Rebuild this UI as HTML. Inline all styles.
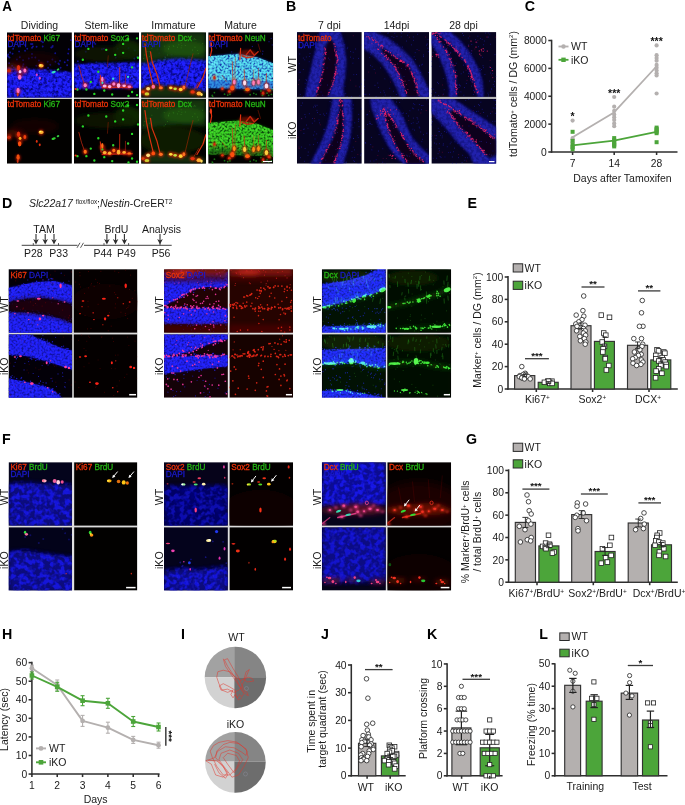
<!DOCTYPE html>
<html><head><meta charset="utf-8"><title>Figure</title>
<style>
html,body{margin:0;padding:0;background:#fff;}
body{width:685px;height:805px;overflow:hidden;position:relative;}
svg{position:absolute;left:0;top:0;display:block;font-family:"Liberation Sans", Arial, sans-serif;will-change:transform;}
</style></head><body>
<svg width="685" height="805" viewBox="0 0 685 805">
<defs>
<filter id="b03" x="-10%" y="-10%" width="120%" height="120%"><feGaussianBlur stdDeviation="0.35"/></filter>
<filter id="b05" x="-10%" y="-10%" width="120%" height="120%"><feGaussianBlur stdDeviation="0.65"/></filter>
<filter id="b1" x="-10%" y="-10%" width="120%" height="120%"><feGaussianBlur stdDeviation="1"/></filter>
<filter id="b2" x="-20%" y="-20%" width="140%" height="140%"><feGaussianBlur stdDeviation="2"/></filter>
<filter id="b4" x="-30%" y="-30%" width="160%" height="160%"><feGaussianBlur stdDeviation="4"/></filter>
<filter id="cell" x="-5%" y="-5%" width="110%" height="110%" color-interpolation-filters="sRGB">
<feTurbulence type="fractalNoise" baseFrequency="0.34" numOctaves="2" seed="3" result="n"/>
<feColorMatrix in="n" type="matrix" values="0 0 0 0 0  0 0 0 0 0  0 0 0 0 0  3.4 0 0 0 -1.05" result="a"/>
<feGaussianBlur in="SourceGraphic" stdDeviation="0.9" result="s"/>
<feComposite in="s" in2="a" operator="in"/></filter>
<filter id="cell2" x="-5%" y="-5%" width="110%" height="110%" color-interpolation-filters="sRGB">
<feTurbulence type="fractalNoise" baseFrequency="0.5" numOctaves="2" seed="8" result="n"/>
<feColorMatrix in="n" type="matrix" values="0 0 0 0 0  0 0 0 0 0  0 0 0 0 0  3.0 0 0 0 -0.75" result="a"/>
<feGaussianBlur in="SourceGraphic" stdDeviation="0.7" result="s"/>
<feComposite in="s" in2="a" operator="in"/></filter>
<filter id="cellb" x="-5%" y="-5%" width="110%" height="110%" color-interpolation-filters="sRGB">
<feTurbulence type="fractalNoise" baseFrequency="0.2" numOctaves="2" seed="5" result="n"/>
<feColorMatrix in="n" type="matrix" values="0 0 0 0 0  0 0 0 0 0  0 0 0 0 0  4.5 0 0 0 -1.9" result="a"/>
<feGaussianBlur in="SourceGraphic" stdDeviation="2" result="s"/>
<feComposite in="s" in2="a" operator="in"/></filter>
</defs>
<text x="39.5" y="28.8" font-size="10.5" text-anchor="middle" fill="#1a1a1a">Dividing</text>
<text x="106.5" y="28.8" font-size="10.5" text-anchor="middle" fill="#1a1a1a">Stem-like</text>
<text x="173.5" y="28.8" font-size="10.5" text-anchor="middle" fill="#1a1a1a">Immature</text>
<text x="240.5" y="28.8" font-size="10.5" text-anchor="middle" fill="#1a1a1a">Mature</text>
<rect x="7" y="97.4" width="64.9" height="2" fill="#c4c4c4"/>
<rect x="74.0" y="97.4" width="65.0" height="2" fill="#c4c4c4"/>
<rect x="141.1" y="97.4" width="64.9" height="2" fill="#c4c4c4"/>
<rect x="208.2" y="97.4" width="65.0" height="2" fill="#c4c4c4"/>
<clipPath id="c1"><rect x="7" y="32.3" width="64.9" height="65.5"/></clipPath>
<g clip-path="url(#c1)">
<rect x="7" y="32.3" width="64.9" height="65.5" fill="#030106"/>
<g filter="url(#b1)" opacity="0.75"><g transform="translate(5.00,30.00) scale(0.19853)">
<polygon points="10,192 120,196 200,200 337,214 337,340 10,340" fill="#1010d0"/>
</g></g>
<g filter="url(#cell)"><g transform="translate(5.00,30.00) scale(0.19853)">
<polygon points="10,192 120,196 200,200 337,214 337,340 10,340" fill="#2020ff"/>
</g></g>
<g filter="url(#b05)"><g transform="translate(5.00,30.00) scale(0.19853)">
<path d="M64 294h0M218 263h0M81 309h0M274 268h0M175 227h0M11 247h0M201 202h0M270 226h0M86 198h0M336 301h0M296 283h0M21 241h0M173 209h0M321 247h0M61 313h0M51 329h0M158 274h0M122 264h0M71 197h0M293 227h0M265 223h0M327 324h0M257 305h0M200 300h0M50 262h0M280 222h0M312 323h0M144 246h0M158 249h0M335 249h0M19 206h0M245 339h0M172 265h0M190 303h0M83 282h0M192 284h0M69 217h0M124 329h0M123 280h0M110 207h0M31 312h0M264 247h0M233 292h0M304 334h0M143 338h0M324 279h0M299 265h0M133 229h0M296 216h0M33 311h0M263 264h0M94 235h0M147 217h0M33 242h0M304 338h0M254 263h0M92 334h0M182 300h0M19 223h0M284 310h0M298 281h0M149 278h0M288 238h0M185 233h0M234 333h0M18 280h0M221 318h0M201 230h0M143 334h0M306 212h0" fill="none" stroke="#2828ff" stroke-width="10" stroke-linecap="round" opacity="0.6"/>
<path d="M41 206h0M18 258h0M56 320h0M224 211h0M186 240h0M171 225h0M64 219h0M134 297h0M242 321h0M263 309h0M13 261h0M31 305h0M67 297h0M93 295h0M113 198h0M137 238h0M305 236h0M175 273h0M207 267h0M250 335h0M111 296h0M182 275h0M31 313h0M329 245h0M114 339h0M45 203h0M34 313h0M258 258h0M221 258h0M179 250h0" fill="none" stroke="#000020" stroke-width="9" stroke-linecap="round" opacity="0.55"/>
<path d="M141 83h0M26 113h0M91 152h0M277 155h0M159 84h0M136 121h0M217 190h0M38 120h0M171 154h0M301 163h0M215 160h0M228 175h0M239 149h0M90 183h0M136 139h0M280 190h0M333 51h0M112 95h0M138 71h0M191 62h0M109 187h0M253 117h0M45 189h0M240 80h0M120 143h0M233 88h0M321 97h0M93 173h0M60 149h0M75 137h0M101 105h0M318 118h0M153 139h0M102 75h0M136 89h0M72 189h0M21 168h0M316 152h0M16 123h0M23 138h0M239 85h0M12 129h0M41 95h0M158 180h0M131 70h0M269 169h0M183 57h0M71 108h0M190 83h0M272 172h0M313 178h0M16 134h0M36 180h0M254 160h0M72 59h0" fill="none" stroke="#1818c8" stroke-width="10" stroke-linecap="round" opacity="0.7"/>
</g></g>
<g filter="url(#b2)"><g transform="translate(5.00,30.00) scale(0.19853)">
<ellipse cx="50" cy="185" rx="50" ry="20" fill="#6a1000" opacity="0.55"/>
<ellipse cx="150" cy="150" rx="120" ry="40" fill="#200400" opacity="0.5"/>
</g></g>
<g filter="url(#b1)"><g transform="translate(5.00,30.00) scale(0.19853)">
<ellipse cx="68" cy="195" rx="13" ry="16" fill="#d82008" opacity="0.65"/>
<ellipse cx="76" cy="225" rx="13" ry="16" fill="#d82008" opacity="0.65"/>
<ellipse cx="100" cy="204" rx="13" ry="16" fill="#d82008" opacity="0.65"/>
<ellipse cx="66" cy="308" rx="13" ry="16" fill="#d82008" opacity="0.65"/>
<ellipse cx="182" cy="180" rx="13" ry="16" fill="#d82008" opacity="0.65"/>
<ellipse cx="20" cy="205" rx="13" ry="16" fill="#d82008" opacity="0.65"/>
</g></g>
<g filter="url(#b05)"><g transform="translate(5.00,30.00) scale(0.19853)">
<ellipse cx="68" cy="190" rx="8" ry="14" fill="#e03010"/>
<ellipse cx="76" cy="210" rx="7" ry="8" fill="#ffd0f0"/>
<ellipse cx="74" cy="238" rx="9" ry="13" fill="#ff70c0"/>
<ellipse cx="100" cy="204" rx="7" ry="10" fill="#ff70c0"/>
<ellipse cx="66" cy="305" rx="8" ry="14" fill="#ff70c0"/>
<ellipse cx="64" cy="325" rx="5" ry="10" fill="#d03010"/>
<ellipse cx="182" cy="180" rx="13" ry="9" fill="#ffb030"/>
<ellipse cx="178" cy="176" rx="6" ry="4" fill="#ffff60"/>
<ellipse cx="160" cy="226" rx="5" ry="7" fill="#e040c0"/>
<ellipse cx="175" cy="243" rx="5" ry="7" fill="#e040c0"/>
<ellipse cx="245" cy="212" rx="11" ry="6" fill="#30e0c0" transform="rotate(-15 245 212)"/>
<ellipse cx="267" cy="199" rx="7" ry="5" fill="#30d040" transform="rotate(-30 267 199)"/>
<ellipse cx="20" cy="205" rx="10" ry="8" fill="#c02808"/>
</g></g>
</g>
<clipPath id="c2"><rect x="74.0" y="32.3" width="65.0" height="65.5"/></clipPath>
<g clip-path="url(#c2)">
<rect x="74.0" y="32.3" width="65.0" height="65.5" fill="#030106"/>
<g filter="url(#b1)" opacity="0.75"><g transform="translate(5.00,30.00) scale(0.19853)">
<polygon points="348,172 500,166 685,164 685,292 348,296" fill="#1010d0"/>
</g></g>
<g filter="url(#cell)"><g transform="translate(5.00,30.00) scale(0.19853)">
<polygon points="348,172 500,166 685,164 685,292 348,296" fill="#2020ff"/>
</g></g>
<g filter="url(#b05)"><g transform="translate(5.00,30.00) scale(0.19853)">
<path d="M671 183h0M356 296h0M410 180h0M568 210h0M648 195h0M671 206h0M551 287h0M579 286h0M587 170h0M645 242h0M453 189h0M634 241h0M664 266h0M672 239h0M583 245h0M435 290h0M453 267h0M670 250h0M396 273h0M573 188h0M365 234h0M359 286h0M519 232h0M486 251h0M657 205h0M474 241h0M448 243h0M531 221h0M575 234h0M378 296h0M468 221h0M484 287h0M669 232h0M483 177h0M650 187h0M532 210h0M459 211h0M528 269h0M566 191h0M582 171h0M486 273h0M658 225h0M633 230h0M525 241h0M682 262h0M507 260h0M565 211h0M612 272h0M553 288h0M354 230h0M562 209h0M406 255h0M494 200h0M362 292h0M467 180h0M421 198h0M640 188h0M441 177h0M506 191h0M464 261h0M660 274h0M361 214h0M634 168h0M416 229h0M477 263h0M590 225h0M432 194h0M438 173h0M572 185h0M648 249h0" fill="none" stroke="#2828ff" stroke-width="10" stroke-linecap="round" opacity="0.6"/>
<path d="M367 230h0M551 170h0M512 168h0M633 195h0M528 182h0M463 278h0M624 165h0M476 249h0M407 270h0M649 237h0M470 276h0M521 189h0M442 185h0M631 231h0M583 272h0M676 189h0M485 279h0M605 215h0M569 190h0M403 171h0M476 195h0M522 292h0M400 238h0M639 243h0M526 265h0M355 289h0M579 270h0M626 177h0M370 188h0M518 288h0" fill="none" stroke="#000020" stroke-width="9" stroke-linecap="round" opacity="0.55"/>
<path d="M654 103h0M558 138h0M460 162h0M665 136h0M652 144h0M568 94h0M443 85h0M367 157h0M449 63h0M455 71h0M498 95h0M407 110h0M488 97h0M622 92h0" fill="none" stroke="#1818c8" stroke-width="10" stroke-linecap="round" opacity="0.7"/>
</g></g>
<g filter="url(#b2)"><g transform="translate(5.00,30.00) scale(0.19853)">
<ellipse cx="620" cy="100" rx="70" ry="50" fill="#0c3008" opacity="0.8"/>
<ellipse cx="500" cy="120" rx="150" ry="40" fill="#0a1c06" opacity="0.7"/>
</g></g>
<g filter="url(#b1)"><g transform="translate(5.00,30.00) scale(0.19853)">
<ellipse cx="404" cy="278" rx="14" ry="15" fill="#d82008" opacity="0.7"/>
<ellipse cx="490" cy="255" rx="14" ry="15" fill="#d82008" opacity="0.7"/>
<ellipse cx="502" cy="282" rx="14" ry="15" fill="#d82008" opacity="0.7"/>
<ellipse cx="527" cy="285" rx="14" ry="15" fill="#d82008" opacity="0.7"/>
<ellipse cx="548" cy="272" rx="14" ry="15" fill="#d82008" opacity="0.7"/>
<ellipse cx="572" cy="278" rx="14" ry="15" fill="#d82008" opacity="0.7"/>
<ellipse cx="600" cy="281" rx="14" ry="15" fill="#d82008" opacity="0.7"/>
<ellipse cx="626" cy="286" rx="14" ry="15" fill="#d82008" opacity="0.7"/>
</g></g>
<g filter="url(#b05)"><g transform="translate(5.00,30.00) scale(0.19853)">
<path d="M420 95h0M510 100h0M595 70h0M555 125h0M595 115h0M665 42h0M670 140h0M640 188h0M392 150h0M365 300h0M410 300h0M450 322h0M500 305h0M540 325h0M640 312h0M665 328h0M622 332h0M620 45h0M470 210h0M432 262h0" fill="none" stroke="#28d828" stroke-width="12" stroke-linecap="round"/>
<path d="M545 245h0M620 236h0M490 266h0" fill="none" stroke="#30d8d0" stroke-width="12" stroke-linecap="round"/>
<polyline points="372,180 385,230 402,278" fill="none" stroke="#d02810" stroke-width="4" stroke-linecap="round" stroke-linejoin="round" opacity="0.9"/>
<polyline points="480,228 484,280" fill="none" stroke="#e03010" stroke-width="5" stroke-linecap="round" stroke-linejoin="round"/>
<polyline points="578,190 577,282" fill="none" stroke="#e03010" stroke-width="4" stroke-linecap="round" stroke-linejoin="round"/>
<polyline points="520,130 516,185" fill="none" stroke="#a02008" stroke-width="3" stroke-linecap="round" stroke-linejoin="round" opacity="0.8"/>
<polyline points="607,225 606,280" fill="none" stroke="#d02810" stroke-width="3" stroke-linecap="round" stroke-linejoin="round" opacity="0.9"/>
<polyline points="490,290 640,288" fill="none" stroke="#e02810" stroke-width="8" stroke-linecap="round" stroke-linejoin="round" opacity="0.85"/>
<ellipse cx="404" cy="278" rx="8" ry="10" fill="#ff80c8"/>
<ellipse cx="490" cy="248" rx="6" ry="14" fill="#ff80c8"/>
<ellipse cx="502" cy="282" rx="10" ry="8" fill="#ffb0e0"/>
<ellipse cx="527" cy="285" rx="9" ry="8" fill="#ffb0e0"/>
<ellipse cx="548" cy="272" rx="8" ry="9" fill="#ff80c8"/>
<ellipse cx="572" cy="280" rx="9" ry="12" fill="#ffb0e0"/>
<ellipse cx="600" cy="281" rx="9" ry="7" fill="#ffb0e0"/>
<ellipse cx="626" cy="286" rx="9" ry="6" fill="#ff80c8"/>
<ellipse cx="356" cy="297" rx="6" ry="5" fill="#e03010"/>
</g></g>
</g>
<clipPath id="c3"><rect x="141.1" y="32.3" width="64.9" height="65.5"/></clipPath>
<g clip-path="url(#c3)">
<rect x="141.1" y="32.3" width="64.9" height="65.5" fill="#030106"/>
<g filter="url(#b1)" opacity="0.75"><g transform="translate(139.00,30.00) scale(0.19853)">
<polygon points="10,168 100,150 200,140 337,150 337,312 280,300 230,290 180,276 130,286 60,272 10,300" fill="#1010d0"/>
</g></g>
<g filter="url(#cell)"><g transform="translate(139.00,30.00) scale(0.19853)">
<polygon points="10,168 100,150 200,140 337,150 337,312 280,300 230,290 180,276 130,286 60,272 10,300" fill="#2020ff"/>
</g></g>
<g filter="url(#b05)"><g transform="translate(139.00,30.00) scale(0.19853)">
<path d="M243 284h0M73 255h0M40 270h0M59 262h0M247 272h0M333 160h0M252 216h0M38 271h0M286 167h0M117 193h0M187 203h0M302 299h0M227 277h0M291 186h0M41 225h0M60 165h0M167 255h0M328 163h0M260 232h0M89 249h0M95 251h0M222 207h0M270 209h0M92 172h0M198 215h0M296 183h0M131 150h0M157 194h0M157 271h0M243 280h0M186 239h0M144 208h0M82 192h0M106 198h0M307 277h0M220 143h0M96 233h0M236 212h0M97 206h0M259 195h0M246 208h0M16 220h0M32 275h0M286 231h0M304 177h0M156 170h0M26 282h0M192 261h0M270 158h0M70 164h0M175 154h0M271 225h0M240 184h0M224 218h0M222 211h0M334 286h0M282 199h0M72 166h0M86 247h0M91 193h0M254 245h0M319 181h0M98 151h0M194 222h0M121 271h0M235 167h0M25 170h0M277 266h0M84 180h0M110 257h0" fill="none" stroke="#2828ff" stroke-width="10" stroke-linecap="round" opacity="0.6"/>
<path d="M255 181h0M118 181h0M319 235h0M317 182h0M217 238h0M315 203h0M322 228h0M119 155h0M127 217h0M195 181h0M45 229h0M326 290h0M109 275h0M282 240h0M128 174h0M240 258h0M80 164h0M300 229h0M210 262h0M61 229h0M57 245h0M302 153h0M176 224h0M324 224h0M307 265h0M285 200h0M41 250h0M47 248h0M69 244h0M76 170h0" fill="none" stroke="#000020" stroke-width="9" stroke-linecap="round" opacity="0.55"/>
<path d="M148 147h0M93 98h0M135 56h0M186 81h0M164 124h0M228 74h0M222 104h0M260 50h0M102 117h0M192 100h0M183 112h0M251 133h0M265 141h0M198 67h0M131 136h0M262 112h0" fill="none" stroke="#1818c8" stroke-width="10" stroke-linecap="round" opacity="0.7"/>
</g></g>
<g filter="url(#b2)"><g transform="translate(139.00,30.00) scale(0.19853)">
<polygon points="10,12 337,12 337,150 200,140 100,150 10,168" fill="#143a0a" opacity="0.9"/>
<ellipse cx="230" cy="95" rx="110" ry="40" fill="#1f5a10" opacity="0.7"/>
<polygon points="10,300 60,280 180,285 337,310 337,340 10,340" fill="#1a3008" opacity="0.9"/>
</g></g>
<g filter="url(#b1)"><g transform="translate(139.00,30.00) scale(0.19853)">
<ellipse cx="46" cy="296" rx="15" ry="14" fill="#d82808" opacity="0.7"/>
<ellipse cx="72" cy="286" rx="15" ry="14" fill="#d82808" opacity="0.7"/>
<ellipse cx="110" cy="291" rx="15" ry="14" fill="#d82808" opacity="0.7"/>
<ellipse cx="160" cy="291" rx="15" ry="14" fill="#d82808" opacity="0.7"/>
<ellipse cx="182" cy="296" rx="15" ry="14" fill="#d82808" opacity="0.7"/>
<ellipse cx="210" cy="300" rx="15" ry="14" fill="#d82808" opacity="0.7"/>
<ellipse cx="226" cy="290" rx="15" ry="14" fill="#d82808" opacity="0.7"/>
<ellipse cx="270" cy="312" rx="15" ry="14" fill="#d82808" opacity="0.7"/>
<ellipse cx="302" cy="320" rx="15" ry="14" fill="#d82808" opacity="0.7"/>
<ellipse cx="40" cy="322" rx="15" ry="14" fill="#d82808" opacity="0.7"/>
<ellipse cx="20" cy="312" rx="15" ry="14" fill="#d82808" opacity="0.7"/>
</g></g>
<g filter="url(#b05)"><g transform="translate(139.00,30.00) scale(0.19853)">
<path d="M133 140h0M286 48h0M295 103h0M24 144h0M94 60h0M149 97h0M51 109h0M282 87h0M270 101h0M280 44h0M127 81h0M44 147h0M218 33h0M201 74h0M72 41h0M161 29h0M194 87h0M52 134h0M23 42h0M277 49h0M149 93h0M152 84h0M175 83h0M29 126h0M102 26h0M144 126h0M216 79h0M166 49h0M212 66h0M31 37h0M40 109h0M298 118h0M82 39h0M321 69h0M65 94h0M212 90h0M158 59h0M172 79h0M233 78h0M126 148h0" fill="none" stroke="#3a8a20" stroke-width="5" stroke-linecap="round" opacity="0.6"/>
<polyline points="30,70 38,130 52,200 72,282" fill="none" stroke="#d83010" stroke-width="6" stroke-linecap="round" stroke-linejoin="round"/>
<polyline points="58,110 66,160 90,222 106,286" fill="none" stroke="#d83010" stroke-width="6" stroke-linecap="round" stroke-linejoin="round"/>
<polyline points="232,282 256,182 272,120" fill="none" stroke="#a02808" stroke-width="4" stroke-linecap="round" stroke-linejoin="round" opacity="0.8"/>
<polyline points="292,292 322,240 337,192" fill="none" stroke="#d83010" stroke-width="6" stroke-linecap="round" stroke-linejoin="round"/>
<polyline points="278,300 300,262" fill="none" stroke="#d02810" stroke-width="3" stroke-linecap="round" stroke-linejoin="round"/>
<ellipse cx="46" cy="296" rx="10" ry="9" fill="#ffe080"/>
<ellipse cx="72" cy="286" rx="9" ry="10" fill="#ff70a0"/>
<ellipse cx="110" cy="291" rx="10" ry="8" fill="#ff7020"/>
<ellipse cx="160" cy="291" rx="9" ry="7" fill="#ffe040"/>
<ellipse cx="182" cy="296" rx="9" ry="7" fill="#c0e040"/>
<ellipse cx="210" cy="300" rx="10" ry="9" fill="#ffd030"/>
<ellipse cx="226" cy="290" rx="7" ry="10" fill="#ff7020"/>
<ellipse cx="270" cy="312" rx="11" ry="8" fill="#e83010"/>
<ellipse cx="302" cy="320" rx="12" ry="10" fill="#ffb030"/>
<ellipse cx="40" cy="322" rx="12" ry="8" fill="#d0d030"/>
<ellipse cx="20" cy="312" rx="8" ry="7" fill="#e04010"/>
<ellipse cx="315" cy="325" rx="6" ry="8" fill="#ffe060"/>
</g></g>
</g>
<clipPath id="c4"><rect x="208.2" y="32.3" width="65.0" height="65.5"/></clipPath>
<g clip-path="url(#c4)">
<rect x="208.2" y="32.3" width="65.0" height="65.5" fill="#030106"/>
<g filter="url(#b1)"><g transform="translate(139.00,30.00) scale(0.19853)">
<polygon points="348,132 500,120 600,138 675,168 675,300 348,292" fill="#1840b0"/>
</g></g>
<g filter="url(#cell2)"><g transform="translate(139.00,30.00) scale(0.19853)">
<polygon points="348,132 500,120 600,138 675,168 675,262 348,255" fill="#58e0f0"/>
<polygon points="348,250 675,258 675,300 348,292" fill="#3090e0"/>
</g></g>
<g filter="url(#b05)"><g transform="translate(139.00,30.00) scale(0.19853)">
<path d="M592 57h0M415 91h0M367 106h0M598 44h0M571 83h0M556 121h0M671 75h0M624 107h0M666 42h0M655 59h0M390 91h0M622 121h0M467 110h0M358 122h0" fill="none" stroke="#2020c0" stroke-width="7" stroke-linecap="round" opacity="0.6"/>
<path d="M444 200h0M389 145h0M351 206h0M531 230h0M626 187h0M625 162h0M636 168h0M655 182h0M488 197h0M367 148h0M526 219h0M363 185h0M469 226h0M526 151h0M604 244h0M579 204h0M361 151h0M426 149h0M392 246h0M462 240h0M597 225h0M647 217h0M462 192h0M476 144h0M362 202h0M519 247h0M551 230h0M504 204h0M354 187h0M444 187h0M369 159h0M380 207h0M359 142h0M571 187h0M355 243h0M508 243h0M560 200h0M477 151h0M664 188h0M448 156h0M479 229h0M577 197h0M562 221h0M395 167h0M370 171h0M490 164h0M647 219h0M382 163h0M596 156h0M551 215h0M525 227h0M655 248h0M365 193h0M386 222h0M415 158h0M367 142h0M433 161h0M519 230h0M584 176h0M432 226h0" fill="none" stroke="#70f0ff" stroke-width="9" stroke-linecap="round" opacity="0.6"/>
</g></g>
<g filter="url(#b1)"><g transform="translate(139.00,30.00) scale(0.19853)">
<ellipse cx="470" cy="292" rx="15" ry="19" fill="#d82008" opacity="0.75"/>
<ellipse cx="480" cy="262" rx="11" ry="19" fill="#d82008" opacity="0.75"/>
<ellipse cx="532" cy="266" rx="12" ry="19" fill="#d82008" opacity="0.75"/>
<ellipse cx="546" cy="300" rx="16" ry="15" fill="#d82008" opacity="0.75"/>
<ellipse cx="577" cy="266" rx="11" ry="19" fill="#d82008" opacity="0.75"/>
<ellipse cx="602" cy="262" rx="11" ry="19" fill="#d82008" opacity="0.75"/>
<ellipse cx="642" cy="282" rx="13" ry="19" fill="#d82008" opacity="0.75"/>
<ellipse cx="655" cy="304" rx="12" ry="13" fill="#d82008" opacity="0.75"/>
<ellipse cx="455" cy="310" rx="11" ry="12" fill="#d82008" opacity="0.75"/>
<ellipse cx="625" cy="318" rx="10" ry="14" fill="#d82008" opacity="0.75"/>
<ellipse cx="420" cy="296" rx="10" ry="12" fill="#d82008" opacity="0.75"/>
<ellipse cx="380" cy="240" rx="9" ry="14" fill="#d82008" opacity="0.75"/>
<ellipse cx="545" cy="118" rx="45" ry="18" fill="#a01808" opacity="0.55"/>
</g></g>
<g filter="url(#b05)"><g transform="translate(139.00,30.00) scale(0.19853)">
<path d="M560 326h0M661 307h0M369 330h0M457 314h0M614 307h0M645 318h0M371 334h0M535 303h0M622 329h0M590 324h0M673 300h0M667 324h0M431 323h0M458 324h0M578 319h0M380 315h0M447 328h0M653 329h0" fill="none" stroke="#1c8a18" stroke-width="9" stroke-linecap="round" opacity="0.8"/>
<polyline points="362,62 366,100 360,130" fill="none" stroke="#e03010" stroke-width="6" stroke-linecap="round" stroke-linejoin="round"/>
<ellipse cx="362" cy="75" rx="6" ry="12" fill="#e83818"/>
<polyline points="512,92 508,150" fill="none" stroke="#e03010" stroke-width="6" stroke-linecap="round" stroke-linejoin="round"/>
<polyline points="540,125 560,100 580,128 600,110" fill="none" stroke="#d02810" stroke-width="7" stroke-linecap="round" stroke-linejoin="round" opacity="0.9"/>
<polyline points="520,130 545,140 575,135" fill="none" stroke="#d02810" stroke-width="7" stroke-linecap="round" stroke-linejoin="round" opacity="0.9"/>
<polyline points="470,160 474,290" fill="none" stroke="#d03010" stroke-width="4" stroke-linecap="round" stroke-linejoin="round" opacity="0.85"/>
<polyline points="530,200 532,270" fill="none" stroke="#d03010" stroke-width="4" stroke-linecap="round" stroke-linejoin="round" opacity="0.85"/>
<polyline points="642,220 640,285" fill="none" stroke="#d03010" stroke-width="4" stroke-linecap="round" stroke-linejoin="round" opacity="0.85"/>
<polyline points="578,200 577,262" fill="none" stroke="#d03010" stroke-width="3" stroke-linecap="round" stroke-linejoin="round" opacity="0.7"/>
<polyline points="602,195 602,258" fill="none" stroke="#d03010" stroke-width="3" stroke-linecap="round" stroke-linejoin="round" opacity="0.7"/>
<polyline points="600,70 612,110" fill="none" stroke="#a02008" stroke-width="3" stroke-linecap="round" stroke-linejoin="round" opacity="0.8"/>
<polyline points="420,230 440,260" fill="none" stroke="#d03010" stroke-width="3" stroke-linecap="round" stroke-linejoin="round" opacity="0.8"/>
<polyline points="486,140 482,255" fill="none" stroke="#c02808" stroke-width="3" stroke-linecap="round" stroke-linejoin="round" opacity="0.7"/>
<ellipse cx="470" cy="292" rx="11" ry="13" fill="#ff5010"/>
<ellipse cx="480" cy="262" rx="7" ry="13" fill="#ff80b8"/>
<ellipse cx="532" cy="266" rx="8" ry="13" fill="#ffe0f0"/>
<ellipse cx="546" cy="300" rx="12" ry="9" fill="#ff6010"/>
<ellipse cx="577" cy="266" rx="7" ry="13" fill="#ff80b8"/>
<ellipse cx="602" cy="262" rx="7" ry="13" fill="#ff80b8"/>
<ellipse cx="642" cy="282" rx="9" ry="13" fill="#ffe0f0"/>
<ellipse cx="655" cy="304" rx="8" ry="7" fill="#e03010"/>
<ellipse cx="455" cy="310" rx="7" ry="6" fill="#e03010"/>
<ellipse cx="625" cy="318" rx="6" ry="8" fill="#d02810"/>
<ellipse cx="420" cy="296" rx="6" ry="6" fill="#e03010"/>
<ellipse cx="380" cy="240" rx="5" ry="8" fill="#d02810"/>
</g></g>
</g>
<clipPath id="c5"><rect x="7" y="99.0" width="64.9" height="64.7"/></clipPath>
<g clip-path="url(#c5)">
<rect x="7" y="99.0" width="64.9" height="64.7" fill="#020100"/>
<g filter="url(#b2)"><g transform="translate(5.00,96.60) scale(0.19853)">
<ellipse cx="50" cy="185" rx="50" ry="20" fill="#6a1000" opacity="0.55"/>
<ellipse cx="150" cy="150" rx="120" ry="40" fill="#200400" opacity="0.5"/>
</g></g>
<g filter="url(#b1)"><g transform="translate(5.00,96.60) scale(0.19853)">
<ellipse cx="68" cy="195" rx="13" ry="16" fill="#d82008" opacity="0.65"/>
<ellipse cx="76" cy="225" rx="13" ry="16" fill="#d82008" opacity="0.65"/>
<ellipse cx="100" cy="204" rx="13" ry="16" fill="#d82008" opacity="0.65"/>
<ellipse cx="66" cy="308" rx="13" ry="16" fill="#d82008" opacity="0.65"/>
<ellipse cx="182" cy="180" rx="13" ry="16" fill="#d82008" opacity="0.65"/>
<ellipse cx="20" cy="205" rx="13" ry="16" fill="#d82008" opacity="0.65"/>
</g></g>
<g filter="url(#b05)"><g transform="translate(5.00,96.60) scale(0.19853)">
<ellipse cx="68" cy="190" rx="8" ry="14" fill="#e03010"/>
<ellipse cx="76" cy="210" rx="7" ry="8" fill="#ffb020"/>
<ellipse cx="74" cy="238" rx="9" ry="13" fill="#ff5010"/>
<ellipse cx="100" cy="204" rx="7" ry="10" fill="#f04010"/>
<ellipse cx="66" cy="305" rx="8" ry="14" fill="#f05010"/>
<ellipse cx="64" cy="325" rx="5" ry="10" fill="#d03010"/>
<ellipse cx="182" cy="180" rx="13" ry="9" fill="#ffb030"/>
<ellipse cx="178" cy="176" rx="6" ry="4" fill="#ffff60"/>
<ellipse cx="160" cy="226" rx="5" ry="7" fill="#e03010"/>
<ellipse cx="175" cy="243" rx="5" ry="7" fill="#e03010"/>
<ellipse cx="245" cy="212" rx="11" ry="6" fill="#30d030" transform="rotate(-15 245 212)"/>
<ellipse cx="267" cy="199" rx="7" ry="5" fill="#30d040" transform="rotate(-30 267 199)"/>
<ellipse cx="20" cy="205" rx="10" ry="8" fill="#c02808"/>
</g></g>
</g>
<clipPath id="c6"><rect x="74.0" y="99.0" width="65.0" height="64.7"/></clipPath>
<g clip-path="url(#c6)">
<rect x="74.0" y="99.0" width="65.0" height="64.7" fill="#020100"/>
<g filter="url(#b2)"><g transform="translate(5.00,96.60) scale(0.19853)">
<ellipse cx="620" cy="100" rx="70" ry="50" fill="#0c3008" opacity="0.8"/>
<ellipse cx="500" cy="120" rx="150" ry="40" fill="#0a1c06" opacity="0.7"/>
</g></g>
<g filter="url(#b1)"><g transform="translate(5.00,96.60) scale(0.19853)">
<ellipse cx="404" cy="278" rx="14" ry="15" fill="#d82008" opacity="0.7"/>
<ellipse cx="490" cy="255" rx="14" ry="15" fill="#d82008" opacity="0.7"/>
<ellipse cx="502" cy="282" rx="14" ry="15" fill="#d82008" opacity="0.7"/>
<ellipse cx="527" cy="285" rx="14" ry="15" fill="#d82008" opacity="0.7"/>
<ellipse cx="548" cy="272" rx="14" ry="15" fill="#d82008" opacity="0.7"/>
<ellipse cx="572" cy="278" rx="14" ry="15" fill="#d82008" opacity="0.7"/>
<ellipse cx="600" cy="281" rx="14" ry="15" fill="#d82008" opacity="0.7"/>
<ellipse cx="626" cy="286" rx="14" ry="15" fill="#d82008" opacity="0.7"/>
</g></g>
<g filter="url(#b05)"><g transform="translate(5.00,96.60) scale(0.19853)">
<path d="M420 95h0M510 100h0M595 70h0M555 125h0M595 115h0M665 42h0M670 140h0M640 188h0M392 150h0M365 300h0M410 300h0M450 322h0M500 305h0M540 325h0M640 312h0M665 328h0M622 332h0M620 45h0M470 210h0M432 262h0" fill="none" stroke="#28d828" stroke-width="12" stroke-linecap="round"/>
<path d="M545 245h0M620 236h0M490 266h0" fill="none" stroke="#30d030" stroke-width="12" stroke-linecap="round"/>
<polyline points="372,180 385,230 402,278" fill="none" stroke="#d02810" stroke-width="4" stroke-linecap="round" stroke-linejoin="round" opacity="0.9"/>
<polyline points="480,228 484,280" fill="none" stroke="#e03010" stroke-width="5" stroke-linecap="round" stroke-linejoin="round"/>
<polyline points="578,190 577,282" fill="none" stroke="#e03010" stroke-width="4" stroke-linecap="round" stroke-linejoin="round"/>
<polyline points="520,130 516,185" fill="none" stroke="#a02008" stroke-width="3" stroke-linecap="round" stroke-linejoin="round" opacity="0.8"/>
<polyline points="607,225 606,280" fill="none" stroke="#d02810" stroke-width="3" stroke-linecap="round" stroke-linejoin="round" opacity="0.9"/>
<polyline points="490,290 640,288" fill="none" stroke="#e02810" stroke-width="8" stroke-linecap="round" stroke-linejoin="round" opacity="0.85"/>
<ellipse cx="404" cy="278" rx="8" ry="10" fill="#ff7018"/>
<ellipse cx="490" cy="248" rx="6" ry="14" fill="#ff7018"/>
<ellipse cx="502" cy="282" rx="10" ry="8" fill="#ffb030"/>
<ellipse cx="527" cy="285" rx="9" ry="8" fill="#ffb030"/>
<ellipse cx="548" cy="272" rx="8" ry="9" fill="#ff7018"/>
<ellipse cx="572" cy="280" rx="9" ry="12" fill="#ffb030"/>
<ellipse cx="600" cy="281" rx="9" ry="7" fill="#ffb030"/>
<ellipse cx="626" cy="286" rx="9" ry="6" fill="#ff7018"/>
<ellipse cx="356" cy="297" rx="6" ry="5" fill="#e03010"/>
</g></g>
</g>
<clipPath id="c7"><rect x="141.1" y="99.0" width="64.9" height="64.7"/></clipPath>
<g clip-path="url(#c7)">
<rect x="141.1" y="99.0" width="64.9" height="64.7" fill="#020100"/>
<g filter="url(#b2)"><g transform="translate(139.00,96.60) scale(0.19853)">
<polygon points="10,12 337,12 337,150 200,140 100,150 10,168" fill="#143a0a" opacity="0.9"/>
<ellipse cx="230" cy="95" rx="110" ry="40" fill="#1f5a10" opacity="0.7"/>
<polygon points="10,300 60,280 180,285 337,310 337,340 10,340" fill="#1a3008" opacity="0.9"/>
<ellipse cx="170" cy="220" rx="170" ry="70" fill="#0a1c04" opacity="0.9"/>
</g></g>
<g filter="url(#b1)"><g transform="translate(139.00,96.60) scale(0.19853)">
<ellipse cx="46" cy="296" rx="15" ry="14" fill="#d82808" opacity="0.7"/>
<ellipse cx="72" cy="286" rx="15" ry="14" fill="#d82808" opacity="0.7"/>
<ellipse cx="110" cy="291" rx="15" ry="14" fill="#d82808" opacity="0.7"/>
<ellipse cx="160" cy="291" rx="15" ry="14" fill="#d82808" opacity="0.7"/>
<ellipse cx="182" cy="296" rx="15" ry="14" fill="#d82808" opacity="0.7"/>
<ellipse cx="210" cy="300" rx="15" ry="14" fill="#d82808" opacity="0.7"/>
<ellipse cx="226" cy="290" rx="15" ry="14" fill="#d82808" opacity="0.7"/>
<ellipse cx="270" cy="312" rx="15" ry="14" fill="#d82808" opacity="0.7"/>
<ellipse cx="302" cy="320" rx="15" ry="14" fill="#d82808" opacity="0.7"/>
<ellipse cx="40" cy="322" rx="15" ry="14" fill="#d82808" opacity="0.7"/>
<ellipse cx="20" cy="312" rx="15" ry="14" fill="#d82808" opacity="0.7"/>
</g></g>
<g filter="url(#b05)"><g transform="translate(139.00,96.60) scale(0.19853)">
<path d="M133 140h0M286 48h0M295 103h0M24 144h0M94 60h0M149 97h0M51 109h0M282 87h0M270 101h0M280 44h0M127 81h0M44 147h0M218 33h0M201 74h0M72 41h0M161 29h0M194 87h0M52 134h0M23 42h0M277 49h0M149 93h0M152 84h0M175 83h0M29 126h0M102 26h0M144 126h0M216 79h0M166 49h0M212 66h0M31 37h0M40 109h0M298 118h0M82 39h0M321 69h0M65 94h0M212 90h0M158 59h0M172 79h0M233 78h0M126 148h0" fill="none" stroke="#3a8a20" stroke-width="5" stroke-linecap="round" opacity="0.6"/>
<polyline points="30,70 38,130 52,200 72,282" fill="none" stroke="#d83010" stroke-width="6" stroke-linecap="round" stroke-linejoin="round"/>
<polyline points="58,110 66,160 90,222 106,286" fill="none" stroke="#d83010" stroke-width="6" stroke-linecap="round" stroke-linejoin="round"/>
<polyline points="232,282 256,182 272,120" fill="none" stroke="#a02808" stroke-width="4" stroke-linecap="round" stroke-linejoin="round" opacity="0.8"/>
<polyline points="292,292 322,240 337,192" fill="none" stroke="#d83010" stroke-width="6" stroke-linecap="round" stroke-linejoin="round"/>
<polyline points="278,300 300,262" fill="none" stroke="#d02810" stroke-width="3" stroke-linecap="round" stroke-linejoin="round"/>
<ellipse cx="46" cy="296" rx="10" ry="9" fill="#ffe080"/>
<ellipse cx="72" cy="286" rx="9" ry="10" fill="#ff5010"/>
<ellipse cx="110" cy="291" rx="10" ry="8" fill="#ff7020"/>
<ellipse cx="160" cy="291" rx="9" ry="7" fill="#ffe040"/>
<ellipse cx="182" cy="296" rx="9" ry="7" fill="#c0e040"/>
<ellipse cx="210" cy="300" rx="10" ry="9" fill="#ffd030"/>
<ellipse cx="226" cy="290" rx="7" ry="10" fill="#ff7020"/>
<ellipse cx="270" cy="312" rx="11" ry="8" fill="#e83010"/>
<ellipse cx="302" cy="320" rx="12" ry="10" fill="#ffb030"/>
<ellipse cx="40" cy="322" rx="12" ry="8" fill="#d0d030"/>
<ellipse cx="20" cy="312" rx="8" ry="7" fill="#e04010"/>
<ellipse cx="315" cy="325" rx="6" ry="8" fill="#ffe060"/>
</g></g>
</g>
<clipPath id="c8"><rect x="208.2" y="99.0" width="65.0" height="64.7"/></clipPath>
<g clip-path="url(#c8)">
<rect x="208.2" y="99.0" width="65.0" height="64.7" fill="#020100"/>
<g filter="url(#b1)"><g transform="translate(139.00,96.60) scale(0.19853)">
<polygon points="348,132 500,120 600,138 675,168 675,300 348,292" fill="#0e4a08"/>
</g></g>
<g filter="url(#cell2)"><g transform="translate(139.00,96.60) scale(0.19853)">
<polygon points="348,132 500,120 600,138 675,168 675,300 348,292" fill="#3cd425"/>
</g></g>
<g filter="url(#b2)"><g transform="translate(139.00,96.60) scale(0.19853)">
<polygon points="348,255 675,262 675,310 348,302" fill="#000" opacity="0.45"/>
</g></g>
<g filter="url(#b05)"><g transform="translate(139.00,96.60) scale(0.19853)">
<path d="M592 166h0M415 218h0M367 241h0M598 145h0M571 205h0M556 264h0M671 193h0M624 242h0M655 169h0M390 218h0M622 264h0M467 248h0M444 211h0M389 146h0M351 218h0M531 246h0M626 195h0M625 166h0M636 173h0M655 190h0M488 207h0M367 150h0M526 233h0M363 193h0M469 242h0M526 154h0M604 262h0M579 216h0M361 153h0M426 151h0M392 265h0M462 258h0M597 241h0M647 231h0M462 201h0M476 144h0M362 214h0M519 266h0M551 246h0M504 216h0M354 196h0M444 196h0M369 162h0M380 219h0M359 143h0M571 195h0M355 262h0M508 262h0M560 211h0M477 153h0M664 197h0M448 159h0M543 268h0M479 245h0M577 207h0M562 235h0M395 172h0M370 177h0M490 168h0M647 233h0M382 168h0M596 159h0M588 145h0M551 228h0M525 243h0M655 268h0M365 203h0M386 237h0M415 162h0M367 142h0" fill="none" stroke="#58e83c" stroke-width="9" stroke-linecap="round" opacity="0.55"/>
</g></g>
<g filter="url(#b1)"><g transform="translate(139.00,96.60) scale(0.19853)">
<ellipse cx="470" cy="292" rx="15" ry="19" fill="#d82008" opacity="0.75"/>
<ellipse cx="480" cy="262" rx="11" ry="19" fill="#d82008" opacity="0.75"/>
<ellipse cx="532" cy="266" rx="12" ry="19" fill="#d82008" opacity="0.75"/>
<ellipse cx="546" cy="300" rx="16" ry="15" fill="#d82008" opacity="0.75"/>
<ellipse cx="577" cy="266" rx="11" ry="19" fill="#d82008" opacity="0.75"/>
<ellipse cx="602" cy="262" rx="11" ry="19" fill="#d82008" opacity="0.75"/>
<ellipse cx="642" cy="282" rx="13" ry="19" fill="#d82008" opacity="0.75"/>
<ellipse cx="655" cy="304" rx="12" ry="13" fill="#d82008" opacity="0.75"/>
<ellipse cx="455" cy="310" rx="11" ry="12" fill="#d82008" opacity="0.75"/>
<ellipse cx="625" cy="318" rx="10" ry="14" fill="#d82008" opacity="0.75"/>
<ellipse cx="420" cy="296" rx="10" ry="12" fill="#d82008" opacity="0.75"/>
<ellipse cx="380" cy="240" rx="9" ry="14" fill="#d82008" opacity="0.75"/>
<ellipse cx="545" cy="118" rx="45" ry="18" fill="#a01808" opacity="0.55"/>
</g></g>
<g filter="url(#b05)"><g transform="translate(139.00,96.60) scale(0.19853)">
<path d="M560 326h0M661 307h0M369 330h0M457 314h0M614 307h0M645 318h0M371 334h0M535 303h0M622 329h0M590 324h0M673 300h0M667 324h0M431 323h0M458 324h0M578 319h0M380 315h0M447 328h0M653 329h0" fill="none" stroke="#1c8a18" stroke-width="9" stroke-linecap="round" opacity="0.8"/>
<polyline points="362,62 366,100 360,130" fill="none" stroke="#e03010" stroke-width="6" stroke-linecap="round" stroke-linejoin="round"/>
<ellipse cx="362" cy="75" rx="6" ry="12" fill="#e83818"/>
<polyline points="512,92 508,150" fill="none" stroke="#e03010" stroke-width="6" stroke-linecap="round" stroke-linejoin="round"/>
<polyline points="540,125 560,100 580,128 600,110" fill="none" stroke="#d02810" stroke-width="7" stroke-linecap="round" stroke-linejoin="round" opacity="0.9"/>
<polyline points="520,130 545,140 575,135" fill="none" stroke="#d02810" stroke-width="7" stroke-linecap="round" stroke-linejoin="round" opacity="0.9"/>
<polyline points="470,160 474,290" fill="none" stroke="#d03010" stroke-width="4" stroke-linecap="round" stroke-linejoin="round" opacity="0.85"/>
<polyline points="530,200 532,270" fill="none" stroke="#d03010" stroke-width="4" stroke-linecap="round" stroke-linejoin="round" opacity="0.85"/>
<polyline points="642,220 640,285" fill="none" stroke="#d03010" stroke-width="4" stroke-linecap="round" stroke-linejoin="round" opacity="0.85"/>
<polyline points="578,200 577,262" fill="none" stroke="#d03010" stroke-width="3" stroke-linecap="round" stroke-linejoin="round" opacity="0.7"/>
<polyline points="602,195 602,258" fill="none" stroke="#d03010" stroke-width="3" stroke-linecap="round" stroke-linejoin="round" opacity="0.7"/>
<polyline points="600,70 612,110" fill="none" stroke="#a02008" stroke-width="3" stroke-linecap="round" stroke-linejoin="round" opacity="0.8"/>
<polyline points="420,230 440,260" fill="none" stroke="#d03010" stroke-width="3" stroke-linecap="round" stroke-linejoin="round" opacity="0.8"/>
<polyline points="486,140 482,255" fill="none" stroke="#c02808" stroke-width="3" stroke-linecap="round" stroke-linejoin="round" opacity="0.7"/>
<ellipse cx="470" cy="292" rx="11" ry="13" fill="#ff5010"/>
<ellipse cx="480" cy="262" rx="7" ry="13" fill="#ff9018"/>
<ellipse cx="532" cy="266" rx="8" ry="13" fill="#ffd040"/>
<ellipse cx="546" cy="300" rx="12" ry="9" fill="#ff6010"/>
<ellipse cx="577" cy="266" rx="7" ry="13" fill="#ff9018"/>
<ellipse cx="602" cy="262" rx="7" ry="13" fill="#ff9018"/>
<ellipse cx="642" cy="282" rx="9" ry="13" fill="#ffd040"/>
<ellipse cx="655" cy="304" rx="8" ry="7" fill="#e03010"/>
<ellipse cx="455" cy="310" rx="7" ry="6" fill="#e03010"/>
<ellipse cx="625" cy="318" rx="6" ry="8" fill="#d02810"/>
<ellipse cx="420" cy="296" rx="6" ry="6" fill="#e03010"/>
<ellipse cx="380" cy="240" rx="5" ry="8" fill="#d02810"/>
</g></g>
</g>
<text x="7.6" y="40.599999999999994" font-size="8.2"><tspan fill="#ea3208" stroke="#ea3208" stroke-width="0.3">tdTomato </tspan><tspan fill="#25b514" stroke="#25b514" stroke-width="0.3">Ki67</tspan></text>
<text x="7.6" y="107.3" font-size="8.2"><tspan fill="#ea3208" stroke="#ea3208" stroke-width="0.3">tdTomato </tspan><tspan fill="#25b514" stroke="#25b514" stroke-width="0.3">Ki67</tspan></text>
<text x="7.6" y="47.3" font-size="8.2"><tspan fill="#1a1acc" stroke="#1a1acc" stroke-width="0.3">DAPI</tspan></text>
<text x="74.6" y="40.599999999999994" font-size="8.2"><tspan fill="#ea3208" stroke="#ea3208" stroke-width="0.3">tdTomato </tspan><tspan fill="#25b514" stroke="#25b514" stroke-width="0.3">Sox2</tspan></text>
<text x="74.6" y="107.3" font-size="8.2"><tspan fill="#ea3208" stroke="#ea3208" stroke-width="0.3">tdTomato </tspan><tspan fill="#25b514" stroke="#25b514" stroke-width="0.3">Sox2</tspan></text>
<text x="74.6" y="47.3" font-size="8.2"><tspan fill="#1a1acc" stroke="#1a1acc" stroke-width="0.3">DAPI</tspan></text>
<text x="141.7" y="40.599999999999994" font-size="8.2"><tspan fill="#ea3208" stroke="#ea3208" stroke-width="0.3">tdTomato </tspan><tspan fill="#25b514" stroke="#25b514" stroke-width="0.3">Dcx</tspan></text>
<text x="141.7" y="107.3" font-size="8.2"><tspan fill="#ea3208" stroke="#ea3208" stroke-width="0.3">tdTomato </tspan><tspan fill="#25b514" stroke="#25b514" stroke-width="0.3">Dcx</tspan></text>
<text x="141.7" y="47.3" font-size="8.2"><tspan fill="#1a1acc" stroke="#1a1acc" stroke-width="0.3">DAPI</tspan></text>
<text x="208.79999999999998" y="40.599999999999994" font-size="8.2"><tspan fill="#ea3208" stroke="#ea3208" stroke-width="0.3">tdTomato </tspan><tspan fill="#25b514" stroke="#25b514" stroke-width="0.3">NeuN</tspan></text>
<text x="208.79999999999998" y="107.3" font-size="8.2"><tspan fill="#ea3208" stroke="#ea3208" stroke-width="0.3">tdTomato </tspan><tspan fill="#25b514" stroke="#25b514" stroke-width="0.3">NeuN</tspan></text>
<text x="208.79999999999998" y="47.3" font-size="8.2"><tspan fill="#1a1acc" stroke="#1a1acc" stroke-width="0.3">DAPI</tspan></text>
<line x1="263" y1="161.5" x2="272" y2="161.5" stroke="#fff" stroke-width="1.2"/>
<text x="329.5" y="28.8" font-size="10.5" text-anchor="middle" fill="#1a1a1a">7 dpi</text>
<text x="396.5" y="28.8" font-size="10.5" text-anchor="middle" fill="#1a1a1a">14dpi</text>
<text x="463.5" y="28.8" font-size="10.5" text-anchor="middle" fill="#1a1a1a">28 dpi</text>
<text x="296.2" y="64.3" font-size="10.5" text-anchor="middle" fill="#1a1a1a" transform="rotate(-90 296.2 64.3)">WT</text>
<text x="296.2" y="130.3" font-size="10.5" text-anchor="middle" fill="#1a1a1a" transform="rotate(-90 296.2 130.3)">iKO</text>
<rect x="296.9" y="96.5" width="64.9" height="3" fill="#b6b6b6"/>
<rect x="364.1" y="96.5" width="64.9" height="3" fill="#b6b6b6"/>
<rect x="431.4" y="96.5" width="64.9" height="3" fill="#b6b6b6"/>
<clipPath id="c9"><rect x="296.9" y="32.1" width="64.9" height="64.8"/></clipPath>
<g clip-path="url(#c9)">
<rect x="296.9" y="32.1" width="64.9" height="64.8" fill="#070420"/>
<g filter="url(#b05)"><g transform="translate(295.00,30.00) scale(0.10219)">
<path d="M28 92h0M271 458h0M109 92h0M168 505h0M114 494h0M444 107h0M363 307h0M284 658h0M80 33h0M621 278h0M147 231h0M254 631h0M155 159h0M394 370h0M630 557h0M248 150h0M555 653h0M39 490h0M576 437h0M160 530h0M487 144h0M430 160h0M47 235h0M234 274h0M434 555h0M635 645h0M656 526h0M216 133h0M419 369h0M452 80h0M143 609h0M405 465h0M81 275h0M602 436h0M655 146h0M311 532h0M305 525h0M379 96h0M83 649h0M96 144h0M235 477h0M567 324h0M339 525h0M198 258h0M412 427h0M44 92h0M108 484h0M463 643h0M511 183h0M510 650h0M243 27h0M260 201h0M133 49h0M100 574h0M52 413h0M152 144h0M545 211h0M138 311h0M465 356h0M570 277h0M355 479h0M315 479h0M319 106h0M99 521h0M497 623h0M462 391h0M126 566h0M96 292h0M110 264h0M217 292h0M475 367h0M175 518h0M490 549h0M41 413h0M593 186h0M149 541h0M253 277h0M543 266h0M147 157h0M241 467h0M256 513h0M62 179h0M420 327h0M340 619h0M198 136h0M42 329h0M210 323h0M24 20h0M263 505h0M212 604h0M391 278h0M517 169h0M407 562h0M366 225h0M81 387h0M140 259h0M367 622h0M451 352h0M569 218h0M268 453h0M375 162h0M283 547h0M175 472h0M51 631h0M458 227h0M649 530h0M59 179h0M335 659h0M110 51h0M220 49h0" fill="none" stroke="#2424c8" stroke-width="9" stroke-linecap="round" opacity="0.65"/>
<path d="M282 365h0M302 110h0M35 534h0M302 327h0M326 459h0M596 549h0M485 237h0M128 77h0M570 56h0M384 602h0M226 269h0M288 624h0M458 557h0M45 487h0M309 277h0M543 491h0" fill="none" stroke="#b01840" stroke-width="8" stroke-linecap="round" opacity="0.55"/>
</g></g>
<g filter="url(#b2)" opacity="0.45"><g transform="translate(295.00,30.00) scale(0.10219)">
<polygon points="250,15 440,15 480,150 500,300 490,450 470,560 480,660 100,660 130,500 170,330 200,200" fill="#1e1eaa"/>
</g></g>
<g filter="url(#b1)" opacity="0.7"><g transform="translate(295.00,30.00) scale(0.10219)">
<polygon points="250,15 440,15 480,150 500,300 490,450 470,560 480,660 100,660 130,500 170,330 200,200" fill="#1a1aa0"/>
</g></g>
<g filter="url(#cell)" opacity="0.33"><g transform="translate(295.00,30.00) scale(0.10219)">
<polygon points="250,15 440,15 480,150 500,300 490,450 470,560 480,660 100,660 130,500 170,330 200,200" fill="#3838f0"/>
</g></g>
<g filter="url(#b1)"><g transform="translate(295.00,30.00) scale(0.10219)">
<polygon points="330,100 370,100 400,200 410,300 395,420 370,520 340,600 320,660 200,660 240,520 270,400 285,280 300,150" fill="#07031c"/>
</g></g>
<g filter="url(#b05)"><g transform="translate(295.00,30.00) scale(0.10219)">
<path d="M391 340h0M317 539h0M323 588h0M383 170h0M272 637h0M288 275h0M341 292h0M255 607h0M256 537h0M314 372h0M274 487h0M326 276h0" fill="none" stroke="#2424c0" stroke-width="9" stroke-linecap="round" opacity="0.6"/>
<path d="M219 564h0M295 203h0M232 564h0M262 440h0M268 414h0M276 409h0M294 282h0M301 223h0M272 406h0M293 222h0M282 387h0M274 334h0M228 560h0M254 480h0M230 578h0M240 512h0M226 570h0M217 588h0M301 239h0M226 570h0M297 189h0M299 185h0M296 186h0M296 231h0M305 220h0M251 496h0M293 269h0M213 607h0M248 503h0M294 281h0M214 602h0M248 490h0M215 594h0M286 326h0M282 339h0M265 474h0" fill="none" stroke="#f4226a" stroke-width="12" stroke-linecap="round" opacity="0.9"/>
<path d="M272 370h0M244 351h0M291 173h0M247 542h0M286 180h0M253 473h0M267 420h0M276 238h0M207 646h0M280 291h0M245 460h0M224 633h0" fill="none" stroke="#e02060" stroke-width="9" stroke-linecap="round" opacity="0.8"/>
<path d="M392 440h0M334 611h0M395 162h0M399 362h0M326 627h0M371 530h0M418 293h0M412 311h0M413 250h0M401 381h0M405 239h0M411 317h0M398 422h0M399 416h0M390 188h0M415 273h0M361 554h0M387 204h0M401 403h0M402 364h0M404 387h0M387 476h0M392 444h0M390 137h0M397 434h0M407 323h0M402 254h0M380 468h0M411 302h0M419 301h0M398 245h0M400 223h0M404 210h0M344 583h0M414 260h0M403 225h0M385 456h0M378 497h0M370 537h0M396 406h0M380 135h0M370 517h0M412 247h0M387 426h0M398 424h0" fill="none" stroke="#f4226a" stroke-width="12" stroke-linecap="round" opacity="0.9"/>
<path d="M418 428h0M420 271h0M332 612h0M384 493h0M390 441h0M361 498h0M376 510h0M357 551h0M390 160h0M411 422h0M424 289h0M400 436h0M422 337h0M408 249h0M350 570h0" fill="none" stroke="#e02060" stroke-width="9" stroke-linecap="round" opacity="0.8"/>
</g></g>
</g>
<clipPath id="c10"><rect x="364.1" y="32.1" width="64.9" height="64.8"/></clipPath>
<g clip-path="url(#c10)">
<rect x="364.1" y="32.1" width="64.9" height="64.8" fill="#070420"/>
<g filter="url(#b05)"><g transform="translate(362.00,30.00) scale(0.10219)">
<path d="M70 157h0M214 596h0M338 481h0M84 346h0M560 355h0M625 584h0M257 20h0M503 101h0M26 488h0M559 555h0M630 149h0M72 97h0M646 92h0M122 33h0M52 44h0M246 124h0M218 614h0M127 541h0M493 384h0M388 513h0M396 167h0M231 176h0M276 652h0M293 65h0M325 540h0M305 469h0M78 60h0M444 51h0M213 266h0M144 43h0M24 629h0M461 629h0M335 631h0M572 416h0M356 346h0M164 261h0M483 145h0M564 346h0M407 546h0M434 108h0M179 21h0M38 629h0M400 640h0M520 222h0M639 610h0M312 73h0M224 126h0M254 73h0M476 647h0M155 519h0M394 329h0M601 261h0M545 42h0M638 137h0M22 584h0M482 452h0M510 262h0M93 224h0M630 648h0M167 303h0M308 599h0M24 551h0M182 371h0M103 74h0M585 342h0M642 574h0M502 68h0M397 655h0M342 62h0M138 652h0M645 178h0M224 478h0M345 139h0M650 417h0M254 34h0M347 501h0M134 76h0M483 609h0M261 323h0M427 353h0M102 196h0M152 146h0M76 270h0M160 562h0M226 636h0M539 192h0M119 386h0M323 362h0M99 360h0M506 305h0M183 610h0M209 657h0M461 21h0M306 115h0M523 289h0M75 629h0M532 409h0M383 68h0M649 213h0M355 334h0M322 32h0M592 335h0M272 571h0M570 480h0M601 244h0M87 243h0M405 524h0M490 423h0M405 446h0M388 30h0" fill="none" stroke="#2424c8" stroke-width="9" stroke-linecap="round" opacity="0.65"/>
<path d="M370 196h0M66 412h0M558 201h0M449 420h0M456 578h0M465 71h0M415 243h0M287 452h0M131 421h0M620 69h0M565 473h0M279 510h0M71 123h0M658 418h0M127 103h0M306 370h0" fill="none" stroke="#b01840" stroke-width="8" stroke-linecap="round" opacity="0.55"/>
</g></g>
<g filter="url(#b2)" opacity="0.45"><g transform="translate(362.00,30.00) scale(0.10219)">
<polygon points="15,15 110,15 250,80 380,180 480,280 560,400 620,520 660,610 660,660 380,660 340,560 280,450 200,330 100,230 15,180" fill="#1e1eaa"/>
</g></g>
<g filter="url(#b1)" opacity="0.7"><g transform="translate(362.00,30.00) scale(0.10219)">
<polygon points="15,15 110,15 250,80 380,180 480,280 560,400 620,520 660,610 660,660 380,660 340,560 280,450 200,330 100,230 15,180" fill="#1a1aa0"/>
</g></g>
<g filter="url(#cell)" opacity="0.33"><g transform="translate(362.00,30.00) scale(0.10219)">
<polygon points="15,15 110,15 250,80 380,180 480,280 560,400 620,520 660,610 660,660 380,660 340,560 280,450 200,330 100,230 15,180" fill="#3838f0"/>
</g></g>
<g filter="url(#b1)"><g transform="translate(362.00,30.00) scale(0.10219)">
<polygon points="190,170 230,190 300,250 370,290 450,345 480,400 510,470 530,550 560,660 440,660 410,550 390,480 360,420 320,355 260,290 200,220" fill="#07031c"/>
</g></g>
<g filter="url(#b05)"><g transform="translate(362.00,30.00) scale(0.10219)">
<path d="M425 386h0M438 346h0M268 287h0M540 635h0M220 190h0M262 284h0M425 351h0M510 588h0M350 331h0M460 493h0M388 377h0M411 456h0" fill="none" stroke="#2424c0" stroke-width="9" stroke-linecap="round" opacity="0.6"/>
<path d="M349 280h0M506 458h0M510 475h0M181 157h0M341 274h0M333 277h0M70 78h0M485 431h0M290 245h0M199 176h0M378 298h0M486 421h0M493 444h0M539 538h0M135 119h0M514 488h0M162 145h0M62 64h0M539 555h0M231 200h0M441 344h0M379 295h0M530 557h0M410 310h0M256 211h0M76 88h0M278 222h0M525 527h0M532 518h0M389 308h0M539 609h0M455 338h0M467 374h0M400 319h0M258 213h0M490 428h0M308 246h0M112 103h0M186 156h0M139 115h0M315 255h0M539 594h0M443 348h0M542 566h0M517 471h0M494 424h0M546 614h0M451 353h0M380 308h0M481 409h0M389 299h0M46 66h0M195 150h0M201 156h0M327 264h0M512 493h0M370 308h0M514 487h0M515 490h0M413 318h0M390 304h0M103 96h0M194 149h0M516 511h0M96 76h0M494 439h0M529 561h0M558 636h0M495 458h0M373 295h0M239 203h0M511 498h0" fill="none" stroke="#f4226a" stroke-width="12" stroke-linecap="round" opacity="0.9"/>
<path d="M446 341h0M119 92h0M540 482h0M467 382h0M374 257h0M103 90h0M432 360h0M518 419h0M159 127h0M445 334h0M208 162h0M131 104h0M137 121h0M406 313h0M225 211h0M352 242h0M548 621h0M151 117h0M397 315h0M482 413h0M540 530h0M446 351h0M392 295h0M97 134h0" fill="none" stroke="#e02060" stroke-width="9" stroke-linecap="round" opacity="0.8"/>
<path d="M162 190h0M437 611h0M324 338h0M365 432h0M276 295h0M254 289h0M395 514h0M220 258h0M388 491h0M413 557h0M280 317h0M323 358h0M393 493h0M319 355h0M239 249h0M332 373h0M352 418h0M241 271h0M403 527h0M234 249h0M235 256h0M349 404h0M403 504h0M435 619h0M240 248h0M233 254h0M402 538h0M357 426h0M366 437h0M249 284h0M330 388h0M315 358h0M331 385h0M154 187h0M301 334h0M289 321h0M426 593h0M260 273h0M433 602h0M191 228h0M321 358h0M322 356h0M335 386h0M366 474h0M327 362h0M336 399h0M381 485h0M405 543h0" fill="none" stroke="#f4226a" stroke-width="12" stroke-linecap="round" opacity="0.9"/>
<path d="M176 175h0M434 534h0M235 294h0M354 369h0M389 544h0M363 453h0M351 453h0M449 582h0M379 525h0M204 237h0M223 229h0M421 500h0M420 595h0M334 368h0M250 289h0M316 356h0" fill="none" stroke="#e02060" stroke-width="9" stroke-linecap="round" opacity="0.8"/>
</g></g>
</g>
<clipPath id="c11"><rect x="431.4" y="32.1" width="64.9" height="64.8"/></clipPath>
<g clip-path="url(#c11)">
<rect x="431.4" y="32.1" width="64.9" height="64.8" fill="#070420"/>
<g filter="url(#b05)"><g transform="translate(429.00,30.00) scale(0.10219)">
<path d="M385 425h0M543 197h0M437 590h0M602 139h0M437 415h0M342 638h0M358 305h0M624 427h0M213 218h0M338 54h0M409 491h0M293 562h0M614 376h0M456 95h0M56 647h0M202 157h0M594 500h0M99 226h0M175 195h0M24 356h0M215 272h0M139 90h0M41 579h0M498 378h0M99 115h0M97 223h0M57 196h0M150 143h0M438 313h0M323 249h0M365 523h0M217 65h0M328 263h0M520 91h0M579 29h0M367 304h0M222 589h0M469 124h0M337 412h0M41 76h0M405 487h0M316 290h0M344 187h0M581 636h0M328 33h0M274 534h0M228 88h0M139 475h0M418 203h0M419 507h0M638 552h0M298 538h0M612 576h0M500 395h0M347 564h0M420 482h0M166 79h0M193 393h0M387 147h0M141 628h0M66 613h0M514 387h0M657 455h0M24 621h0M285 607h0M541 108h0M45 33h0M520 527h0M166 92h0M255 532h0M494 575h0M640 503h0M555 30h0M24 572h0M416 229h0M102 233h0M237 337h0M308 149h0M73 150h0M102 84h0M285 103h0M532 369h0M314 429h0M170 35h0M70 236h0M251 182h0M216 554h0M26 307h0M265 201h0M484 164h0M47 122h0M646 241h0M95 641h0M433 632h0M232 538h0M46 172h0M529 350h0M525 267h0M581 70h0M419 141h0M148 585h0M295 540h0M202 487h0M601 421h0M170 448h0M629 533h0M304 276h0M83 512h0M121 160h0M41 125h0M266 325h0M132 292h0M505 82h0M107 354h0M599 607h0M384 79h0M579 655h0M596 360h0M265 396h0M526 656h0M336 344h0M219 366h0M368 201h0M313 606h0M171 182h0M215 569h0M214 549h0M614 580h0M535 145h0M308 547h0M177 405h0M577 617h0M244 96h0M40 223h0M370 199h0M547 436h0M418 549h0M230 436h0M245 205h0M93 525h0M596 40h0M479 60h0M287 223h0" fill="none" stroke="#2424c8" stroke-width="9" stroke-linecap="round" opacity="0.65"/>
<path d="M598 297h0M347 248h0M183 176h0M60 29h0M372 493h0M449 186h0M653 70h0M296 234h0M135 635h0M478 104h0M133 538h0M258 213h0M210 228h0M397 219h0M399 61h0M363 394h0M225 575h0M614 441h0M283 126h0M420 205h0" fill="none" stroke="#b01840" stroke-width="8" stroke-linecap="round" opacity="0.55"/>
</g></g>
<g filter="url(#b2)" opacity="0.45"><g transform="translate(429.00,30.00) scale(0.10219)">
<polygon points="60,15 200,15 300,100 380,200 440,300 490,400 520,500 530,600 530,660 480,660 450,550 430,480 400,400 360,320 300,240 230,160 150,90" fill="#1e1eaa"/>
<polygon points="20,15 80,80 130,150 180,220 215,300 240,380 260,460 265,550 270,660 200,660 200,580 180,480 150,380 110,280 70,200 20,130" fill="#1e1eaa"/>
</g></g>
<g filter="url(#b1)" opacity="0.7"><g transform="translate(429.00,30.00) scale(0.10219)">
<polygon points="60,15 200,15 300,100 380,200 440,300 490,400 520,500 530,600 530,660 480,660 450,550 430,480 400,400 360,320 300,240 230,160 150,90" fill="#1a1aa0"/>
<polygon points="20,15 80,80 130,150 180,220 215,300 240,380 260,460 265,550 270,660 200,660 200,580 180,480 150,380 110,280 70,200 20,130" fill="#1a1aa0"/>
</g></g>
<g filter="url(#cell)" opacity="0.33"><g transform="translate(429.00,30.00) scale(0.10219)">
<polygon points="60,15 200,15 300,100 380,200 440,300 490,400 520,500 530,600 530,660 480,660 450,550 430,480 400,400 360,320 300,240 230,160 150,90" fill="#3838f0"/>
<polygon points="20,15 80,80 130,150 180,220 215,300 240,380 260,460 265,550 270,660 200,660 200,580 180,480 150,380 110,280 70,200 20,130" fill="#3838f0"/>
</g></g>
<g filter="url(#b1)"><g transform="translate(429.00,30.00) scale(0.10219)">
</g></g>
<g filter="url(#b05)"><g transform="translate(429.00,30.00) scale(0.10219)">
<path d="M155 96h0M383 366h0M383 367h0M413 423h0M410 456h0M162 99h0M355 303h0M415 452h0M376 355h0M406 406h0M383 349h0M274 204h0M443 491h0M450 551h0M221 150h0M264 205h0M453 559h0M118 70h0M205 136h0M175 116h0M324 271h0M271 207h0M174 120h0M176 128h0M380 379h0M409 412h0M379 353h0M279 221h0M447 542h0M251 184h0M452 558h0M346 302h0M466 581h0M423 466h0M286 212h0M414 424h0M408 399h0M447 525h0M270 206h0M235 171h0M167 103h0M98 36h0M190 124h0M193 130h0M359 307h0M422 442h0M197 135h0M426 483h0M429 486h0M305 230h0M69 25h0M459 550h0M104 61h0M297 255h0M60 31h0M406 406h0M359 315h0M300 237h0M422 456h0M473 610h0M477 609h0M79 29h0M420 442h0M431 480h0M243 182h0M473 613h0M383 360h0M350 289h0M459 575h0M414 461h0M296 248h0M262 202h0M400 393h0M359 318h0M276 202h0M270 209h0M398 378h0M265 197h0M252 195h0M274 205h0M265 186h0M460 577h0M400 406h0M113 68h0M395 383h0M419 468h0M475 613h0M414 430h0M79 29h0M419 442h0" fill="none" stroke="#f4226a" stroke-width="12" stroke-linecap="round" opacity="0.9"/>
<path d="M115 30h0M266 165h0M289 252h0M408 474h0M444 607h0M124 72h0M283 233h0M255 208h0M195 131h0M186 151h0M229 171h0M389 353h0M172 108h0M423 510h0M425 464h0M221 157h0M411 420h0M64 16h0M387 453h0M386 361h0M446 548h0M443 538h0M57 35h0M311 239h0M470 585h0M213 130h0M400 390h0M485 601h0M436 475h0M381 344h0" fill="none" stroke="#e02060" stroke-width="9" stroke-linecap="round" opacity="0.8"/>
<path d="M268 585h0M207 290h0M271 541h0M45 33h0M273 450h0M256 442h0M260 498h0M170 208h0M98 110h0M39 29h0M169 196h0M37 41h0M116 112h0M215 334h0M63 53h0M160 200h0M82 74h0M277 576h0M82 92h0M264 606h0M255 521h0M216 281h0M78 78h0M102 117h0M270 623h0M30 41h0M215 306h0M241 402h0M259 414h0M99 121h0M269 584h0M219 317h0M260 449h0M197 241h0M266 623h0M256 413h0M233 343h0M141 166h0M170 218h0M197 277h0M115 116h0M257 518h0M262 534h0M267 562h0M261 532h0M266 580h0M174 219h0M260 462h0M259 550h0M261 561h0M171 215h0" fill="none" stroke="#f4226a" stroke-width="12" stroke-linecap="round" opacity="0.9"/>
<path d="M203 289h0M256 347h0M11 35h0M83 55h0M210 349h0M176 238h0M172 217h0M242 397h0M100 91h0M215 364h0M180 250h0M265 468h0M183 207h0M113 156h0M238 411h0M270 629h0M245 352h0" fill="none" stroke="#e02060" stroke-width="9" stroke-linecap="round" opacity="0.8"/>
<path d="M530 183h0M492 205h0M497 235h0M461 118h0M512 189h0M460 167h0M600 367h0M515 203h0M411 108h0M620 397h0M531 208h0M570 206h0" fill="none" stroke="#f4226a" stroke-width="12" stroke-linecap="round" opacity="0.9"/>
<path d="M389 158h0M568 69h0M508 251h0M624 466h0" fill="none" stroke="#e02060" stroke-width="9" stroke-linecap="round" opacity="0.8"/>
<path d="M77 238h0M68 238h0M89 238h0M89 246h0M72 254h0M95 266h0" fill="none" stroke="#f4226a" stroke-width="12" stroke-linecap="round" opacity="0.9"/>
<path d="M33 259h0M75 238h0" fill="none" stroke="#e02060" stroke-width="9" stroke-linecap="round" opacity="0.8"/>
</g></g>
</g>
<clipPath id="c12"><rect x="296.9" y="99.0" width="64.9" height="64.7"/></clipPath>
<g clip-path="url(#c12)">
<rect x="296.9" y="99.0" width="64.9" height="64.7" fill="#070420"/>
<g filter="url(#b05)"><g transform="translate(295.00,97.00) scale(0.10219)">
<path d="M359 395h0M560 595h0M585 253h0M627 291h0M216 81h0M347 119h0M196 411h0M517 502h0M75 59h0M183 373h0M557 532h0M618 397h0M427 207h0M221 152h0M363 409h0M387 271h0M291 179h0M542 392h0M499 539h0M200 95h0M201 601h0M527 279h0M517 239h0M574 78h0M494 647h0M289 316h0M104 196h0M170 210h0M64 212h0M87 356h0M280 166h0M624 218h0M360 593h0M505 638h0M410 577h0M62 490h0M235 225h0M513 495h0M239 253h0M198 618h0M413 186h0M361 57h0M193 341h0M643 569h0M370 508h0M181 464h0M658 119h0M617 651h0M256 541h0M653 115h0M317 400h0M528 190h0M501 471h0M569 490h0M571 407h0M368 316h0M280 316h0M336 271h0M113 275h0M625 216h0M649 553h0M310 159h0M583 631h0M219 448h0M502 417h0M97 171h0M482 426h0M450 200h0M583 517h0M330 567h0M213 361h0M353 640h0M620 238h0M519 210h0M585 591h0M456 43h0M215 130h0M343 44h0M60 84h0M573 405h0M575 624h0M384 562h0M298 410h0M127 305h0M82 316h0M636 655h0M500 49h0M653 360h0M452 281h0M516 221h0M90 314h0M140 164h0M146 469h0M456 162h0M460 38h0M624 170h0M347 257h0M567 301h0M127 571h0M393 190h0M476 593h0M496 528h0M246 171h0M55 594h0M169 256h0M534 92h0M614 379h0M129 539h0M449 61h0M332 475h0M194 235h0M568 110h0M181 99h0M332 305h0M196 80h0M99 503h0M392 533h0M92 629h0M461 389h0M550 67h0M409 214h0" fill="none" stroke="#2424c8" stroke-width="9" stroke-linecap="round" opacity="0.65"/>
<path d="M40 504h0M39 490h0M197 561h0M58 328h0M647 361h0M417 351h0M399 275h0M189 210h0M557 227h0M467 620h0M615 562h0M595 435h0M365 87h0M67 212h0M330 334h0M29 394h0M247 272h0" fill="none" stroke="#b01840" stroke-width="8" stroke-linecap="round" opacity="0.55"/>
</g></g>
<g filter="url(#b2)" opacity="0.45"><g transform="translate(295.00,97.00) scale(0.10219)">
<polygon points="370,15 550,15 555,200 545,350 520,480 490,580 470,660 150,660 210,540 270,420 320,280 350,150" fill="#1e1eaa"/>
</g></g>
<g filter="url(#b1)" opacity="0.7"><g transform="translate(295.00,97.00) scale(0.10219)">
<polygon points="370,15 550,15 555,200 545,350 520,480 490,580 470,660 150,660 210,540 270,420 320,280 350,150" fill="#1a1aa0"/>
</g></g>
<g filter="url(#cell)" opacity="0.33"><g transform="translate(295.00,97.00) scale(0.10219)">
<polygon points="370,15 550,15 555,200 545,350 520,480 490,580 470,660 150,660 210,540 270,420 320,280 350,150" fill="#3838f0"/>
</g></g>
<g filter="url(#b1)"><g transform="translate(295.00,97.00) scale(0.10219)">
<polygon points="440,15 460,15 470,150 475,300 460,420 430,520 400,600 380,660 245,660 280,580 320,500 370,400 410,280 430,150" fill="#07031c"/>
</g></g>
<g filter="url(#b05)"><g transform="translate(295.00,97.00) scale(0.10219)">
<path d="M430 497h0M462 278h0M368 420h0M466 135h0M416 442h0M366 581h0M401 516h0M302 617h0M332 501h0M417 347h0M316 546h0M364 473h0" fill="none" stroke="#2424c0" stroke-width="9" stroke-linecap="round" opacity="0.6"/>
<path d="M414 238h0M306 534h0M326 491h0M337 463h0M283 575h0M369 393h0M433 38h0M269 604h0M412 261h0M306 515h0M438 86h0M391 323h0M267 600h0M420 260h0M315 512h0M445 49h0M392 353h0M304 537h0M421 187h0M412 236h0M245 660h0M410 261h0M411 228h0M276 596h0M420 237h0M418 248h0M304 523h0M421 224h0M417 236h0M403 297h0M395 322h0M411 205h0M444 28h0M436 33h0M442 19h0M245 645h0M260 609h0M425 172h0M333 475h0" fill="none" stroke="#f4226a" stroke-width="12" stroke-linecap="round" opacity="0.9"/>
<path d="M436 149h0M388 276h0M404 213h0M445 54h0M411 308h0M344 464h0M426 81h0M445 126h0M448 52h0M257 610h0M293 551h0M289 562h0M383 339h0" fill="none" stroke="#e02060" stroke-width="9" stroke-linecap="round" opacity="0.8"/>
<path d="M463 174h0M458 35h0M473 181h0M463 145h0M448 443h0M399 600h0M456 408h0M466 258h0M475 336h0M466 161h0M397 609h0M414 559h0M458 424h0M386 619h0M466 80h0M451 477h0M471 330h0M469 273h0M400 603h0M380 635h0M413 577h0M397 597h0M465 175h0M450 460h0M466 375h0M450 462h0M471 221h0M397 600h0M462 87h0M436 503h0M462 398h0M462 41h0M470 387h0M474 280h0M391 643h0M394 619h0M441 485h0M461 376h0M399 618h0M474 316h0M391 622h0M472 186h0" fill="none" stroke="#f4226a" stroke-width="12" stroke-linecap="round" opacity="0.9"/>
<path d="M474 196h0M464 338h0M478 223h0M403 578h0M469 78h0M462 134h0M444 504h0M467 359h0M409 584h0M392 580h0M384 653h0M458 45h0M474 163h0M419 504h0" fill="none" stroke="#e02060" stroke-width="9" stroke-linecap="round" opacity="0.8"/>
</g></g>
</g>
<clipPath id="c13"><rect x="364.1" y="99.0" width="64.9" height="64.7"/></clipPath>
<g clip-path="url(#c13)">
<rect x="364.1" y="99.0" width="64.9" height="64.7" fill="#070420"/>
<g filter="url(#b05)"><g transform="translate(362.00,97.00) scale(0.10219)">
<path d="M371 500h0M498 574h0M203 638h0M383 498h0M503 615h0M195 255h0M479 395h0M500 253h0M631 27h0M482 260h0M36 452h0M53 170h0M228 121h0M125 67h0M561 73h0M123 69h0M602 369h0M546 642h0M337 273h0M269 189h0M401 638h0M342 504h0M589 551h0M449 371h0M83 262h0M566 303h0M456 186h0M393 160h0M523 541h0M32 446h0M81 627h0M132 102h0M591 413h0M27 318h0M551 126h0M502 207h0M303 273h0M54 269h0M354 416h0M365 129h0M408 206h0M596 83h0M517 75h0M380 245h0M314 460h0M531 22h0M586 437h0M86 466h0M538 258h0M582 124h0M312 176h0M547 215h0M180 659h0M284 317h0M469 135h0M538 461h0M336 531h0M581 83h0M635 354h0M520 453h0M636 510h0M176 113h0M276 185h0M167 368h0M342 274h0M506 115h0M302 303h0M411 576h0M398 21h0M401 249h0M289 386h0M161 529h0M257 254h0M369 53h0M227 655h0M97 269h0M513 324h0M415 562h0M559 294h0M243 27h0M496 109h0M318 99h0M498 314h0M92 395h0M77 244h0M204 506h0M405 157h0M234 307h0M552 244h0M503 66h0M97 518h0M252 49h0M148 291h0M76 260h0M657 68h0M247 224h0M117 626h0M197 145h0M302 66h0M323 134h0M336 113h0M575 342h0M433 162h0M48 175h0M342 21h0M138 614h0M208 138h0M539 202h0M375 355h0M337 49h0" fill="none" stroke="#2424c8" stroke-width="9" stroke-linecap="round" opacity="0.65"/>
<path d="M458 230h0M569 641h0M257 570h0M628 133h0M207 601h0M576 157h0M155 572h0M73 140h0M129 200h0M309 108h0M150 650h0M324 317h0M208 657h0M412 330h0M106 488h0M238 602h0" fill="none" stroke="#b01840" stroke-width="8" stroke-linecap="round" opacity="0.55"/>
</g></g>
<g filter="url(#b2)" opacity="0.45"><g transform="translate(362.00,97.00) scale(0.10219)">
<polygon points="80,15 280,15 340,100 400,200 440,300 490,400 560,480 620,540 660,570 660,660 420,660 330,580 260,480 200,370 150,250 100,120" fill="#1e1eaa"/>
</g></g>
<g filter="url(#b1)" opacity="0.7"><g transform="translate(362.00,97.00) scale(0.10219)">
<polygon points="80,15 280,15 340,100 400,200 440,300 490,400 560,480 620,540 660,570 660,660 420,660 330,580 260,480 200,370 150,250 100,120" fill="#1a1aa0"/>
</g></g>
<g filter="url(#cell)" opacity="0.33"><g transform="translate(362.00,97.00) scale(0.10219)">
<polygon points="80,15 280,15 340,100 400,200 440,300 490,400 560,480 620,540 660,570 660,660 420,660 330,580 260,480 200,370 150,250 100,120" fill="#3838f0"/>
</g></g>
<g filter="url(#b1)"><g transform="translate(362.00,97.00) scale(0.10219)">
<polygon points="220,150 270,180 320,260 370,340 420,420 470,500 530,570 600,625 640,660 440,660 400,580 350,510 310,440 280,370 250,280 230,200" fill="#07031c"/>
</g></g>
<g filter="url(#b05)"><g transform="translate(362.00,97.00) scale(0.10219)">
<path d="M622 654h0M302 277h0M326 450h0M404 552h0M473 553h0M433 569h0M467 579h0M451 625h0M311 305h0M444 578h0M564 625h0M475 519h0" fill="none" stroke="#2424c0" stroke-width="9" stroke-linecap="round" opacity="0.6"/>
<path d="M399 572h0M250 273h0M357 510h0M317 453h0M231 157h0M391 572h0M228 215h0M434 632h0M439 618h0M440 636h0M233 225h0M218 178h0M275 365h0M342 498h0M346 492h0M390 554h0M217 125h0M219 159h0M362 526h0M308 434h0M222 165h0M304 419h0M290 390h0M310 439h0M301 421h0M252 304h0M282 375h0M229 229h0M216 186h0M215 122h0M232 171h0M351 521h0M230 168h0M301 407h0M403 575h0M276 332h0M273 363h0M235 190h0M427 608h0M319 458h0M339 498h0M251 265h0M436 620h0M247 284h0M246 260h0M252 293h0M244 277h0M256 298h0M270 325h0M404 594h0M238 226h0" fill="none" stroke="#f4226a" stroke-width="12" stroke-linecap="round" opacity="0.9"/>
<path d="M318 386h0M237 181h0M384 585h0M254 329h0M396 580h0M322 426h0M243 188h0M229 158h0M262 319h0M398 595h0M414 573h0M179 138h0M227 243h0M257 350h0M426 604h0M253 273h0M260 231h0" fill="none" stroke="#e02060" stroke-width="9" stroke-linecap="round" opacity="0.8"/>
<path d="M501 529h0M263 183h0M229 143h0M411 407h0M300 228h0M483 503h0M336 277h0M398 393h0M565 604h0M440 463h0M463 501h0M589 612h0M501 546h0M403 407h0M601 633h0M332 298h0M275 170h0M500 532h0M268 181h0M308 245h0M494 525h0M335 286h0M597 630h0M301 231h0M450 467h0M298 215h0M303 230h0M232 156h0M377 345h0M416 414h0M536 581h0M289 209h0M564 594h0M394 378h0M232 150h0M280 191h0M405 376h0M449 484h0M518 557h0M387 368h0M408 401h0M258 168h0M284 220h0M268 176h0M565 607h0M589 615h0M386 380h0M325 267h0M523 575h0M388 357h0M532 564h0" fill="none" stroke="#f4226a" stroke-width="12" stroke-linecap="round" opacity="0.9"/>
<path d="M576 619h0M475 519h0M470 522h0M350 295h0M329 257h0M308 228h0M261 165h0M546 599h0M255 159h0M569 592h0M444 463h0M507 566h0M315 242h0M279 196h0M595 617h0M243 177h0M267 190h0" fill="none" stroke="#e02060" stroke-width="9" stroke-linecap="round" opacity="0.8"/>
<path d="M251 140h0M150 182h0M195 160h0M280 127h0M147 209h0M202 140h0M181 174h0M162 204h0M181 134h0M202 139h0M141 215h0M205 121h0M221 126h0M211 110h0M208 142h0" fill="none" stroke="#f4226a" stroke-width="12" stroke-linecap="round" opacity="0.9"/>
<path d="M253 107h0M179 163h0M309 168h0M337 123h0M223 107h0" fill="none" stroke="#e02060" stroke-width="9" stroke-linecap="round" opacity="0.8"/>
<path d="M326 602h0M280 568h0M300 574h0M294 581h0M294 600h0M303 574h0" fill="none" stroke="#f4226a" stroke-width="12" stroke-linecap="round" opacity="0.9"/>
<path d="M272 573h0M311 541h0" fill="none" stroke="#e02060" stroke-width="9" stroke-linecap="round" opacity="0.8"/>
</g></g>
</g>
<clipPath id="c14"><rect x="431.4" y="99.0" width="64.9" height="64.7"/></clipPath>
<g clip-path="url(#c14)">
<rect x="431.4" y="99.0" width="64.9" height="64.7" fill="#070420"/>
<g filter="url(#b05)"><g transform="translate(429.00,97.00) scale(0.10219)">
<path d="M230 649h0M634 608h0M526 580h0M20 421h0M178 487h0M297 378h0M367 389h0M549 648h0M241 536h0M589 271h0M99 338h0M509 355h0M138 472h0M228 587h0M128 400h0M267 650h0M109 583h0M287 258h0M153 337h0M615 660h0M621 411h0M171 345h0M436 209h0M652 74h0M170 150h0M127 61h0M173 259h0M621 369h0M420 243h0M129 381h0M486 74h0M436 154h0M462 247h0M114 110h0M527 366h0M75 599h0M197 199h0M22 212h0M378 595h0M211 339h0M71 460h0M212 260h0M193 544h0M647 108h0M309 88h0M500 601h0M101 457h0M215 308h0M386 266h0M437 229h0M337 248h0M291 111h0M249 91h0M418 287h0M288 594h0M120 359h0M410 424h0M507 247h0M612 447h0M68 408h0M351 619h0M484 451h0M454 474h0M306 335h0M360 33h0M347 291h0M294 381h0M437 270h0M388 171h0M645 445h0M468 493h0M37 133h0M262 301h0M275 352h0M422 498h0M463 280h0M563 539h0M635 29h0M390 131h0M571 625h0M448 226h0M579 348h0M465 142h0M89 555h0M570 263h0M73 211h0M603 161h0M500 221h0M624 238h0M627 344h0M25 272h0M292 117h0M75 378h0M485 489h0M229 135h0M313 481h0M156 587h0M646 237h0M113 374h0M118 593h0M398 285h0M568 516h0M495 84h0M260 240h0M571 186h0M90 306h0M216 441h0M257 99h0M448 617h0M464 383h0M66 148h0M446 625h0M324 642h0M89 200h0M207 458h0M254 439h0M55 451h0M481 139h0M125 283h0M320 323h0M628 107h0M423 348h0M419 204h0M506 546h0M34 242h0M22 399h0M500 279h0M642 516h0M444 91h0M210 541h0M325 166h0M21 493h0M191 88h0M340 476h0M390 25h0M609 270h0M409 196h0M240 95h0M520 120h0M394 496h0M648 34h0M475 224h0M29 378h0M281 309h0M134 113h0M99 338h0M40 599h0M447 618h0M485 546h0M579 509h0M492 308h0M558 572h0M452 622h0M535 152h0M649 160h0M140 458h0M646 485h0M128 237h0M250 501h0M98 503h0M167 39h0M616 552h0M522 556h0M355 594h0M414 319h0M505 521h0M435 246h0M356 122h0M282 455h0M495 352h0M330 570h0M374 366h0M101 522h0M572 651h0M508 50h0M267 162h0" fill="none" stroke="#2424c8" stroke-width="9" stroke-linecap="round" opacity="0.65"/>
<path d="M432 134h0M369 627h0M479 249h0M542 279h0M501 161h0M593 306h0M48 190h0M292 164h0M417 167h0M340 512h0M356 178h0M469 409h0M418 301h0M291 564h0M258 284h0M648 524h0M100 537h0M331 474h0M352 231h0M215 350h0M618 145h0M130 541h0M320 274h0M392 299h0M59 376h0" fill="none" stroke="#b01840" stroke-width="8" stroke-linecap="round" opacity="0.55"/>
</g></g>
<g filter="url(#b2)" opacity="0.45"><g transform="translate(429.00,97.00) scale(0.10219)">
<polygon points="20,15 230,15 330,80 430,150 540,220 660,300 660,660 440,660 400,560 340,500 260,420 180,320 100,230 20,150" fill="#1e1eaa"/>
</g></g>
<g filter="url(#b1)" opacity="0.7"><g transform="translate(429.00,97.00) scale(0.10219)">
<polygon points="20,15 230,15 330,80 430,150 540,220 660,300 660,660 440,660 400,560 340,500 260,420 180,320 100,230 20,150" fill="#1a1aa0"/>
</g></g>
<g filter="url(#cell)" opacity="0.33"><g transform="translate(429.00,97.00) scale(0.10219)">
<polygon points="20,15 230,15 330,80 430,150 540,220 660,300 660,660 440,660 400,560 340,500 260,420 180,320 100,230 20,150" fill="#3838f0"/>
</g></g>
<g filter="url(#b1)"><g transform="translate(429.00,97.00) scale(0.10219)">
<polygon points="200,140 250,130 330,185 420,240 500,300 580,360 660,420 660,560 600,600 560,570 520,520 470,470 420,410 360,350 300,290 240,210" fill="#07031c"/>
</g></g>
<g filter="url(#b05)"><g transform="translate(429.00,97.00) scale(0.10219)">
<path d="M307 190h0M515 435h0M610 569h0M304 181h0M594 560h0M467 301h0M626 529h0M601 456h0M499 436h0M469 300h0M562 443h0M391 284h0" fill="none" stroke="#2424c0" stroke-width="9" stroke-linecap="round" opacity="0.6"/>
<path d="M554 331h0M541 318h0M238 124h0M570 348h0M149 74h0M110 38h0M507 307h0M154 70h0M466 283h0M625 390h0M594 385h0M386 225h0M428 236h0M171 72h0M255 134h0M243 137h0M545 337h0M299 131h0M428 259h0M451 246h0M142 65h0M367 205h0M356 223h0M299 148h0M198 95h0M296 159h0M273 160h0M515 307h0M262 144h0M279 139h0M641 401h0M105 39h0M356 197h0M624 402h0M306 162h0M92 30h0M163 70h0M591 365h0M207 94h0M610 384h0M413 228h0M192 84h0M552 326h0M534 332h0M604 396h0M409 231h0M349 202h0M90 38h0M560 322h0M413 236h0M312 171h0M240 123h0M120 54h0M382 213h0M255 139h0M399 211h0M382 220h0M596 382h0M594 366h0M110 52h0M496 296h0M606 378h0M195 121h0M397 225h0M218 104h0M310 169h0M439 267h0M433 253h0M402 226h0" fill="none" stroke="#f4226a" stroke-width="12" stroke-linecap="round" opacity="0.9"/>
<path d="M553 354h0M395 223h0M173 87h0M535 316h0M644 366h0M423 269h0M479 280h0M349 189h0M236 116h0M627 407h0M489 290h0M164 78h0M545 334h0M484 274h0M291 156h0M503 282h0M448 258h0M316 178h0M522 323h0M412 210h0M288 139h0M452 278h0M525 313h0" fill="none" stroke="#e02060" stroke-width="9" stroke-linecap="round" opacity="0.8"/>
<path d="M412 408h0M412 407h0M265 243h0M381 378h0M537 544h0M429 433h0M524 522h0M500 500h0M565 563h0M420 413h0M278 271h0M230 207h0M245 239h0M239 205h0M537 521h0M466 472h0M376 352h0M546 562h0M541 524h0M220 197h0M474 474h0M257 213h0M183 138h0M199 153h0M197 162h0M452 437h0M371 359h0M222 184h0M428 405h0M452 436h0M400 389h0M281 251h0M362 344h0M377 345h0M512 522h0M525 527h0M243 217h0M213 175h0M516 518h0M479 470h0M527 538h0M382 386h0M493 485h0M310 307h0M325 318h0M497 496h0M404 372h0M252 214h0M213 164h0M464 442h0M273 261h0M269 248h0M396 379h0M297 283h0M228 181h0M507 503h0M178 148h0M463 420h0M535 540h0M434 419h0" fill="none" stroke="#f4226a" stroke-width="12" stroke-linecap="round" opacity="0.9"/>
<path d="M538 520h0M297 300h0M367 343h0M289 301h0M357 349h0M238 192h0M226 205h0M342 349h0M330 283h0M247 149h0M329 338h0M416 417h0M368 397h0M283 278h0M406 418h0M461 435h0M367 360h0M157 112h0M175 156h0M539 523h0" fill="none" stroke="#e02060" stroke-width="9" stroke-linecap="round" opacity="0.8"/>
</g></g>
</g>
<text x="297.9" y="40.8" font-size="8.2"><tspan fill="#ea3208" stroke="#ea3208" stroke-width="0.3">tdTomato</tspan></text>
<text x="297.9" y="47.5" font-size="8.2"><tspan fill="#1a1acc" stroke="#1a1acc" stroke-width="0.3">DAPI</tspan></text>
<line x1="489" y1="161.6" x2="494.5" y2="161.6" stroke="#fff" stroke-width="1.2"/>
<rect x="8.6" y="269.2" width="128.7" height="128.5" fill="#b0b0b0"/>
<rect x="8.6" y="332.4" width="128.7" height="2.2" fill="#dcdcdc"/>
<rect x="164" y="269.2" width="129.05" height="128.5" fill="#ececec"/>
<rect x="164" y="332.4" width="129.05" height="2.2" fill="#dcdcdc"/>
<rect x="321.9" y="269.2" width="129.2" height="128.5" fill="#ececec"/>
<rect x="321.9" y="332.4" width="129.2" height="2.2" fill="#dcdcdc"/>
<text x="8.0" y="304.6" font-size="10.5" text-anchor="middle" fill="#1a1a1a" transform="rotate(-90 8.0 304.6)">WT</text>
<text x="8.0" y="366.3" font-size="10.5" text-anchor="middle" fill="#1a1a1a" transform="rotate(-90 8.0 366.3)">iKO</text>
<text x="163.4" y="304.6" font-size="10.5" text-anchor="middle" fill="#1a1a1a" transform="rotate(-90 163.4 304.6)">WT</text>
<text x="163.4" y="366.3" font-size="10.5" text-anchor="middle" fill="#1a1a1a" transform="rotate(-90 163.4 366.3)">iKO</text>
<text x="321.3" y="304.6" font-size="10.5" text-anchor="middle" fill="#1a1a1a" transform="rotate(-90 321.3 304.6)">WT</text>
<text x="321.3" y="366.3" font-size="10.5" text-anchor="middle" fill="#1a1a1a" transform="rotate(-90 321.3 366.3)">iKO</text>
<clipPath id="c15"><rect x="8.6" y="269.2" width="63.45" height="63.6"/></clipPath>
<g clip-path="url(#c15)">
<rect x="8.6" y="269.2" width="63.45" height="63.6" fill="#030008"/>
<g filter="url(#b1)" opacity="0.8"><g transform="translate(5.00,266.00) scale(0.19853)">
<polygon points="20,110 150,82 250,76 340,100 340,190 260,170 180,160 100,165 20,180" fill="#1212c4"/>
<polygon points="20,230 120,235 200,245 280,265 340,290 340,340 20,340" fill="#1212c4"/>
</g></g>
<g filter="url(#cell2)"><g transform="translate(5.00,266.00) scale(0.19853)">
<polygon points="20,110 150,82 250,76 340,100 340,190 260,170 180,160 100,165 20,180" fill="#2222ff"/>
<polygon points="20,230 120,235 200,245 280,265 340,290 340,340 20,340" fill="#2222ff"/>
</g></g>
<g filter="url(#b05)"><g transform="translate(5.00,266.00) scale(0.19853)">
<path d="M142 102h0M205 155h0M197 120h0M254 142h0M270 151h0M289 126h0M251 95h0M229 147h0M39 165h0M31 175h0M289 101h0M252 159h0M60 152h0M37 112h0M218 145h0M291 110h0M67 152h0M150 152h0M178 121h0M167 159h0M156 161h0M230 113h0M33 174h0M300 162h0M55 151h0M230 161h0M215 124h0M97 126h0M255 154h0M151 127h0M330 107h0M88 154h0M260 159h0M233 83h0M96 141h0M70 114h0M93 153h0M212 157h0M197 133h0M331 178h0M224 134h0M228 96h0M253 165h0M43 134h0M210 116h0M310 111h0M298 108h0M208 111h0M275 155h0M96 133h0M210 103h0M78 130h0M43 132h0M321 170h0M37 170h0M249 157h0M29 163h0M83 168h0M123 118h0M184 93h0" fill="none" stroke="#2c2cf8" stroke-width="7" stroke-linecap="round" opacity="0.7"/>
<path d="M226 166h0M92 168h0M137 156h0M159 79h0M191 163h0M177 164h0M340 154h0M58 175h0M102 94h0M93 168h0M141 171h0M83 100h0M62 176h0M94 90h0M23 191h0M191 70h0M43 161h0M25 178h0M72 164h0M160 77h0M333 181h0M218 70h0M232 63h0M221 67h0M336 198h0M245 90h0M248 84h0M18 121h0M316 183h0M235 183h0M347 107h0M232 167h0M254 81h0M348 120h0M26 132h0M19 115h0M353 152h0M38 167h0M119 160h0M152 165h0M290 182h0M246 79h0M272 178h0M34 172h0M320 98h0M33 139h0M324 188h0M260 95h0M234 85h0M86 94h0M98 174h0M238 65h0M29 164h0M137 85h0M348 179h0M22 154h0M99 94h0M24 156h0M20 148h0M335 143h0M201 84h0M335 117h0M287 96h0M144 89h0M238 79h0M26 139h0M202 82h0M251 82h0M294 83h0M20 176h0" fill="none" stroke="#2424f0" stroke-width="7" stroke-linecap="round" opacity="0.8"/>
<path d="M234 295h0M316 295h0M181 255h0M52 277h0M150 244h0M161 257h0M151 322h0M248 328h0M113 274h0M159 322h0M117 329h0M79 305h0M125 322h0M170 289h0M170 276h0M320 304h0M162 279h0M174 314h0M49 246h0M36 304h0M276 303h0M136 281h0M128 258h0M139 255h0M42 293h0M28 278h0M149 319h0M246 280h0M22 308h0M252 300h0M147 289h0M54 299h0M62 304h0M216 305h0M79 308h0M322 338h0M25 274h0M45 335h0M96 279h0M20 234h0M172 296h0M128 259h0M27 331h0M244 259h0M262 306h0M225 280h0M299 332h0M163 301h0M325 286h0M41 260h0M262 301h0M112 287h0M221 313h0M224 319h0M117 315h0M260 335h0M153 242h0M185 305h0M312 313h0M195 324h0" fill="none" stroke="#2c2cf8" stroke-width="7" stroke-linecap="round" opacity="0.7"/>
<path d="M27 336h0M27 230h0M304 273h0M161 334h0M240 333h0M297 268h0M217 237h0M26 318h0M329 273h0M58 360h0M260 335h0M83 336h0M324 335h0M19 279h0M289 330h0M349 298h0M154 338h0M284 346h0M75 235h0M28 263h0M23 290h0M342 346h0M108 238h0M224 244h0M277 343h0M102 225h0M114 337h0M324 300h0M155 331h0M20 260h0M99 237h0M180 246h0M198 259h0M171 234h0M153 347h0M144 343h0M340 308h0M180 252h0M309 354h0M259 336h0M14 267h0M145 234h0M56 337h0M129 337h0M111 338h0M285 343h0M140 223h0M131 236h0M237 249h0M36 238h0M335 315h0M25 260h0M57 345h0M320 276h0M89 355h0M166 227h0M110 238h0M343 322h0M112 341h0M19 280h0M165 247h0M235 350h0M269 333h0M333 301h0M307 333h0M12 247h0M32 343h0M187 236h0M341 309h0M6 302h0" fill="none" stroke="#2424f0" stroke-width="7" stroke-linecap="round" opacity="0.8"/>
<path d="M106 109h0M78 220h0M200 290h0M209 124h0M53 267h0M323 122h0M120 185h0M140 254h0M174 171h0M141 97h0M315 317h0M87 137h0M250 130h0M161 197h0M107 141h0M250 316h0M41 296h0M48 227h0M37 191h0M93 274h0M27 180h0M327 186h0M161 224h0M274 235h0M153 83h0M270 178h0M326 126h0M118 166h0M336 265h0M114 237h0M283 36h0M259 168h0M302 256h0M137 44h0M150 139h0M85 236h0M296 159h0M57 195h0M129 32h0M51 141h0M31 60h0M323 187h0M79 31h0M112 121h0M322 76h0M314 177h0M278 195h0M327 322h0M219 125h0M115 70h0" fill="none" stroke="#2222d0" stroke-width="6" stroke-linecap="round" opacity="0.75"/>
</g></g>
<g filter="url(#b2)"><g transform="translate(5.00,266.00) scale(0.19853)">
<polygon points="20,180 100,165 180,160 260,170 340,190 340,290 280,265 200,245 120,235 20,230" fill="#1e0408" opacity="0.9"/>
</g></g>
<g filter="url(#b05)"><g transform="translate(5.00,266.00) scale(0.19853)">
<path d="M93 212h0M153 189h0M325 250h0M319 261h0M99 31h0M244 65h0M230 45h0M205 185h0M167 274h0M244 88h0M178 150h0M144 90h0M91 213h0M40 154h0M179 164h0M241 273h0M192 69h0M77 314h0M169 173h0M90 218h0M142 198h0M197 307h0M268 307h0M299 47h0M217 105h0M129 181h0M187 202h0M160 52h0M335 30h0M323 331h0M233 85h0M245 124h0M135 287h0M252 26h0M321 143h0M116 141h0M86 153h0M289 328h0M290 222h0M156 169h0M68 98h0M35 264h0M54 75h0M156 275h0M44 257h0" fill="none" stroke="#a01010" stroke-width="4" stroke-linecap="round" opacity="0.6"/>
<ellipse cx="280" cy="100" rx="6" ry="12" fill="#ff40a0"/>
<ellipse cx="170" cy="165" rx="10" ry="5" fill="#ff40a0"/>
<ellipse cx="65" cy="176" rx="7" ry="4" fill="#ff40a0"/>
<ellipse cx="300" cy="181" rx="5" ry="4" fill="#ff40a0"/>
<ellipse cx="176" cy="266" rx="6" ry="8" fill="#ff40a0"/>
<ellipse cx="192" cy="250" rx="6" ry="4" fill="#ff40a0"/>
<ellipse cx="116" cy="236" rx="4" ry="3" fill="#ff40a0"/>
<ellipse cx="50" cy="240" rx="4" ry="3" fill="#ff40a0"/>
<ellipse cx="268" cy="190" rx="4" ry="3" fill="#ff40a0"/>
<ellipse cx="120" cy="270" rx="4" ry="3" fill="#ff40a0"/>
<ellipse cx="165" cy="296" rx="3" ry="3" fill="#ff40a0"/>
<ellipse cx="240" cy="160" rx="3" ry="3" fill="#ff40a0"/>
<ellipse cx="60" cy="205" rx="3" ry="3" fill="#ff40a0"/>
</g></g>
</g>
<clipPath id="c16"><rect x="74.0" y="269.2" width="63.3" height="63.6"/></clipPath>
<g clip-path="url(#c16)">
<rect x="74.0" y="269.2" width="63.3" height="63.6" fill="#050000"/>
<g filter="url(#b2)"><g transform="translate(5.00,266.00) scale(0.19853)">
<ellipse cx="508" cy="180" rx="170" ry="90" fill="#100101" opacity="0.9"/>
</g></g>
<g filter="url(#b05)"><g transform="translate(5.00,266.00) scale(0.19853)">
<path d="M553 26h0M436 89h0M584 233h0M633 46h0M483 27h0M418 178h0M356 81h0M556 191h0M419 205h0M607 20h0M606 239h0M457 67h0M654 125h0M378 49h0M619 209h0M606 249h0M520 326h0M469 193h0M613 214h0M624 201h0M573 33h0M421 110h0M374 92h0M380 106h0M551 134h0M466 84h0M433 315h0M555 211h0M403 249h0M400 138h0M665 221h0M526 235h0M618 264h0M421 28h0M449 103h0M416 317h0M628 118h0M558 143h0M641 163h0M433 96h0M528 101h0M535 303h0M476 88h0M667 180h0M377 33h0" fill="none" stroke="#a01010" stroke-width="4" stroke-linecap="round" opacity="0.6"/>
<ellipse cx="608" cy="100" rx="6" ry="12" fill="#ff2418"/>
<ellipse cx="498" cy="165" rx="10" ry="5" fill="#ff2418"/>
<ellipse cx="393" cy="176" rx="7" ry="4" fill="#ff2418"/>
<ellipse cx="628" cy="181" rx="5" ry="4" fill="#ff2418"/>
<ellipse cx="504" cy="266" rx="6" ry="8" fill="#ff2418"/>
<ellipse cx="520" cy="250" rx="6" ry="4" fill="#ff2418"/>
<ellipse cx="444" cy="236" rx="4" ry="3" fill="#ff2418"/>
<ellipse cx="378" cy="240" rx="4" ry="3" fill="#ff2418"/>
<ellipse cx="596" cy="190" rx="4" ry="3" fill="#ff2418"/>
<ellipse cx="448" cy="270" rx="4" ry="3" fill="#ff2418"/>
<ellipse cx="493" cy="296" rx="3" ry="3" fill="#ff2418"/>
<ellipse cx="568" cy="160" rx="3" ry="3" fill="#ff2418"/>
<ellipse cx="388" cy="205" rx="3" ry="3" fill="#ff2418"/>
</g></g>
</g>
<clipPath id="c17"><rect x="8.6" y="334.3" width="63.45" height="63.4"/></clipPath>
<g clip-path="url(#c17)">
<rect x="8.6" y="334.3" width="63.45" height="63.4" fill="#030008"/>
<g filter="url(#b1)" opacity="0.8"><g transform="translate(5.00,331.00) scale(0.19853)">
<polygon points="20,17 120,17 200,50 280,85 340,100 340,195 280,175 200,150 100,125 20,120" fill="#1212c4"/>
<polygon points="20,240 100,255 180,275 240,295 290,340 20,340" fill="#1212c4"/>
</g></g>
<g filter="url(#cell2)"><g transform="translate(5.00,331.00) scale(0.19853)">
<polygon points="20,17 120,17 200,50 280,85 340,100 340,195 280,175 200,150 100,125 20,120" fill="#2222ff"/>
<polygon points="20,240 100,255 180,275 240,295 290,340 20,340" fill="#2222ff"/>
</g></g>
<g filter="url(#b05)"><g transform="translate(5.00,331.00) scale(0.19853)">
<path d="M66 99h0M235 158h0M165 106h0M26 94h0M159 48h0M292 163h0M140 34h0M184 105h0M267 123h0M182 119h0M141 26h0M304 110h0M189 142h0M209 83h0M330 115h0M56 105h0M329 124h0M47 40h0M55 112h0M309 175h0M204 63h0M125 79h0M79 49h0M285 143h0M329 136h0M80 56h0M92 99h0M40 22h0M195 126h0M205 64h0M69 18h0M140 75h0M104 41h0M204 140h0M84 25h0M66 57h0M253 102h0M225 68h0M234 70h0M174 96h0M312 151h0M215 146h0M186 119h0M335 126h0M254 109h0M102 104h0M168 70h0M129 96h0M105 42h0M243 97h0M96 99h0M97 123h0M208 145h0M80 62h0M302 167h0M146 84h0M161 99h0M171 132h0M238 114h0M135 32h0" fill="none" stroke="#2c2cf8" stroke-width="7" stroke-linecap="round" opacity="0.7"/>
<path d="M306 92h0M63 132h0M196 41h0M69 15h0M29 104h0M223 58h0M115 20h0M20 109h0M210 159h0M253 156h0M286 79h0M240 152h0M336 159h0M344 135h0M36 13h0M38 11h0M110 20h0M122 16h0M172 145h0M212 54h0M279 85h0M27 17h0M109 21h0M184 38h0M28 62h0M318 89h0M252 74h0M162 144h0M66 19h0M18 71h0M279 89h0M268 86h0M312 88h0M122 28h0M258 77h0M26 46h0M345 148h0M155 149h0M106 22h0M86 119h0M332 140h0M239 54h0M325 109h0M38 13h0M174 49h0M274 85h0M15 83h0M224 157h0M174 140h0M36 124h0M139 21h0M135 144h0M47 12h0M157 39h0M63 23h0M301 179h0M57 140h0M319 99h0M98 13h0M131 138h0M254 81h0M225 164h0M9 20h0M26 58h0M57 121h0M85 114h0M295 76h0M336 143h0M15 84h0M334 131h0" fill="none" stroke="#2424f0" stroke-width="7" stroke-linecap="round" opacity="0.8"/>
<path d="M109 303h0M106 289h0M43 272h0M51 288h0M109 278h0M28 339h0M174 331h0M36 287h0M208 316h0M135 275h0M236 321h0M142 318h0M108 330h0M221 302h0M247 307h0M121 334h0M138 271h0M133 297h0M44 324h0M45 269h0M136 320h0M236 314h0M217 291h0M44 275h0M108 272h0M233 324h0M132 329h0M199 296h0M192 284h0M57 330h0M81 327h0M123 295h0M124 274h0M260 334h0M165 286h0M139 300h0M24 297h0M204 295h0M20 297h0M159 278h0M78 286h0M187 292h0M45 264h0M45 323h0M103 307h0M152 292h0M40 252h0M240 310h0M81 298h0M131 320h0M184 337h0M73 266h0M111 268h0M238 340h0M78 280h0M121 310h0M132 326h0M52 301h0M37 281h0M73 323h0" fill="none" stroke="#2c2cf8" stroke-width="7" stroke-linecap="round" opacity="0.7"/>
<path d="M276 315h0M83 329h0M98 333h0M135 276h0M96 252h0M29 231h0M55 348h0M96 344h0M55 259h0M172 263h0M17 289h0M73 342h0M91 262h0M24 255h0M195 340h0M194 282h0M101 359h0M19 298h0M160 278h0M277 329h0M32 247h0M252 328h0M257 309h0M251 330h0M32 233h0M20 312h0M221 286h0M218 348h0M76 343h0M191 341h0M119 264h0M15 253h0M130 341h0M33 247h0M235 324h0M18 333h0M29 264h0M130 328h0M213 332h0M196 304h0M238 336h0M14 235h0M290 340h0M59 239h0M54 339h0M224 345h0M132 264h0M81 238h0M227 334h0M129 253h0M271 321h0M204 280h0M191 273h0M19 289h0M37 343h0M213 288h0M25 240h0M294 342h0M241 291h0M207 262h0M224 349h0M25 262h0M93 250h0M237 293h0M81 264h0M191 344h0M12 325h0M22 323h0M30 352h0M73 257h0" fill="none" stroke="#2424f0" stroke-width="7" stroke-linecap="round" opacity="0.8"/>
<path d="M186 108h0M46 44h0M289 112h0M131 261h0M239 158h0M100 163h0M290 211h0M106 122h0M253 304h0M119 154h0M96 196h0M192 260h0M303 285h0M316 180h0M52 270h0M36 50h0M232 239h0M276 100h0M256 159h0M26 249h0M231 135h0M154 60h0M278 95h0M89 268h0M142 214h0M187 174h0M217 171h0M45 177h0M191 23h0M21 327h0M126 53h0M51 158h0M301 280h0M179 254h0M238 252h0M305 133h0M179 251h0M259 280h0M46 232h0M267 216h0M211 115h0M134 90h0M22 38h0M43 334h0M190 312h0M169 229h0M255 32h0M213 46h0M46 101h0M303 260h0M65 108h0M136 89h0M126 139h0M270 321h0M84 234h0M84 326h0M291 229h0M258 122h0M36 224h0M26 306h0" fill="none" stroke="#2222d0" stroke-width="6" stroke-linecap="round" opacity="0.75"/>
</g></g>
<g filter="url(#b05)"><g transform="translate(5.00,331.00) scale(0.19853)">
<path d="M334 272h0M84 46h0M248 305h0M244 170h0M119 211h0M132 66h0M171 195h0M238 238h0M122 168h0M260 310h0M250 178h0M26 162h0M178 192h0M194 163h0M155 186h0M122 269h0M131 299h0M323 247h0M53 276h0M294 31h0M256 258h0M134 105h0M24 306h0M136 260h0M78 261h0M111 197h0M102 141h0M223 70h0M118 140h0M145 141h0M98 56h0M258 176h0M279 83h0M337 43h0M28 325h0" fill="none" stroke="#901010" stroke-width="4" stroke-linecap="round" opacity="0.55"/>
<ellipse cx="50" cy="131" rx="6" ry="4" fill="#ff40a0"/>
<ellipse cx="78" cy="127" rx="7" ry="5" fill="#ff40a0"/>
<ellipse cx="210" cy="160" rx="5" ry="8" fill="#ff40a0"/>
<ellipse cx="305" cy="181" rx="7" ry="6" fill="#ff40a0"/>
<ellipse cx="322" cy="186" rx="6" ry="6" fill="#ff40a0"/>
<ellipse cx="100" cy="258" rx="5" ry="4" fill="#ff40a0"/>
<ellipse cx="135" cy="265" rx="9" ry="7" fill="#ff40a0"/>
<ellipse cx="215" cy="286" rx="4" ry="4" fill="#ff40a0"/>
<ellipse cx="240" cy="306" rx="3" ry="4" fill="#ff40a0"/>
<ellipse cx="230" cy="150" rx="3" ry="3" fill="#ff40a0"/>
</g></g>
</g>
<clipPath id="c18"><rect x="74.0" y="334.3" width="63.3" height="63.4"/></clipPath>
<g clip-path="url(#c18)">
<rect x="74.0" y="334.3" width="63.3" height="63.4" fill="#040000"/>
<g filter="url(#b05)"><g transform="translate(5.00,331.00) scale(0.19853)">
<path d="M479 189h0M624 73h0M420 26h0M385 20h0M398 180h0M665 238h0M469 146h0M569 121h0M372 285h0M546 53h0M370 47h0M655 51h0M548 325h0M359 140h0M501 309h0M408 99h0M427 33h0M564 277h0M488 29h0M576 251h0M557 122h0M614 218h0M537 189h0M423 162h0M602 234h0M459 278h0M617 31h0M398 88h0M353 257h0M555 190h0M666 130h0M412 52h0M457 284h0M542 36h0M487 32h0" fill="none" stroke="#901010" stroke-width="4" stroke-linecap="round" opacity="0.55"/>
<ellipse cx="378" cy="131" rx="6" ry="4" fill="#ff2418"/>
<ellipse cx="406" cy="127" rx="7" ry="5" fill="#ff2418"/>
<ellipse cx="538" cy="160" rx="5" ry="8" fill="#ff2418"/>
<ellipse cx="633" cy="181" rx="7" ry="6" fill="#ff2418"/>
<ellipse cx="650" cy="186" rx="6" ry="6" fill="#ff2418"/>
<ellipse cx="428" cy="258" rx="5" ry="4" fill="#ff2418"/>
<ellipse cx="463" cy="265" rx="9" ry="7" fill="#ff2418"/>
<ellipse cx="543" cy="286" rx="4" ry="4" fill="#ff2418"/>
<ellipse cx="568" cy="306" rx="3" ry="4" fill="#ff2418"/>
<ellipse cx="558" cy="150" rx="3" ry="3" fill="#ff2418"/>
</g></g>
</g>
<line x1="129.2" y1="394.7" x2="136" y2="394.7" stroke="#fff" stroke-width="1.5"/>
<clipPath id="c19"><rect x="164" y="269.2" width="63.9" height="63.6"/></clipPath>
<g clip-path="url(#c19)">
<rect x="164" y="269.2" width="63.9" height="63.6" fill="#200204"/>
<g filter="url(#b1)" opacity="0.8"><g transform="translate(160.00,266.00) scale(0.19853)">
<polygon points="22,34 340,34 340,100 300,110 240,105 180,115 130,140 80,170 22,200" fill="#1212c4"/>
<polygon points="22,212 340,214 340,288 200,294 22,290" fill="#1212c4"/>
</g></g>
<g filter="url(#cell2)"><g transform="translate(160.00,266.00) scale(0.19853)">
<polygon points="22,34 340,34 340,100 300,110 240,105 180,115 130,140 80,170 22,200" fill="#2222ff"/>
<polygon points="22,212 340,214 340,288 200,294 22,290" fill="#2222ff"/>
</g></g>
<g filter="url(#b05)"><g transform="translate(160.00,266.00) scale(0.19853)">
<path d="M108 115h0M48 90h0M45 36h0M112 54h0M33 138h0M65 166h0M256 69h0M46 102h0M77 76h0M52 49h0M261 87h0M211 44h0M134 138h0M27 117h0M220 83h0M68 110h0M49 98h0M31 177h0M114 84h0M80 137h0M38 191h0M55 138h0M205 94h0M111 107h0M69 38h0M52 135h0M43 56h0M48 149h0M292 99h0M287 97h0M150 97h0M45 132h0M96 94h0M304 70h0M325 99h0M209 43h0M311 72h0M94 42h0M220 95h0M289 97h0M39 162h0M42 94h0M243 48h0M198 99h0M92 101h0M54 144h0M230 80h0M221 58h0M202 90h0M143 37h0M61 123h0M290 42h0M153 90h0M182 79h0M307 55h0M192 73h0M170 52h0M155 66h0M318 57h0M243 102h0" fill="none" stroke="#2c2cf8" stroke-width="7" stroke-linecap="round" opacity="0.7"/>
<path d="M347 61h0M55 37h0M196 104h0M99 162h0M323 50h0M20 144h0M26 90h0M22 56h0M318 29h0M179 37h0M109 159h0M21 112h0M26 178h0M70 176h0M319 94h0M112 153h0M119 45h0M291 36h0M32 32h0M277 34h0M125 146h0M311 112h0M12 94h0M339 33h0M193 27h0M290 100h0M161 37h0M338 33h0M342 74h0M211 24h0M37 162h0M120 156h0M176 120h0M101 48h0M336 42h0M227 36h0M341 102h0M33 202h0M33 93h0M281 108h0M123 140h0M22 152h0M314 33h0M11 117h0M224 122h0M248 114h0M24 164h0M170 133h0M175 116h0M19 66h0M345 99h0M18 37h0M65 162h0M230 24h0M25 124h0M350 85h0M353 95h0M38 55h0M324 98h0M59 30h0M187 29h0M86 166h0M20 184h0M311 107h0M93 155h0M26 89h0M309 31h0M284 41h0M299 117h0M239 101h0" fill="none" stroke="#2424f0" stroke-width="7" stroke-linecap="round" opacity="0.8"/>
<path d="M239 240h0M334 218h0M37 244h0M65 223h0M263 257h0M243 226h0M226 275h0M49 226h0M168 239h0M291 258h0M171 244h0M75 227h0M109 213h0M75 260h0M183 253h0M195 259h0M340 255h0M267 237h0M278 256h0M85 285h0M224 285h0M37 281h0M259 282h0M112 239h0M229 241h0M196 280h0M305 272h0M220 286h0M130 262h0M53 274h0M216 216h0M192 222h0M125 267h0M49 280h0M241 267h0M125 221h0M191 267h0M322 266h0M259 250h0M95 256h0M319 257h0M40 264h0M294 252h0M240 225h0M236 256h0M276 253h0M164 248h0M189 232h0M256 233h0M305 220h0M149 287h0M33 280h0M214 270h0M42 273h0M96 280h0M275 260h0M320 259h0M94 277h0M115 230h0M109 225h0" fill="none" stroke="#2c2cf8" stroke-width="7" stroke-linecap="round" opacity="0.7"/>
<path d="M182 206h0M27 211h0M221 213h0M28 257h0M345 276h0M148 215h0M228 215h0M200 212h0M171 297h0M333 220h0M33 276h0M175 283h0M56 294h0M248 291h0M301 219h0M100 279h0M281 293h0M310 221h0M23 225h0M92 290h0M214 220h0M49 287h0M122 199h0M106 300h0M71 290h0M264 276h0M109 217h0M186 211h0M318 226h0M209 297h0M138 302h0M124 212h0M31 291h0M16 251h0M135 205h0M135 222h0M290 292h0M347 273h0M29 292h0M348 255h0M186 291h0M24 233h0M336 285h0M65 215h0M23 233h0M67 221h0M236 210h0M165 299h0M273 220h0M342 219h0M225 208h0M107 219h0M38 216h0M322 213h0M177 219h0M144 294h0M12 280h0M154 302h0M86 292h0M298 206h0M332 297h0M347 223h0M136 209h0M14 273h0M199 292h0M209 296h0M101 209h0M61 283h0M53 209h0M265 288h0" fill="none" stroke="#2424f0" stroke-width="7" stroke-linecap="round" opacity="0.8"/>
<path d="M54 297h0M329 314h0M270 330h0M211 301h0M246 309h0M274 311h0M119 319h0M217 312h0M255 328h0M175 334h0M159 322h0M204 319h0M259 317h0M77 291h0" fill="none" stroke="#2222d0" stroke-width="6" stroke-linecap="round" opacity="0.75"/>
</g></g>
<g filter="url(#b2)"><g transform="translate(160.00,266.00) scale(0.19853)">
<polygon points="22,10 340,10 340,50 22,50" fill="#8a1410" opacity="0.9"/>
<polygon points="22,40 340,40 340,80 22,80" fill="#4a0a08" opacity="0.6"/>
<ellipse cx="120" cy="30" rx="60" ry="18" fill="#c02418" opacity="0.8"/>
<polygon points="22,295 340,295 340,345 22,345" fill="#4a0806" opacity="0.7"/>
</g></g>
<g filter="url(#b05)"><g transform="translate(160.00,266.00) scale(0.19853)">
<path d="M106 26h0M199 30h0M25 83h0M287 40h0M324 20h0M261 77h0M308 90h0M94 86h0M299 34h0M152 48h0M133 30h0M305 50h0M68 23h0M73 87h0M257 88h0M194 95h0M214 43h0M186 46h0M100 58h0M214 17h0M281 21h0M191 24h0M163 62h0M239 77h0M329 90h0M110 20h0M193 39h0M62 38h0M96 83h0M189 83h0" fill="none" stroke="#c02890" stroke-width="6" stroke-linecap="round" opacity="0.7"/>
<path d="M168 118h0M282 112h0M158 120h0M214 111h0M219 106h0M121 143h0M255 104h0M48 179h0M151 125h0M198 112h0M133 141h0M87 166h0M23 199h0M323 108h0M278 111h0M156 123h0M78 169h0M168 116h0M30 200h0M338 94h0M100 156h0M178 114h0M327 102h0M224 112h0M154 130h0M110 147h0M69 170h0M115 144h0M300 114h0M301 115h0" fill="none" stroke="#ff38a8" stroke-width="8.5" stroke-linecap="round" opacity="0.9"/>
<path d="M101 214h0M102 208h0M329 218h0M268 203h0M242 213h0M267 212h0M185 210h0M250 220h0M155 201h0M295 198h0M80 207h0M197 212h0M163 206h0M301 217h0M270 213h0M291 212h0M71 215h0M317 214h0M36 210h0M292 215h0M304 206h0M267 214h0M190 213h0M77 204h0M37 210h0M120 211h0M129 207h0M186 203h0M263 208h0M131 213h0M54 208h0M137 216h0M165 210h0M217 209h0M244 210h0M241 213h0M188 214h0M108 207h0M66 208h0M285 212h0M158 213h0M57 204h0M37 204h0M321 214h0M85 214h0M41 207h0M90 210h0M227 216h0" fill="none" stroke="#ff38a8" stroke-width="8.5" stroke-linecap="round" opacity="0.9"/>
<path d="M214 187h0M189 149h0M182 152h0M166 168h0M264 119h0M137 195h0M280 143h0M296 177h0M232 164h0M283 179h0M242 163h0M88 181h0M251 193h0M80 198h0M304 120h0M121 157h0M170 200h0M139 149h0M238 154h0M171 174h0M272 190h0M168 144h0M182 183h0M308 108h0M283 111h0M204 189h0M125 191h0M220 178h0" fill="none" stroke="#ff38a8" stroke-width="8" stroke-linecap="round" opacity="0.85"/>
<path d="M24 235h0M270 298h0M97 259h0M175 316h0M184 298h0M271 307h0M229 305h0M150 225h0M158 246h0M176 226h0M41 248h0M327 276h0M42 268h0M329 250h0M329 252h0M306 297h0M267 281h0M255 293h0M236 241h0M270 232h0M248 321h0M119 241h0" fill="none" stroke="#ff38a8" stroke-width="8" stroke-linecap="round" opacity="0.8"/>
</g></g>
</g>
<clipPath id="c20"><rect x="229.4" y="269.2" width="63.65" height="63.6"/></clipPath>
<g clip-path="url(#c20)">
<rect x="229.4" y="269.2" width="63.65" height="63.6" fill="#260300"/>
<g filter="url(#b2)"><g transform="translate(160.00,266.00) scale(0.19853)">
<polygon points="348,10 666,10 666,50 348,50" fill="#8a1410" opacity="0.9"/>
<polygon points="348,40 666,40 666,80 348,80" fill="#4a0a08" opacity="0.6"/>
<ellipse cx="446" cy="30" rx="60" ry="18" fill="#c02418" opacity="0.8"/>
<polygon points="348,295 666,295 666,345 348,345" fill="#4a0806" opacity="0.7"/>
</g></g>
<g filter="url(#b05)"><g transform="translate(160.00,266.00) scale(0.19853)">
<path d="M630 49h0M535 88h0M421 59h0M534 96h0M358 21h0M450 85h0M616 27h0M640 60h0M656 94h0M378 98h0M500 28h0M496 21h0M586 61h0M383 34h0M509 81h0M435 24h0M461 21h0M455 89h0M406 41h0M594 32h0M385 36h0M542 75h0M563 20h0M438 25h0M526 46h0M587 63h0M533 30h0M521 21h0M380 88h0M403 15h0" fill="none" stroke="#d02020" stroke-width="6" stroke-linecap="round" opacity="0.7"/>
<path d="M572 108h0M523 112h0M555 110h0M461 141h0M551 111h0M595 101h0M489 121h0M462 139h0M371 197h0M458 143h0M580 100h0M365 195h0M437 149h0M628 116h0M640 103h0M374 191h0M501 123h0M426 156h0M640 106h0M544 104h0M355 196h0M345 194h0M573 107h0M508 110h0M351 195h0M453 147h0M422 156h0M383 184h0M442 151h0M614 101h0" fill="none" stroke="#ee2816" stroke-width="8.5" stroke-linecap="round" opacity="0.9"/>
<path d="M500 211h0M429 206h0M562 208h0M403 200h0M643 213h0M565 209h0M607 210h0M549 214h0M386 207h0M497 204h0M498 213h0M479 213h0M660 212h0M427 201h0M503 211h0M640 213h0M503 211h0M617 220h0M660 203h0M387 214h0M410 204h0M542 219h0M458 202h0M560 216h0M410 213h0M416 211h0M639 216h0M579 207h0M369 211h0M354 203h0M518 215h0M578 204h0M513 207h0M544 221h0M481 212h0M401 201h0M630 213h0M368 209h0M544 212h0M468 215h0M478 219h0M527 215h0M650 218h0M650 210h0M598 211h0M578 205h0M662 227h0M618 216h0" fill="none" stroke="#ee2816" stroke-width="8.5" stroke-linecap="round" opacity="0.9"/>
<path d="M614 178h0M510 124h0M507 195h0M626 129h0M541 196h0M638 159h0M437 182h0M492 164h0M482 160h0M595 193h0M529 119h0M658 183h0M499 154h0M653 110h0M552 153h0M662 122h0M641 123h0M463 188h0M383 198h0M505 138h0M578 161h0M437 201h0M560 137h0M662 174h0M419 188h0M510 129h0M391 187h0M503 125h0" fill="none" stroke="#ee2816" stroke-width="8" stroke-linecap="round" opacity="0.85"/>
<path d="M506 228h0M497 228h0M480 228h0M612 309h0M389 330h0M607 244h0M498 290h0M631 243h0M600 271h0M373 258h0M405 323h0M624 237h0M654 308h0M596 313h0M610 326h0M513 330h0M654 322h0M442 322h0M520 270h0M632 239h0M496 250h0M628 334h0" fill="none" stroke="#ee2816" stroke-width="8" stroke-linecap="round" opacity="0.8"/>
</g></g>
</g>
<clipPath id="c21"><rect x="164" y="334.3" width="63.9" height="63.4"/></clipPath>
<g clip-path="url(#c21)">
<rect x="164" y="334.3" width="63.9" height="63.4" fill="#140208"/>
<g filter="url(#b1)" opacity="0.8"><g transform="translate(160.00,331.00) scale(0.19853)">
<polygon points="22,17 340,17 340,40 280,55 220,75 160,100 100,115 22,125" fill="#1212c4"/>
<polygon points="22,128 340,122 340,178 200,192 100,206 22,214" fill="#1212c4"/>
</g></g>
<g filter="url(#cell2)"><g transform="translate(160.00,331.00) scale(0.19853)">
<polygon points="22,17 340,17 340,40 280,55 220,75 160,100 100,115 22,125" fill="#2222ff"/>
<polygon points="22,128 340,122 340,178 200,192 100,206 22,214" fill="#2222ff"/>
</g></g>
<g filter="url(#b05)"><g transform="translate(160.00,331.00) scale(0.19853)">
<path d="M134 63h0M166 54h0M185 59h0M35 62h0M30 28h0M175 76h0M202 42h0M188 56h0M327 21h0M141 91h0M213 77h0M264 43h0M33 53h0M137 58h0M194 44h0M92 97h0M237 48h0M268 43h0M199 45h0M191 21h0M121 101h0M105 96h0M222 39h0M48 46h0M314 21h0M106 87h0M172 93h0M276 51h0M29 43h0M78 116h0M63 32h0M272 54h0M147 46h0M22 30h0M43 19h0M35 37h0M185 70h0M190 78h0M25 25h0M301 42h0M41 30h0M50 23h0M196 43h0M48 70h0M153 55h0M118 108h0M178 32h0M331 30h0M43 102h0M58 43h0M275 35h0M29 28h0M168 67h0M110 76h0M328 37h0M238 21h0M106 69h0M44 102h0M212 75h0M153 91h0" fill="none" stroke="#2c2cf8" stroke-width="7" stroke-linecap="round" opacity="0.7"/>
<path d="M22 93h0M16 64h0M16 52h0M119 11h0M108 117h0M31 118h0M232 22h0M38 108h0M335 35h0M169 105h0M49 11h0M212 75h0M265 14h0M302 49h0M282 56h0M222 68h0M14 79h0M193 85h0M158 102h0M210 82h0M341 24h0M224 75h0M73 21h0M106 103h0M294 61h0M343 18h0M213 76h0M342 34h0M274 59h0M271 14h0M126 107h0M85 19h0M310 19h0M87 27h0M284 42h0M249 7h0M69 9h0M209 16h0M14 110h0M253 61h0M68 14h0M29 126h0M135 109h0M319 32h0M245 9h0M298 20h0M51 13h0M292 15h0M85 101h0M329 30h0M156 106h0M330 35h0M143 111h0M74 11h0M336 39h0M283 15h0M22 21h0M154 99h0M278 52h0M23 79h0M307 46h0M100 121h0M19 101h0M35 124h0M175 32h0M136 15h0M75 113h0M162 100h0M341 7h0M48 13h0" fill="none" stroke="#2424f0" stroke-width="7" stroke-linecap="round" opacity="0.8"/>
<path d="M178 147h0M83 160h0M187 154h0M338 128h0M172 128h0M74 143h0M156 195h0M116 133h0M192 171h0M236 176h0M125 197h0M57 151h0M37 142h0M283 170h0M217 125h0M198 127h0M306 165h0M51 148h0M237 180h0M148 154h0M304 150h0M249 127h0M314 165h0M254 153h0M51 200h0M323 156h0M53 157h0M205 184h0M62 142h0M24 161h0M247 175h0M63 193h0M141 181h0M339 146h0M284 136h0M35 144h0M254 134h0M311 135h0M187 134h0M217 175h0M29 194h0M212 175h0M223 135h0M96 133h0M307 148h0M214 160h0M316 163h0M80 161h0M178 160h0M141 150h0M307 158h0M285 125h0M265 147h0M171 131h0M211 156h0M233 175h0M69 146h0M73 201h0M275 160h0M250 136h0" fill="none" stroke="#2c2cf8" stroke-width="7" stroke-linecap="round" opacity="0.7"/>
<path d="M17 181h0M192 123h0M171 115h0M197 203h0M318 174h0M316 113h0M276 198h0M107 200h0M86 203h0M232 129h0M27 217h0M141 184h0M176 115h0M332 167h0M231 132h0M312 170h0M173 117h0M217 130h0M209 196h0M238 182h0M57 127h0M346 149h0M99 118h0M20 201h0M185 119h0M24 141h0M327 180h0M114 202h0M352 125h0M138 207h0M33 216h0M20 140h0M112 119h0M110 197h0M265 113h0M102 206h0M97 194h0M226 123h0M342 169h0M222 133h0M245 180h0M269 113h0M76 220h0M38 122h0M13 200h0M254 130h0M35 205h0M320 166h0M319 132h0M75 132h0M172 199h0M206 191h0M17 162h0M87 201h0M340 144h0M342 166h0M200 129h0M267 186h0M233 120h0M20 189h0M20 185h0M337 124h0M187 193h0M34 125h0M62 214h0M106 204h0M261 120h0M331 174h0M204 121h0M121 220h0" fill="none" stroke="#2424f0" stroke-width="7" stroke-linecap="round" opacity="0.8"/>
<path d="M32 232h0M241 321h0M249 269h0M249 308h0M125 281h0M228 331h0M91 254h0M221 310h0M187 248h0M339 305h0M47 237h0M40 308h0M79 325h0M228 282h0M217 249h0M277 237h0M165 227h0M84 305h0M179 327h0M68 330h0M65 300h0M292 288h0M104 304h0M329 312h0M120 238h0" fill="none" stroke="#2222d0" stroke-width="6" stroke-linecap="round" opacity="0.75"/>
</g></g>
<g filter="url(#b05)"><g transform="translate(160.00,331.00) scale(0.19853)">
<path d="M309 124h0M245 124h0M222 125h0M275 129h0M85 120h0M252 120h0M324 118h0M282 132h0M71 122h0M113 123h0M129 126h0M211 127h0M64 129h0M186 126h0M283 127h0M317 119h0M66 121h0M22 125h0M132 121h0M249 125h0M40 129h0M45 125h0M212 125h0M277 123h0M188 128h0M260 121h0M113 128h0M117 129h0M68 121h0M266 133h0M192 122h0M126 121h0M199 126h0M180 127h0M291 126h0M48 128h0M193 135h0M251 134h0M238 117h0M224 115h0M33 122h0M242 120h0M147 109h0M70 117h0M24 131h0M157 119h0M188 125h0M87 125h0M22 124h0M116 119h0" fill="none" stroke="#ff38a8" stroke-width="8.5" stroke-linecap="round" opacity="0.9"/>
<path d="M269 53h0M247 62h0M277 51h0M192 88h0M97 113h0M119 102h0M307 51h0M314 53h0M269 70h0M179 82h0M297 50h0M311 48h0M279 64h0M281 51h0M114 98h0M326 48h0M305 45h0M184 97h0M167 103h0M213 81h0M307 49h0M214 71h0" fill="none" stroke="#ff38a8" stroke-width="8.5" stroke-linecap="round" opacity="0.9"/>
<path d="M205 76h0M139 69h0M80 68h0M175 89h0M158 82h0M243 98h0M268 39h0M205 64h0M145 59h0M226 33h0M85 48h0M210 85h0" fill="none" stroke="#ff38a8" stroke-width="6" stroke-linecap="round" opacity="0.8"/>
<path d="M196 233h0M115 269h0M230 253h0M296 154h0M207 224h0M329 253h0M41 278h0M88 185h0M197 156h0M335 316h0M60 211h0M175 168h0M263 272h0M136 152h0M204 312h0M164 173h0M320 218h0M39 241h0M32 269h0M241 291h0M89 186h0M252 332h0M87 245h0M56 293h0M225 277h0M264 168h0M289 186h0M70 244h0M104 202h0M69 212h0M296 273h0M312 219h0M62 177h0M158 256h0" fill="none" stroke="#ff38a8" stroke-width="8.5" stroke-linecap="round" opacity="0.85"/>
</g></g>
</g>
<clipPath id="c22"><rect x="229.4" y="334.3" width="63.65" height="63.4"/></clipPath>
<g clip-path="url(#c22)">
<rect x="229.4" y="334.3" width="63.65" height="63.4" fill="#160200"/>
<g filter="url(#b05)"><g transform="translate(160.00,331.00) scale(0.19853)">
<path d="M528 129h0M447 123h0M597 134h0M631 127h0M408 124h0M398 126h0M365 125h0M388 121h0M451 132h0M427 115h0M529 126h0M558 128h0M608 119h0M463 128h0M508 125h0M392 130h0M442 128h0M587 128h0M342 121h0M473 125h0M594 129h0M581 113h0M403 128h0M604 119h0M473 121h0M466 127h0M628 119h0M362 126h0M346 121h0M379 118h0M511 122h0M486 121h0M419 115h0M662 120h0M439 127h0M483 125h0M455 123h0M377 136h0M450 117h0M377 118h0M646 124h0M453 118h0M656 120h0M544 128h0M350 132h0M619 129h0M372 131h0M490 119h0M559 117h0M414 125h0" fill="none" stroke="#ee2816" stroke-width="8.5" stroke-linecap="round" opacity="0.9"/>
<path d="M479 105h0M476 103h0M651 47h0M636 44h0M579 60h0M555 63h0M444 111h0M519 90h0M442 108h0M442 112h0M474 94h0M594 65h0M625 53h0M518 95h0M495 94h0M520 80h0M510 82h0M470 97h0M549 64h0M610 67h0M636 55h0M446 104h0" fill="none" stroke="#ee2816" stroke-width="8.5" stroke-linecap="round" opacity="0.9"/>
<path d="M630 57h0M573 92h0M603 41h0M374 55h0M444 109h0M368 95h0M577 92h0M404 94h0M634 97h0M564 78h0M599 99h0M617 24h0" fill="none" stroke="#ee2816" stroke-width="6" stroke-linecap="round" opacity="0.8"/>
<path d="M367 251h0M349 284h0M609 227h0M510 193h0M446 227h0M439 292h0M448 238h0M487 261h0M520 152h0M639 250h0M539 326h0M544 280h0M581 219h0M520 234h0M609 274h0M630 167h0M496 174h0M602 191h0M356 202h0M480 299h0M539 282h0M625 219h0M374 181h0M589 169h0M536 302h0M382 193h0M654 290h0M498 163h0M600 244h0M641 247h0M380 319h0M627 226h0M542 328h0M394 288h0" fill="none" stroke="#ee2816" stroke-width="8.5" stroke-linecap="round" opacity="0.85"/>
</g></g>
</g>
<line x1="285.9" y1="394.7" x2="292" y2="394.7" stroke="#fff" stroke-width="1.5"/>
<clipPath id="c23"><rect x="321.9" y="269.2" width="64.0" height="63.6"/></clipPath>
<g clip-path="url(#c23)">
<rect x="321.9" y="269.2" width="64.0" height="63.6" fill="#020504"/>
<g filter="url(#b1)" opacity="0.8"><g transform="translate(318.00,266.00) scale(0.19853)">
<polygon points="22,92 140,76 240,46 300,15 340,15 340,110 280,140 200,160 120,185 22,208" fill="#1212c4"/>
<polygon points="22,306 340,296 340,340 22,340" fill="#1212c4"/>
</g></g>
<g filter="url(#cell2)"><g transform="translate(318.00,266.00) scale(0.19853)">
<polygon points="22,92 140,76 240,46 300,15 340,15 340,110 280,140 200,160 120,185 22,208" fill="#2222ff"/>
<polygon points="22,306 340,296 340,340 22,340" fill="#2222ff"/>
</g></g>
<g filter="url(#b05)"><g transform="translate(318.00,266.00) scale(0.19853)">
<path d="M43 95h0M57 160h0M36 157h0M71 157h0M222 112h0M294 131h0M204 92h0M157 88h0M268 67h0M219 143h0M88 164h0M211 76h0M103 99h0M217 149h0M181 88h0M196 120h0M49 197h0M285 27h0M242 87h0M233 99h0M83 97h0M250 46h0M55 94h0M228 60h0M151 116h0M217 155h0M212 98h0M204 158h0M185 81h0M228 117h0M47 102h0M92 180h0M71 92h0M108 127h0M214 75h0M61 192h0M184 69h0M110 106h0M226 72h0M236 54h0M62 174h0M262 59h0M33 155h0M313 34h0M244 84h0M128 105h0M42 103h0M155 139h0M65 154h0M317 87h0M272 59h0M225 73h0M84 106h0M307 108h0M306 110h0M38 190h0M154 169h0M335 50h0M322 19h0M128 116h0" fill="none" stroke="#2c2cf8" stroke-width="7" stroke-linecap="round" opacity="0.7"/>
<path d="M203 48h0M335 115h0M167 156h0M341 115h0M332 63h0M329 24h0M209 61h0M164 164h0M26 90h0M144 168h0M187 68h0M138 186h0M132 175h0M332 78h0M104 185h0M202 50h0M200 166h0M106 89h0M141 76h0M108 192h0M339 50h0M339 1h0M38 184h0M237 146h0M170 170h0M231 148h0M257 141h0M210 163h0M81 90h0M304 128h0M333 18h0M78 93h0M97 78h0M285 34h0M57 200h0M126 176h0M51 216h0M340 53h0M25 138h0M42 86h0M138 78h0M139 80h0M169 164h0M296 31h0M345 89h0M45 86h0M21 149h0M211 167h0M194 63h0M345 56h0M314 127h0M242 32h0M132 182h0M262 149h0M26 207h0M269 157h0M77 81h0M116 185h0M140 173h0M269 23h0M88 201h0M349 21h0M92 88h0M165 63h0M122 81h0M241 152h0M248 46h0M180 65h0M76 85h0M22 105h0" fill="none" stroke="#2424f0" stroke-width="7" stroke-linecap="round" opacity="0.8"/>
<path d="M160 315h0M64 311h0M90 323h0M81 325h0M79 324h0M273 315h0M246 320h0M224 320h0M233 340h0M99 336h0M298 329h0M330 310h0M163 325h0M265 312h0M301 302h0M337 305h0M320 299h0M44 313h0M89 306h0M285 314h0M289 303h0M47 320h0M148 321h0M198 325h0M71 308h0M144 313h0M309 309h0M192 309h0M162 311h0M299 324h0M276 301h0M296 330h0M187 331h0M283 322h0M231 312h0M309 319h0M258 300h0M36 332h0M215 324h0M228 319h0M274 317h0M88 328h0M191 328h0M50 326h0M104 325h0M298 331h0M68 306h0M313 311h0M192 339h0M328 318h0M210 309h0M291 305h0M173 320h0M45 331h0M294 332h0M204 337h0M191 332h0M220 309h0M36 313h0M151 313h0" fill="none" stroke="#2c2cf8" stroke-width="7" stroke-linecap="round" opacity="0.7"/>
<path d="M45 351h0M10 344h0M159 333h0M294 350h0M265 299h0M199 338h0M29 327h0M159 343h0M321 348h0M313 301h0M348 301h0M125 351h0M31 307h0M307 342h0M290 307h0M342 298h0M226 342h0M176 306h0M267 300h0M224 339h0M260 289h0M23 312h0M89 348h0M315 347h0M335 330h0M90 352h0M40 344h0M76 295h0M340 292h0M68 344h0M22 312h0M121 306h0M40 303h0M32 321h0M303 291h0M311 297h0M202 301h0M127 342h0M326 331h0M116 325h0M197 287h0M313 296h0M29 303h0M152 340h0M126 336h0M343 326h0M143 336h0M185 346h0M223 330h0M54 335h0M307 297h0M72 347h0M251 345h0M192 329h0M239 330h0M131 346h0M149 302h0M199 294h0M26 338h0M152 338h0M52 309h0M166 334h0M320 294h0M132 299h0M227 296h0M34 333h0M114 300h0M28 304h0M33 299h0M190 348h0" fill="none" stroke="#2424f0" stroke-width="7" stroke-linecap="round" opacity="0.8"/>
<path d="M215 304h0M274 228h0M286 215h0M313 232h0M228 250h0M40 215h0M173 260h0M213 253h0M79 213h0M142 213h0M176 256h0M295 297h0M161 203h0M205 223h0M254 291h0M114 237h0M101 226h0M88 222h0M311 269h0M326 215h0M61 244h0M337 233h0M306 238h0M125 230h0M82 215h0M52 285h0M122 212h0M298 215h0M232 288h0M42 257h0M97 218h0M298 232h0M53 262h0M152 263h0M291 237h0M284 287h0M194 275h0M189 293h0M134 290h0M320 221h0M254 215h0M235 237h0M318 286h0M187 204h0M71 220h0" fill="none" stroke="#2222d0" stroke-width="6" stroke-linecap="round" opacity="0.75"/>
</g></g>
<g style="mix-blend-mode:screen"><g transform="translate(318.00,266.00) scale(0.19853)">
</g></g>
<g style="mix-blend-mode:screen">
<g filter="url(#b2)"><g transform="translate(318.00,266.00) scale(0.19853)">
<polygon points="22,15 340,15 340,335 22,335" fill="#030c02" opacity="0.9"/>
<ellipse cx="150" cy="60" rx="130" ry="40" fill="#0c2808" opacity="0.55"/>
<polyline points="22,206 120,186 200,162 280,140 340,112" fill="none" stroke="#14500e" stroke-width="18" stroke-linecap="round" stroke-linejoin="round" opacity="0.6"/>
<polyline points="80,318 340,302" fill="none" stroke="#14500e" stroke-width="12" stroke-linecap="round" stroke-linejoin="round" opacity="0.6"/>
</g></g>
<g filter="url(#b05)"><g transform="translate(318.00,266.00) scale(0.19853)">
<polyline points="245,69 244,86" fill="none" stroke="#2a9a20" stroke-width="4" stroke-linecap="round" stroke-linejoin="round" opacity="0.55"/>
<polyline points="122,80 122,99" fill="none" stroke="#2a9a20" stroke-width="4" stroke-linecap="round" stroke-linejoin="round" opacity="0.55"/>
<polyline points="92,64 94,76" fill="none" stroke="#2a9a20" stroke-width="4" stroke-linecap="round" stroke-linejoin="round" opacity="0.55"/>
<polyline points="234,162 233,174" fill="none" stroke="#2a9a20" stroke-width="4" stroke-linecap="round" stroke-linejoin="round" opacity="0.55"/>
<polyline points="318,55 317,73" fill="none" stroke="#2a9a20" stroke-width="4" stroke-linecap="round" stroke-linejoin="round" opacity="0.55"/>
<polyline points="315,166 312,189" fill="none" stroke="#2a9a20" stroke-width="4" stroke-linecap="round" stroke-linejoin="round" opacity="0.55"/>
<polyline points="188,147 189,162" fill="none" stroke="#2a9a20" stroke-width="4" stroke-linecap="round" stroke-linejoin="round" opacity="0.55"/>
<polyline points="73,58 73,71" fill="none" stroke="#2a9a20" stroke-width="4" stroke-linecap="round" stroke-linejoin="round" opacity="0.55"/>
<polyline points="199,131 196,152" fill="none" stroke="#2a9a20" stroke-width="4" stroke-linecap="round" stroke-linejoin="round" opacity="0.55"/>
<polyline points="178,75 179,97" fill="none" stroke="#2a9a20" stroke-width="4" stroke-linecap="round" stroke-linejoin="round" opacity="0.55"/>
<polyline points="83,66 80,78" fill="none" stroke="#2a9a20" stroke-width="4" stroke-linecap="round" stroke-linejoin="round" opacity="0.55"/>
<polyline points="278,163 275,178" fill="none" stroke="#2a9a20" stroke-width="4" stroke-linecap="round" stroke-linejoin="round" opacity="0.55"/>
<polyline points="86,158 89,181" fill="none" stroke="#2a9a20" stroke-width="4" stroke-linecap="round" stroke-linejoin="round" opacity="0.55"/>
<polyline points="147,53 147,70" fill="none" stroke="#2a9a20" stroke-width="4" stroke-linecap="round" stroke-linejoin="round" opacity="0.55"/>
<polyline points="159,109 160,129" fill="none" stroke="#2a9a20" stroke-width="4" stroke-linecap="round" stroke-linejoin="round" opacity="0.55"/>
<polyline points="118,159 115,180" fill="none" stroke="#2a9a20" stroke-width="4" stroke-linecap="round" stroke-linejoin="round" opacity="0.55"/>
<polyline points="228,48 230,64" fill="none" stroke="#2a9a20" stroke-width="4" stroke-linecap="round" stroke-linejoin="round" opacity="0.55"/>
<polyline points="142,50 143,69" fill="none" stroke="#2a9a20" stroke-width="4" stroke-linecap="round" stroke-linejoin="round" opacity="0.55"/>
<polyline points="98,158 97,178" fill="none" stroke="#2a9a20" stroke-width="4" stroke-linecap="round" stroke-linejoin="round" opacity="0.55"/>
<polyline points="249,91 252,113" fill="none" stroke="#2a9a20" stroke-width="4" stroke-linecap="round" stroke-linejoin="round" opacity="0.55"/>
<polyline points="130,59 128,82" fill="none" stroke="#2a9a20" stroke-width="4" stroke-linecap="round" stroke-linejoin="round" opacity="0.55"/>
<polyline points="286,62 283,77" fill="none" stroke="#2a9a20" stroke-width="4" stroke-linecap="round" stroke-linejoin="round" opacity="0.55"/>
<polyline points="46,43 48,64" fill="none" stroke="#2a9a20" stroke-width="4" stroke-linecap="round" stroke-linejoin="round" opacity="0.55"/>
<polyline points="101,121 101,142" fill="none" stroke="#2a9a20" stroke-width="4" stroke-linecap="round" stroke-linejoin="round" opacity="0.55"/>
<polyline points="54,103 54,114" fill="none" stroke="#2a9a20" stroke-width="4" stroke-linecap="round" stroke-linejoin="round" opacity="0.55"/>
<polyline points="94,109 92,120" fill="none" stroke="#2a9a20" stroke-width="4" stroke-linecap="round" stroke-linejoin="round" opacity="0.55"/>
<path d="M59 203h0M270 144h0M130 177h0M261 149h0M46 201h0M266 144h0M139 188h0M242 143h0M297 136h0M206 164h0M216 166h0M196 159h0M121 191h0M161 175h0M142 179h0M70 199h0M170 170h0M324 120h0M53 200h0M181 180h0M166 180h0M81 190h0M237 155h0M57 207h0M188 175h0M279 152h0M296 138h0M173 169h0M170 166h0M263 151h0M145 187h0M104 201h0M59 200h0M235 168h0M200 156h0M58 198h0" fill="none" stroke="#40e838" stroke-width="8" stroke-linecap="round" opacity="0.9"/>
<ellipse cx="325" cy="120" rx="18" ry="11" fill="#50f048" transform="rotate(-20 325 120)"/>
<ellipse cx="182" cy="174" rx="9" ry="12" fill="#40e838" transform="rotate(30 182 174)"/>
<ellipse cx="232" cy="152" rx="12" ry="6" fill="#40e838" transform="rotate(-25 232 152)"/>
<ellipse cx="32" cy="208" rx="12" ry="6" fill="#40e838"/>
<path d="M314 294h0M166 317h0M224 317h0M258 303h0M303 298h0M200 311h0M229 312h0M149 312h0M202 313h0M303 300h0M149 322h0M223 308h0M200 308h0M329 301h0M288 303h0M276 304h0M92 316h0M280 296h0M125 318h0M284 313h0M192 310h0M282 311h0M225 317h0M266 294h0M150 314h0M205 306h0M270 305h0M313 304h0M82 313h0M187 317h0M133 323h0M117 316h0M198 305h0M82 317h0M144 315h0M76 313h0M202 315h0M138 315h0M252 304h0M269 312h0" fill="none" stroke="#40e838" stroke-width="8" stroke-linecap="round" opacity="0.95"/>
<ellipse cx="270" cy="306" rx="26" ry="6" fill="#50f048"/>
<ellipse cx="120" cy="316" rx="16" ry="5" fill="#40e838"/>
<path d="M117 106h0M159 294h0M283 308h0M135 41h0M174 210h0M311 290h0M165 142h0M189 269h0M236 205h0M310 73h0M134 229h0M338 118h0M178 265h0M26 279h0M156 21h0M76 335h0M136 92h0M236 312h0M93 173h0M326 163h0M133 110h0M32 301h0M210 97h0M27 29h0M178 56h0M313 57h0M266 271h0M89 147h0M159 59h0M259 118h0M294 215h0M337 132h0M42 64h0M194 198h0M193 285h0M338 37h0M334 233h0M240 329h0M157 226h0M254 102h0" fill="none" stroke="#2a8a20" stroke-width="4" stroke-linecap="round" opacity="0.6"/>
</g></g>
</g>
</g>
<clipPath id="c24"><rect x="387.3" y="269.2" width="63.8" height="63.6"/></clipPath>
<g clip-path="url(#c24)">
<rect x="387.3" y="269.2" width="63.8" height="63.6" fill="#020500"/>
<g filter="url(#b2)"><g transform="translate(318.00,266.00) scale(0.19853)">
<polygon points="348,15 666,15 666,335 348,335" fill="#030c02" opacity="0.9"/>
<ellipse cx="476" cy="60" rx="130" ry="40" fill="#0c2808" opacity="0.55"/>
<polyline points="348,206 446,186 526,162 606,140 666,112" fill="none" stroke="#14500e" stroke-width="18" stroke-linecap="round" stroke-linejoin="round" opacity="0.6"/>
<polyline points="406,318 666,302" fill="none" stroke="#14500e" stroke-width="12" stroke-linecap="round" stroke-linejoin="round" opacity="0.6"/>
</g></g>
<g filter="url(#b05)"><g transform="translate(318.00,266.00) scale(0.19853)">
<polyline points="508,75 509,88" fill="none" stroke="#2a9a20" stroke-width="4" stroke-linecap="round" stroke-linejoin="round" opacity="0.55"/>
<polyline points="500,166 498,181" fill="none" stroke="#2a9a20" stroke-width="4" stroke-linecap="round" stroke-linejoin="round" opacity="0.55"/>
<polyline points="562,51 560,73" fill="none" stroke="#2a9a20" stroke-width="4" stroke-linecap="round" stroke-linejoin="round" opacity="0.55"/>
<polyline points="655,82 653,105" fill="none" stroke="#2a9a20" stroke-width="4" stroke-linecap="round" stroke-linejoin="round" opacity="0.55"/>
<polyline points="456,118 457,137" fill="none" stroke="#2a9a20" stroke-width="4" stroke-linecap="round" stroke-linejoin="round" opacity="0.55"/>
<polyline points="635,165 636,187" fill="none" stroke="#2a9a20" stroke-width="4" stroke-linecap="round" stroke-linejoin="round" opacity="0.55"/>
<polyline points="598,124 598,137" fill="none" stroke="#2a9a20" stroke-width="4" stroke-linecap="round" stroke-linejoin="round" opacity="0.55"/>
<polyline points="437,161 438,172" fill="none" stroke="#2a9a20" stroke-width="4" stroke-linecap="round" stroke-linejoin="round" opacity="0.55"/>
<polyline points="634,75 635,92" fill="none" stroke="#2a9a20" stroke-width="4" stroke-linecap="round" stroke-linejoin="round" opacity="0.55"/>
<polyline points="438,67 439,83" fill="none" stroke="#2a9a20" stroke-width="4" stroke-linecap="round" stroke-linejoin="round" opacity="0.55"/>
<polyline points="546,130 548,152" fill="none" stroke="#2a9a20" stroke-width="4" stroke-linecap="round" stroke-linejoin="round" opacity="0.55"/>
<polyline points="547,166 547,188" fill="none" stroke="#2a9a20" stroke-width="4" stroke-linecap="round" stroke-linejoin="round" opacity="0.55"/>
<polyline points="605,146 602,164" fill="none" stroke="#2a9a20" stroke-width="4" stroke-linecap="round" stroke-linejoin="round" opacity="0.55"/>
<polyline points="514,52 513,69" fill="none" stroke="#2a9a20" stroke-width="4" stroke-linecap="round" stroke-linejoin="round" opacity="0.55"/>
<polyline points="358,41 359,57" fill="none" stroke="#2a9a20" stroke-width="4" stroke-linecap="round" stroke-linejoin="round" opacity="0.55"/>
<polyline points="654,151 656,172" fill="none" stroke="#2a9a20" stroke-width="4" stroke-linecap="round" stroke-linejoin="round" opacity="0.55"/>
<polyline points="424,134 422,146" fill="none" stroke="#2a9a20" stroke-width="4" stroke-linecap="round" stroke-linejoin="round" opacity="0.55"/>
<polyline points="471,72 468,89" fill="none" stroke="#2a9a20" stroke-width="4" stroke-linecap="round" stroke-linejoin="round" opacity="0.55"/>
<polyline points="651,50 649,73" fill="none" stroke="#2a9a20" stroke-width="4" stroke-linecap="round" stroke-linejoin="round" opacity="0.55"/>
<polyline points="517,100 517,122" fill="none" stroke="#2a9a20" stroke-width="4" stroke-linecap="round" stroke-linejoin="round" opacity="0.55"/>
<polyline points="499,92 499,113" fill="none" stroke="#2a9a20" stroke-width="4" stroke-linecap="round" stroke-linejoin="round" opacity="0.55"/>
<polyline points="362,98 363,108" fill="none" stroke="#2a9a20" stroke-width="4" stroke-linecap="round" stroke-linejoin="round" opacity="0.55"/>
<polyline points="453,85 454,102" fill="none" stroke="#2a9a20" stroke-width="4" stroke-linecap="round" stroke-linejoin="round" opacity="0.55"/>
<polyline points="508,79 507,102" fill="none" stroke="#2a9a20" stroke-width="4" stroke-linecap="round" stroke-linejoin="round" opacity="0.55"/>
<polyline points="390,51 388,62" fill="none" stroke="#2a9a20" stroke-width="4" stroke-linecap="round" stroke-linejoin="round" opacity="0.55"/>
<polyline points="400,80 401,104" fill="none" stroke="#2a9a20" stroke-width="4" stroke-linecap="round" stroke-linejoin="round" opacity="0.55"/>
<path d="M349 205h0M645 126h0M350 204h0M522 165h0M546 152h0M478 181h0M607 138h0M391 191h0M428 189h0M534 162h0M500 169h0M562 163h0M601 129h0M431 189h0M530 164h0M438 188h0M450 182h0M570 150h0M598 139h0M516 179h0M458 187h0M598 150h0M563 151h0M652 120h0M359 206h0M394 190h0M428 189h0M464 182h0M653 117h0M555 156h0M537 160h0M504 177h0M560 146h0M615 152h0M555 151h0M606 147h0" fill="none" stroke="#40e838" stroke-width="8" stroke-linecap="round" opacity="0.9"/>
<ellipse cx="651" cy="120" rx="18" ry="11" fill="#50f048" transform="rotate(-20 651 120)"/>
<ellipse cx="508" cy="174" rx="9" ry="12" fill="#40e838" transform="rotate(30 508 174)"/>
<ellipse cx="558" cy="152" rx="12" ry="6" fill="#40e838" transform="rotate(-25 558 152)"/>
<ellipse cx="358" cy="208" rx="12" ry="6" fill="#40e838"/>
<path d="M494 311h0M538 310h0M451 318h0M495 317h0M526 314h0M634 295h0M491 310h0M528 313h0M567 304h0M616 303h0M468 315h0M394 314h0M427 315h0M573 317h0M556 313h0M637 291h0M438 319h0M661 295h0M642 298h0M481 304h0M565 312h0M416 315h0M599 305h0M565 309h0M530 315h0M637 301h0M493 316h0M497 314h0M519 312h0M652 308h0M429 314h0M644 300h0M663 299h0M626 305h0M519 324h0M589 297h0M464 307h0M490 308h0M628 303h0M565 301h0" fill="none" stroke="#40e838" stroke-width="8" stroke-linecap="round" opacity="0.95"/>
<ellipse cx="596" cy="306" rx="26" ry="6" fill="#50f048"/>
<ellipse cx="446" cy="316" rx="16" ry="5" fill="#40e838"/>
<path d="M473 202h0M647 226h0M583 73h0M499 183h0M437 193h0M378 60h0M466 274h0M630 105h0M635 313h0M474 141h0M427 55h0M599 125h0M400 262h0M580 95h0M581 290h0M519 272h0M452 270h0M599 278h0M521 119h0M630 281h0M464 254h0M521 247h0M576 241h0M486 327h0M556 180h0M442 151h0M662 139h0M473 53h0M455 36h0M438 154h0M522 48h0M506 334h0M572 303h0M565 70h0M493 79h0M542 31h0M539 265h0M465 246h0M393 190h0M597 323h0" fill="none" stroke="#2a8a20" stroke-width="4" stroke-linecap="round" opacity="0.6"/>
</g></g>
</g>
<clipPath id="c25"><rect x="321.9" y="334.3" width="64.0" height="63.4"/></clipPath>
<g clip-path="url(#c25)">
<rect x="321.9" y="334.3" width="64.0" height="63.4" fill="#020504"/>
<g filter="url(#b1)" opacity="0.8"><g transform="translate(318.00,331.00) scale(0.19853)">
<polygon points="22,96 340,86 340,186 260,176 180,158 22,170" fill="#1212c4"/>
<polygon points="22,302 150,300 250,320 340,338 22,340" fill="#1212c4"/>
</g></g>
<g filter="url(#cell2)"><g transform="translate(318.00,331.00) scale(0.19853)">
<polygon points="22,96 340,86 340,186 260,176 180,158 22,170" fill="#2222ff"/>
<polygon points="22,302 150,300 250,320 340,338 22,340" fill="#2222ff"/>
</g></g>
<g filter="url(#b05)"><g transform="translate(318.00,331.00) scale(0.19853)">
<path d="M99 136h0M96 141h0M317 126h0M330 159h0M196 149h0M208 122h0M339 126h0M335 171h0M31 112h0M78 148h0M317 162h0M83 162h0M336 168h0M285 168h0M210 103h0M336 132h0M27 129h0M154 106h0M327 97h0M310 141h0M79 122h0M165 98h0M265 151h0M334 169h0M318 150h0M193 138h0M281 179h0M286 170h0M31 128h0M50 145h0M206 142h0M295 108h0M254 145h0M39 132h0M192 146h0M334 141h0M304 115h0M175 101h0M225 128h0M272 97h0M26 152h0M237 159h0M199 136h0M327 114h0M246 153h0M254 134h0M27 164h0M336 164h0M145 118h0M204 151h0M240 141h0M125 147h0M24 99h0M298 108h0M265 119h0M38 113h0M318 162h0M45 134h0M109 160h0M317 145h0" fill="none" stroke="#2c2cf8" stroke-width="7" stroke-linecap="round" opacity="0.7"/>
<path d="M20 89h0M167 156h0M287 168h0M251 168h0M158 85h0M247 179h0M345 117h0M70 167h0M28 115h0M305 173h0M249 175h0M87 174h0M19 139h0M81 93h0M109 168h0M154 89h0M343 143h0M43 97h0M273 93h0M122 166h0M161 93h0M90 83h0M303 183h0M331 183h0M73 96h0M348 167h0M338 127h0M19 161h0M289 172h0M42 160h0M36 100h0M149 92h0M150 149h0M260 83h0M147 164h0M177 153h0M138 151h0M345 145h0M142 159h0M42 109h0M209 86h0M88 165h0M176 94h0M212 176h0M47 100h0M161 77h0M98 94h0M230 98h0M84 161h0M341 111h0M209 82h0M322 171h0M239 84h0M33 92h0M248 75h0M336 79h0M33 94h0M184 96h0M202 99h0M235 85h0M286 77h0M57 96h0M336 178h0M17 110h0M212 84h0M54 168h0M151 163h0M191 168h0M297 182h0M157 148h0" fill="none" stroke="#2424f0" stroke-width="7" stroke-linecap="round" opacity="0.8"/>
<path d="M126 313h0M221 315h0M190 334h0M59 308h0M188 334h0M314 335h0M85 313h0M101 309h0M79 306h0M263 337h0M151 318h0M73 322h0M30 304h0M138 308h0M170 339h0M96 314h0M26 316h0M199 332h0M38 319h0M172 318h0M218 316h0M300 333h0M30 323h0M91 337h0M235 336h0M101 312h0M115 334h0M27 303h0M113 313h0M152 311h0M53 321h0M43 316h0M112 303h0M51 329h0M46 320h0M219 336h0M216 331h0M39 332h0M108 319h0M124 306h0M147 319h0M54 324h0M115 335h0M58 324h0M149 320h0M153 305h0M265 336h0M57 324h0M205 336h0M154 305h0M109 339h0M141 314h0M266 329h0M165 315h0M26 307h0M67 303h0M245 328h0M146 333h0M287 334h0M87 314h0" fill="none" stroke="#2c2cf8" stroke-width="7" stroke-linecap="round" opacity="0.7"/>
<path d="M144 306h0M275 331h0M214 312h0M307 332h0M65 344h0M300 321h0M306 329h0M319 323h0M18 315h0M320 332h0M87 301h0M55 297h0M55 333h0M103 309h0M278 338h0M146 297h0M319 336h0M293 325h0M306 318h0M162 338h0M63 295h0M50 306h0M266 323h0M267 337h0M241 318h0M151 303h0M336 348h0M149 348h0M153 349h0M215 319h0M22 320h0M26 307h0M187 340h0M149 295h0M122 298h0M287 316h0M199 338h0M256 309h0M16 306h0M258 341h0M348 341h0M64 318h0M277 342h0M323 335h0M60 304h0M256 346h0M248 323h0M199 300h0M253 336h0M293 343h0M345 337h0M213 336h0M38 304h0M319 342h0M313 344h0M20 334h0M265 320h0M43 295h0M345 339h0M333 336h0M251 323h0M138 305h0M121 351h0M195 309h0M60 337h0M29 324h0M213 326h0M64 302h0M48 303h0M48 301h0" fill="none" stroke="#2424f0" stroke-width="7" stroke-linecap="round" opacity="0.8"/>
<path d="M280 236h0M160 244h0M224 197h0M319 291h0M269 233h0M215 185h0M145 258h0M222 282h0M85 294h0M37 195h0M280 182h0M337 262h0M107 232h0M53 237h0M68 271h0M323 245h0M156 277h0M315 216h0M245 295h0M230 194h0M300 198h0M138 211h0M141 275h0M75 233h0M156 280h0M160 228h0M92 248h0M269 212h0M253 207h0M79 190h0M93 225h0M113 235h0M230 263h0M25 205h0M227 291h0M62 248h0M70 295h0M336 270h0M199 276h0M291 217h0M310 242h0M74 190h0M172 180h0M265 217h0M292 278h0M163 296h0M148 210h0M234 292h0M284 223h0M83 241h0" fill="none" stroke="#2222d0" stroke-width="6" stroke-linecap="round" opacity="0.75"/>
</g></g>
<g style="mix-blend-mode:screen">
<g filter="url(#b2)"><g transform="translate(318.00,331.00) scale(0.19853)">
<polygon points="22,15 340,15 340,335 22,335" fill="#030b02" opacity="0.9"/>
<ellipse cx="180" cy="60" rx="160" ry="45" fill="#0c2808" opacity="0.55"/>
<polyline points="22,166 120,160 180,156 260,176 340,186" fill="none" stroke="#14500e" stroke-width="16" stroke-linecap="round" stroke-linejoin="round" opacity="0.65"/>
</g></g>
<g filter="url(#b05)"><g transform="translate(318.00,331.00) scale(0.19853)">
<polyline points="327,62 326,82" fill="none" stroke="#2a9a20" stroke-width="4" stroke-linecap="round" stroke-linejoin="round" opacity="0.5"/>
<polyline points="280,74 281,83" fill="none" stroke="#2a9a20" stroke-width="4" stroke-linecap="round" stroke-linejoin="round" opacity="0.5"/>
<polyline points="211,80 210,91" fill="none" stroke="#2a9a20" stroke-width="4" stroke-linecap="round" stroke-linejoin="round" opacity="0.5"/>
<polyline points="82,35 83,47" fill="none" stroke="#2a9a20" stroke-width="4" stroke-linecap="round" stroke-linejoin="round" opacity="0.5"/>
<polyline points="200,111 198,128" fill="none" stroke="#2a9a20" stroke-width="4" stroke-linecap="round" stroke-linejoin="round" opacity="0.5"/>
<polyline points="122,112 119,131" fill="none" stroke="#2a9a20" stroke-width="4" stroke-linecap="round" stroke-linejoin="round" opacity="0.5"/>
<polyline points="192,97 192,110" fill="none" stroke="#2a9a20" stroke-width="4" stroke-linecap="round" stroke-linejoin="round" opacity="0.5"/>
<polyline points="32,41 34,55" fill="none" stroke="#2a9a20" stroke-width="4" stroke-linecap="round" stroke-linejoin="round" opacity="0.5"/>
<polyline points="107,116 109,134" fill="none" stroke="#2a9a20" stroke-width="4" stroke-linecap="round" stroke-linejoin="round" opacity="0.5"/>
<polyline points="143,60 145,72" fill="none" stroke="#2a9a20" stroke-width="4" stroke-linecap="round" stroke-linejoin="round" opacity="0.5"/>
<polyline points="240,39 238,52" fill="none" stroke="#2a9a20" stroke-width="4" stroke-linecap="round" stroke-linejoin="round" opacity="0.5"/>
<polyline points="304,53 304,62" fill="none" stroke="#2a9a20" stroke-width="4" stroke-linecap="round" stroke-linejoin="round" opacity="0.5"/>
<polyline points="211,40 211,55" fill="none" stroke="#2a9a20" stroke-width="4" stroke-linecap="round" stroke-linejoin="round" opacity="0.5"/>
<polyline points="268,105 268,125" fill="none" stroke="#2a9a20" stroke-width="4" stroke-linecap="round" stroke-linejoin="round" opacity="0.5"/>
<polyline points="153,68 155,86" fill="none" stroke="#2a9a20" stroke-width="4" stroke-linecap="round" stroke-linejoin="round" opacity="0.5"/>
<polyline points="73,63 76,83" fill="none" stroke="#2a9a20" stroke-width="4" stroke-linecap="round" stroke-linejoin="round" opacity="0.5"/>
<polyline points="150,29 152,41" fill="none" stroke="#2a9a20" stroke-width="4" stroke-linecap="round" stroke-linejoin="round" opacity="0.5"/>
<polyline points="177,107 176,126" fill="none" stroke="#2a9a20" stroke-width="4" stroke-linecap="round" stroke-linejoin="round" opacity="0.5"/>
<polyline points="129,67 127,82" fill="none" stroke="#2a9a20" stroke-width="4" stroke-linecap="round" stroke-linejoin="round" opacity="0.5"/>
<polyline points="83,128 84,137" fill="none" stroke="#2a9a20" stroke-width="4" stroke-linecap="round" stroke-linejoin="round" opacity="0.5"/>
<polyline points="36,46 38,61" fill="none" stroke="#2a9a20" stroke-width="4" stroke-linecap="round" stroke-linejoin="round" opacity="0.5"/>
<polyline points="251,84 251,99" fill="none" stroke="#2a9a20" stroke-width="4" stroke-linecap="round" stroke-linejoin="round" opacity="0.5"/>
<polyline points="252,61 253,80" fill="none" stroke="#2a9a20" stroke-width="4" stroke-linecap="round" stroke-linejoin="round" opacity="0.5"/>
<polyline points="251,60 251,73" fill="none" stroke="#2a9a20" stroke-width="4" stroke-linecap="round" stroke-linejoin="round" opacity="0.5"/>
<polyline points="179,30 176,46" fill="none" stroke="#2a9a20" stroke-width="4" stroke-linecap="round" stroke-linejoin="round" opacity="0.5"/>
<polyline points="142,68 144,79" fill="none" stroke="#2a9a20" stroke-width="4" stroke-linecap="round" stroke-linejoin="round" opacity="0.5"/>
<polyline points="161,34 159,53" fill="none" stroke="#2a9a20" stroke-width="4" stroke-linecap="round" stroke-linejoin="round" opacity="0.5"/>
<polyline points="296,83 297,97" fill="none" stroke="#2a9a20" stroke-width="4" stroke-linecap="round" stroke-linejoin="round" opacity="0.5"/>
<polyline points="188,129 185,145" fill="none" stroke="#2a9a20" stroke-width="4" stroke-linecap="round" stroke-linejoin="round" opacity="0.5"/>
<polyline points="172,99 170,111" fill="none" stroke="#2a9a20" stroke-width="4" stroke-linecap="round" stroke-linejoin="round" opacity="0.5"/>
<path d="M67 162h0M81 169h0M242 167h0M164 154h0M134 164h0M25 167h0M156 149h0M303 187h0M190 151h0M157 151h0M233 164h0M62 163h0M165 163h0M237 174h0M34 159h0M125 162h0M287 181h0M113 159h0M187 159h0M191 154h0M308 185h0M64 161h0M77 155h0M91 167h0M176 152h0M299 178h0M211 164h0M228 164h0M273 172h0M178 155h0M259 173h0M81 161h0M265 177h0M97 159h0M335 179h0M24 169h0M126 157h0M244 166h0M72 164h0M290 170h0M246 180h0M233 168h0M226 167h0M119 157h0" fill="none" stroke="#40e838" stroke-width="8" stroke-linecap="round" opacity="0.95"/>
<ellipse cx="168" cy="152" rx="12" ry="16" fill="#58f850"/>
<ellipse cx="60" cy="164" rx="30" ry="7" fill="#50f048"/>
<ellipse cx="225" cy="160" rx="12" ry="7" fill="#40e838"/>
<ellipse cx="110" cy="297" rx="18" ry="5" fill="#50f048"/>
<path d="M235 313h0M144 302h0M165 306h0M201 315h0M74 303h0M141 299h0M156 306h0M213 318h0M91 304h0M71 302h0M103 299h0M164 310h0M174 314h0M112 311h0M225 314h0M73 305h0" fill="none" stroke="#40e838" stroke-width="7" stroke-linecap="round" opacity="0.9"/>
<path d="M316 153h0M244 130h0M291 286h0M291 27h0M213 36h0M189 229h0M302 59h0M128 100h0M66 30h0M99 248h0M97 244h0M150 333h0M85 149h0M118 115h0M72 294h0M217 205h0M209 69h0M31 131h0M67 106h0M250 225h0M49 61h0M257 37h0M222 291h0M141 129h0M313 252h0M183 213h0M179 177h0M278 273h0M331 180h0M72 146h0M114 88h0M113 257h0M252 77h0M78 319h0M59 27h0M64 266h0M37 301h0M137 287h0M27 16h0M27 327h0" fill="none" stroke="#2a8a20" stroke-width="4" stroke-linecap="round" opacity="0.6"/>
</g></g>
</g>
</g>
<clipPath id="c26"><rect x="387.3" y="334.3" width="63.8" height="63.4"/></clipPath>
<g clip-path="url(#c26)">
<rect x="387.3" y="334.3" width="63.8" height="63.4" fill="#020500"/>
<g filter="url(#b2)"><g transform="translate(318.00,331.00) scale(0.19853)">
<polygon points="348,15 666,15 666,335 348,335" fill="#030b02" opacity="0.9"/>
<ellipse cx="506" cy="60" rx="160" ry="45" fill="#0c2808" opacity="0.55"/>
<polyline points="348,166 446,160 506,156 586,176 666,186" fill="none" stroke="#14500e" stroke-width="16" stroke-linecap="round" stroke-linejoin="round" opacity="0.65"/>
</g></g>
<g filter="url(#b05)"><g transform="translate(318.00,331.00) scale(0.19853)">
<polyline points="654,31 656,45" fill="none" stroke="#2a9a20" stroke-width="4" stroke-linecap="round" stroke-linejoin="round" opacity="0.5"/>
<polyline points="643,68 646,78" fill="none" stroke="#2a9a20" stroke-width="4" stroke-linecap="round" stroke-linejoin="round" opacity="0.5"/>
<polyline points="659,68 658,81" fill="none" stroke="#2a9a20" stroke-width="4" stroke-linecap="round" stroke-linejoin="round" opacity="0.5"/>
<polyline points="548,29 548,37" fill="none" stroke="#2a9a20" stroke-width="4" stroke-linecap="round" stroke-linejoin="round" opacity="0.5"/>
<polyline points="377,43 376,54" fill="none" stroke="#2a9a20" stroke-width="4" stroke-linecap="round" stroke-linejoin="round" opacity="0.5"/>
<polyline points="593,69 595,87" fill="none" stroke="#2a9a20" stroke-width="4" stroke-linecap="round" stroke-linejoin="round" opacity="0.5"/>
<polyline points="629,125 629,141" fill="none" stroke="#2a9a20" stroke-width="4" stroke-linecap="round" stroke-linejoin="round" opacity="0.5"/>
<polyline points="625,82 623,96" fill="none" stroke="#2a9a20" stroke-width="4" stroke-linecap="round" stroke-linejoin="round" opacity="0.5"/>
<polyline points="518,44 515,54" fill="none" stroke="#2a9a20" stroke-width="4" stroke-linecap="round" stroke-linejoin="round" opacity="0.5"/>
<polyline points="569,110 570,123" fill="none" stroke="#2a9a20" stroke-width="4" stroke-linecap="round" stroke-linejoin="round" opacity="0.5"/>
<polyline points="365,25 366,40" fill="none" stroke="#2a9a20" stroke-width="4" stroke-linecap="round" stroke-linejoin="round" opacity="0.5"/>
<polyline points="495,43 493,53" fill="none" stroke="#2a9a20" stroke-width="4" stroke-linecap="round" stroke-linejoin="round" opacity="0.5"/>
<polyline points="395,88 394,103" fill="none" stroke="#2a9a20" stroke-width="4" stroke-linecap="round" stroke-linejoin="round" opacity="0.5"/>
<polyline points="487,83 488,100" fill="none" stroke="#2a9a20" stroke-width="4" stroke-linecap="round" stroke-linejoin="round" opacity="0.5"/>
<polyline points="402,126 404,144" fill="none" stroke="#2a9a20" stroke-width="4" stroke-linecap="round" stroke-linejoin="round" opacity="0.5"/>
<polyline points="494,125 496,136" fill="none" stroke="#2a9a20" stroke-width="4" stroke-linecap="round" stroke-linejoin="round" opacity="0.5"/>
<polyline points="566,114 567,133" fill="none" stroke="#2a9a20" stroke-width="4" stroke-linecap="round" stroke-linejoin="round" opacity="0.5"/>
<polyline points="517,95 515,111" fill="none" stroke="#2a9a20" stroke-width="4" stroke-linecap="round" stroke-linejoin="round" opacity="0.5"/>
<polyline points="401,101 403,113" fill="none" stroke="#2a9a20" stroke-width="4" stroke-linecap="round" stroke-linejoin="round" opacity="0.5"/>
<polyline points="377,30 377,39" fill="none" stroke="#2a9a20" stroke-width="4" stroke-linecap="round" stroke-linejoin="round" opacity="0.5"/>
<polyline points="581,89 581,105" fill="none" stroke="#2a9a20" stroke-width="4" stroke-linecap="round" stroke-linejoin="round" opacity="0.5"/>
<polyline points="402,73 399,88" fill="none" stroke="#2a9a20" stroke-width="4" stroke-linecap="round" stroke-linejoin="round" opacity="0.5"/>
<polyline points="598,41 599,61" fill="none" stroke="#2a9a20" stroke-width="4" stroke-linecap="round" stroke-linejoin="round" opacity="0.5"/>
<polyline points="455,47 453,65" fill="none" stroke="#2a9a20" stroke-width="4" stroke-linecap="round" stroke-linejoin="round" opacity="0.5"/>
<polyline points="381,106 379,124" fill="none" stroke="#2a9a20" stroke-width="4" stroke-linecap="round" stroke-linejoin="round" opacity="0.5"/>
<polyline points="627,114 625,129" fill="none" stroke="#2a9a20" stroke-width="4" stroke-linecap="round" stroke-linejoin="round" opacity="0.5"/>
<polyline points="453,117 451,127" fill="none" stroke="#2a9a20" stroke-width="4" stroke-linecap="round" stroke-linejoin="round" opacity="0.5"/>
<polyline points="480,34 478,50" fill="none" stroke="#2a9a20" stroke-width="4" stroke-linecap="round" stroke-linejoin="round" opacity="0.5"/>
<polyline points="456,44 458,56" fill="none" stroke="#2a9a20" stroke-width="4" stroke-linecap="round" stroke-linejoin="round" opacity="0.5"/>
<polyline points="599,97 599,113" fill="none" stroke="#2a9a20" stroke-width="4" stroke-linecap="round" stroke-linejoin="round" opacity="0.5"/>
<path d="M538 156h0M431 156h0M645 187h0M663 188h0M633 181h0M594 183h0M606 182h0M384 166h0M570 170h0M519 150h0M426 159h0M526 158h0M656 185h0M533 162h0M428 153h0M358 171h0M490 168h0M458 162h0M473 151h0M364 166h0M512 149h0M602 176h0M659 189h0M501 155h0M528 155h0M553 175h0M509 153h0M599 175h0M641 184h0M449 165h0M635 184h0M506 164h0M486 158h0M445 157h0M402 160h0M646 183h0M411 166h0M465 157h0M539 161h0M656 184h0M534 163h0M658 190h0M649 179h0M519 164h0" fill="none" stroke="#40e838" stroke-width="8" stroke-linecap="round" opacity="0.95"/>
<ellipse cx="494" cy="152" rx="12" ry="16" fill="#58f850"/>
<ellipse cx="386" cy="164" rx="30" ry="7" fill="#50f048"/>
<ellipse cx="551" cy="160" rx="12" ry="7" fill="#40e838"/>
<ellipse cx="436" cy="297" rx="18" ry="5" fill="#50f048"/>
<path d="M500 314h0M549 318h0M500 303h0M505 309h0M489 309h0M415 310h0M544 316h0M506 306h0M438 292h0M385 302h0M511 311h0M400 303h0M464 311h0M461 312h0M432 305h0M522 310h0" fill="none" stroke="#40e838" stroke-width="7" stroke-linecap="round" opacity="0.9"/>
<path d="M348 255h0M515 220h0M358 20h0M353 53h0M384 242h0M591 146h0M417 155h0M385 94h0M490 302h0M579 51h0M602 328h0M630 69h0M534 318h0M429 199h0M548 322h0M611 165h0M536 80h0M609 93h0M559 60h0M579 273h0M383 145h0M399 183h0M423 314h0M613 35h0M426 100h0M392 192h0M577 172h0M510 69h0M493 285h0M373 87h0M514 175h0M410 256h0M661 170h0M662 315h0M587 110h0M526 316h0M618 167h0M426 97h0M473 269h0M479 180h0" fill="none" stroke="#2a8a20" stroke-width="4" stroke-linecap="round" opacity="0.6"/>
</g></g>
</g>
<line x1="443.8" y1="394.7" x2="450" y2="394.7" stroke="#fff" stroke-width="1.5"/>
<text x="10.4" y="278.0" font-size="8.2"><tspan fill="#ea3208" stroke="#ea3208" stroke-width="0.3">Ki67 </tspan><tspan fill="#1a1acc" stroke="#1a1acc" stroke-width="0.3">DAPI</tspan></text>
<text x="165.8" y="278.0" font-size="8.2"><tspan fill="#ea3208" stroke="#ea3208" stroke-width="0.3">Sox2 </tspan><tspan fill="#1a1acc" stroke="#1a1acc" stroke-width="0.3">DAPI</tspan></text>
<text x="323.7" y="278.0" font-size="8.2"><tspan fill="#25b514" stroke="#25b514" stroke-width="0.3">Dcx </tspan><tspan fill="#1a1acc" stroke="#1a1acc" stroke-width="0.3">DAPI</tspan></text>
<rect x="8.6" y="462.2" width="128.7" height="128.3" fill="#e2e2e2"/>
<rect x="8.6" y="525.4" width="128.7" height="2.2" fill="#dcdcdc"/>
<rect x="164" y="462.2" width="129.05" height="128.3" fill="#e2e2e2"/>
<rect x="164" y="525.4" width="129.05" height="2.2" fill="#dcdcdc"/>
<rect x="321.9" y="462.2" width="129.2" height="128.3" fill="#e2e2e2"/>
<rect x="321.9" y="525.4" width="129.2" height="2.2" fill="#dcdcdc"/>
<text x="8.0" y="497" font-size="10.5" text-anchor="middle" fill="#1a1a1a" transform="rotate(-90 8.0 497)">WT</text>
<text x="8.0" y="560.2" font-size="10.5" text-anchor="middle" fill="#1a1a1a" transform="rotate(-90 8.0 560.2)">iKO</text>
<text x="163.4" y="497" font-size="10.5" text-anchor="middle" fill="#1a1a1a" transform="rotate(-90 163.4 497)">WT</text>
<text x="163.4" y="560.2" font-size="10.5" text-anchor="middle" fill="#1a1a1a" transform="rotate(-90 163.4 560.2)">iKO</text>
<text x="321.3" y="497" font-size="10.5" text-anchor="middle" fill="#1a1a1a" transform="rotate(-90 321.3 497)">WT</text>
<text x="321.3" y="560.2" font-size="10.5" text-anchor="middle" fill="#1a1a1a" transform="rotate(-90 321.3 560.2)">iKO</text>
<clipPath id="c27"><rect x="8.6" y="462.2" width="63.45" height="63.6"/></clipPath>
<g clip-path="url(#c27)">
<rect x="8.6" y="462.2" width="63.45" height="63.6" fill="#04041c"/>
<g filter="url(#b2)" opacity="0.95"><g transform="translate(5.00,458.00) scale(0.19853)">
<polygon points="20,128 120,122 200,130 340,135 340,345 20,345" fill="#080882"/>
</g></g>
<g filter="url(#cellb)" opacity="0.88"><g transform="translate(5.00,458.00) scale(0.19853)">
<polygon points="20,128 120,122 200,130 340,135 340,345 20,345" fill="#1818e6"/>
</g></g>
<g filter="url(#b1)"><g transform="translate(5.00,458.00) scale(0.19853)">
<path d="M178 246h0M279 193h0M123 277h0M176 202h0M150 196h0M74 263h0M306 276h0M223 197h0M159 154h0M253 188h0M113 341h0M129 340h0M218 292h0M221 162h0M248 180h0M150 151h0M39 204h0M25 208h0M292 345h0M155 146h0M131 136h0M90 261h0M176 216h0M147 152h0M146 145h0M240 267h0M221 213h0M326 204h0M85 205h0M312 157h0M264 331h0M293 226h0M164 316h0M247 302h0M77 258h0M256 175h0M86 310h0M202 213h0M175 179h0M99 146h0M149 155h0M307 335h0M209 142h0M212 157h0M139 151h0M179 139h0M110 174h0M169 329h0M205 296h0M252 240h0M42 135h0M63 237h0M129 330h0M84 151h0M225 257h0M37 199h0M162 305h0M269 317h0M191 331h0M171 186h0M65 308h0M228 259h0M333 263h0M119 277h0M316 162h0M322 215h0M56 235h0M270 232h0M106 293h0M53 272h0M136 259h0M182 184h0M86 305h0M166 185h0M210 293h0M48 224h0M69 293h0M35 308h0M199 237h0M192 184h0" fill="none" stroke="#1818e6" stroke-width="15" stroke-linecap="round" opacity="0.4"/>
</g></g>
<g filter="url(#b05)"><g transform="translate(5.00,458.00) scale(0.19853)">
<ellipse cx="198" cy="115" rx="12" ry="8" fill="#ffb0c0"/>
<ellipse cx="192" cy="114" rx="6" ry="6" fill="#ff7090"/>
<ellipse cx="250" cy="116" rx="10" ry="10" fill="#f060a0"/>
<ellipse cx="268" cy="122" rx="9" ry="11" fill="#ffd0e0"/>
<ellipse cx="288" cy="121" rx="8" ry="9" fill="#f05090"/>
</g></g>
</g>
<clipPath id="c28"><rect x="74.1" y="462.2" width="63.2" height="63.6"/></clipPath>
<g clip-path="url(#c28)">
<rect x="74.1" y="462.2" width="63.2" height="63.6" fill="#020100"/>
<g filter="url(#b05)"><g transform="translate(5.00,458.00) scale(0.19853)">
<ellipse cx="525" cy="115" rx="12" ry="8" fill="#ffb010"/>
<ellipse cx="520" cy="114" rx="6" ry="5" fill="#ffe040"/>
<ellipse cx="572" cy="118" rx="9" ry="9" fill="#e07010"/>
<ellipse cx="598" cy="123" rx="10" ry="11" fill="#ffc818"/>
<ellipse cx="616" cy="126" rx="8" ry="9" fill="#f07010"/>
</g></g>
<g filter="url(#b03)"><g transform="translate(5.00,458.00) scale(0.19853)">
<polyline points="566,70 545,95" fill="none" stroke="#fff" stroke-width="5" stroke-linecap="round" stroke-linejoin="round"/>
<polygon points="540,101 556,95 544,84" fill="#fff"/>
<polyline points="648,70 627,95" fill="none" stroke="#fff" stroke-width="5" stroke-linecap="round" stroke-linejoin="round"/>
<polygon points="622,101 638,95 626,84" fill="#fff"/>
</g></g>
</g>
<clipPath id="c29"><rect x="8.6" y="527.2" width="63.45" height="63.3"/></clipPath>
<g clip-path="url(#c29)">
<rect x="8.6" y="527.2" width="63.45" height="63.3" fill="#03031a"/>
<g filter="url(#b2)" opacity="0.95"><g transform="translate(5.00,524.00) scale(0.19853)">
<polygon points="20,140 100,132 200,150 340,168 340,340 20,340" fill="#080882"/>
</g></g>
<g filter="url(#cellb)" opacity="0.88"><g transform="translate(5.00,524.00) scale(0.19853)">
<polygon points="20,140 100,132 200,150 340,168 340,340 20,340" fill="#1818e6"/>
</g></g>
<g filter="url(#b1)"><g transform="translate(5.00,524.00) scale(0.19853)">
<path d="M317 168h0M331 182h0M169 319h0M134 238h0M72 332h0M335 168h0M59 230h0M186 293h0M130 255h0M71 176h0M45 246h0M200 260h0M319 196h0M130 228h0M323 196h0M113 221h0M241 190h0M75 284h0M204 252h0M24 184h0M53 208h0M310 338h0M291 209h0M201 319h0M130 215h0M248 203h0M172 207h0M283 240h0M226 156h0M234 178h0M190 203h0M229 160h0M151 269h0M103 338h0M337 333h0M318 328h0M203 306h0M150 146h0M316 323h0M103 210h0M95 280h0M74 301h0M32 216h0M270 233h0M64 138h0M110 257h0M119 140h0M274 282h0M216 153h0M175 333h0M184 185h0M320 204h0M187 166h0M296 274h0M190 235h0M129 228h0M248 289h0M29 160h0M248 204h0M65 277h0M334 206h0M209 246h0M198 256h0M312 311h0M304 275h0M264 289h0M257 275h0M74 267h0M155 180h0M227 174h0M262 198h0M313 198h0M329 200h0M270 160h0M181 206h0M296 280h0M203 156h0M187 182h0M52 278h0M195 340h0" fill="none" stroke="#1818e6" stroke-width="15" stroke-linecap="round" opacity="0.4"/>
</g></g>
<g filter="url(#b05)"><g transform="translate(5.00,524.00) scale(0.19853)">
<path d="M290 25h0M322 78h0M337 54h0M170 96h0M102 65h0M128 57h0M193 75h0M303 47h0" fill="none" stroke="#1c1ca0" stroke-width="10" stroke-linecap="round" opacity="0.5"/>
<ellipse cx="101" cy="42" rx="6" ry="8" fill="#30e040"/>
<ellipse cx="108" cy="52" rx="8" ry="7" fill="#f070a0"/>
<ellipse cx="308" cy="250" rx="3" ry="3" fill="#e03020"/>
</g></g>
</g>
<clipPath id="c30"><rect x="74.1" y="527.2" width="63.2" height="63.3"/></clipPath>
<g clip-path="url(#c30)">
<rect x="74.1" y="527.2" width="63.2" height="63.3" fill="#020100"/>
<g filter="url(#b05)"><g transform="translate(5.00,524.00) scale(0.19853)">
<ellipse cx="429" cy="43" rx="7" ry="9" fill="#30d830"/>
<ellipse cx="436" cy="56" rx="9" ry="8" fill="#ff9018"/>
<ellipse cx="432" cy="50" rx="5" ry="5" fill="#e0e030"/>
<ellipse cx="636" cy="250" rx="3" ry="4" fill="#f03018"/>
</g></g>
</g>
<line x1="126.1" y1="587.6" x2="135.6" y2="587.6" stroke="#fff" stroke-width="1.5"/>
<clipPath id="c31"><rect x="164" y="462.2" width="63.9" height="63.6"/></clipPath>
<g clip-path="url(#c31)">
<rect x="164" y="462.2" width="63.9" height="63.6" fill="#06031a"/>
<g filter="url(#b2)" opacity="0.95"><g transform="translate(160.00,458.00) scale(0.19853)">
<polygon points="22,142 340,138 340,345 22,345" fill="#06066a"/>
</g></g>
<g filter="url(#cellb)" opacity="0.88"><g transform="translate(160.00,458.00) scale(0.19853)">
<polygon points="22,142 340,138 340,345 22,345" fill="#1010b8"/>
</g></g>
<g filter="url(#b1)"><g transform="translate(160.00,458.00) scale(0.19853)">
<path d="M164 199h0M311 238h0M50 293h0M46 180h0M46 268h0M290 265h0M93 313h0M299 206h0M109 277h0M331 327h0M301 286h0M94 265h0M158 270h0M177 181h0M308 145h0M131 206h0M329 162h0M206 333h0M216 330h0M147 229h0M140 214h0M133 153h0M335 290h0M238 248h0M86 185h0M330 309h0M167 292h0M327 147h0M138 221h0M130 250h0M116 163h0M298 226h0M277 165h0M120 240h0M34 224h0M79 220h0M115 299h0M183 190h0M209 237h0M93 299h0M207 141h0M194 220h0M49 339h0M219 344h0M174 229h0M72 275h0M176 175h0M289 260h0M49 341h0M155 329h0M153 149h0M197 222h0M270 241h0M140 223h0M175 289h0M277 220h0M213 187h0M293 226h0M327 154h0M288 162h0M100 223h0M111 231h0M183 266h0M32 264h0M143 267h0M118 307h0M90 156h0M252 270h0M81 209h0M154 180h0" fill="none" stroke="#1010b8" stroke-width="15" stroke-linecap="round" opacity="0.4"/>
</g></g>
<g filter="url(#b05)"><g transform="translate(160.00,458.00) scale(0.19853)">
<ellipse cx="118" cy="133" rx="10" ry="6" fill="#a0f0a0"/>
<ellipse cx="112" cy="133" rx="5" ry="4" fill="#ffffff"/>
<ellipse cx="180" cy="133" rx="10" ry="5" fill="#50e070"/>
<ellipse cx="172" cy="121" rx="8" ry="4" fill="#f04040"/>
<ellipse cx="220" cy="132" rx="9" ry="7" fill="#fff0b0"/>
<ellipse cx="198" cy="102" rx="9" ry="5" fill="#f04060"/>
<ellipse cx="322" cy="45" rx="5" ry="8" fill="#e040a0"/>
<ellipse cx="180" cy="262" rx="6" ry="13" fill="#ff4080"/>
<ellipse cx="38" cy="130" rx="5" ry="3" fill="#d03040"/>
<ellipse cx="326" cy="100" rx="4" ry="5" fill="#d03060"/>
</g></g>
</g>
<clipPath id="c32"><rect x="229.4" y="462.2" width="63.65" height="63.6"/></clipPath>
<g clip-path="url(#c32)">
<rect x="229.4" y="462.2" width="63.65" height="63.6" fill="#030000"/>
<g filter="url(#b4)"><g transform="translate(160.00,458.00) scale(0.19853)">
<ellipse cx="508" cy="270" rx="200" ry="110" fill="#100200" opacity="0.8"/>
</g></g>
<g filter="url(#b05)"><g transform="translate(160.00,458.00) scale(0.19853)">
<ellipse cx="448" cy="133" rx="10" ry="6" fill="#a0e020"/>
<ellipse cx="442" cy="134" rx="5" ry="4" fill="#ffe040"/>
<ellipse cx="505" cy="133" rx="10" ry="5" fill="#50d828"/>
<ellipse cx="497" cy="121" rx="8" ry="4" fill="#f03018"/>
<ellipse cx="548" cy="132" rx="9" ry="7" fill="#ffc818"/>
<ellipse cx="525" cy="102" rx="9" ry="5" fill="#f03018"/>
<ellipse cx="648" cy="45" rx="5" ry="8" fill="#e82818"/>
<ellipse cx="506" cy="262" rx="6" ry="13" fill="#ff3018"/>
<ellipse cx="365" cy="130" rx="5" ry="3" fill="#c02810"/>
<ellipse cx="652" cy="100" rx="4" ry="5" fill="#c02810"/>
</g></g>
<g filter="url(#b03)"><g transform="translate(160.00,458.00) scale(0.19853)">
<polyline points="482,92 463,117" fill="none" stroke="#fff" stroke-width="5" stroke-linecap="round" stroke-linejoin="round"/>
<polygon points="458,123 474,116 461,106" fill="#fff"/>
<polyline points="585,88 565,113" fill="none" stroke="#fff" stroke-width="5" stroke-linecap="round" stroke-linejoin="round"/>
<polygon points="560,119 576,112 563,102" fill="#fff"/>
</g></g>
</g>
<clipPath id="c33"><rect x="164" y="527.2" width="63.9" height="63.3"/></clipPath>
<g clip-path="url(#c33)">
<rect x="164" y="527.2" width="63.9" height="63.3" fill="#04031c"/>
<g filter="url(#b2)" opacity="0.95"><g transform="translate(160.00,524.00) scale(0.19853)">
<polygon points="22,235 120,225 200,232 340,210 340,340 22,340" fill="#080882"/>
</g></g>
<g filter="url(#cellb)" opacity="0.88"><g transform="translate(160.00,524.00) scale(0.19853)">
<polygon points="22,235 120,225 200,232 340,210 340,340 22,340" fill="#1818e6"/>
</g></g>
<g filter="url(#b1)"><g transform="translate(160.00,524.00) scale(0.19853)">
<path d="M173 292h0M150 330h0M27 338h0M246 315h0M277 236h0M283 295h0M69 322h0M162 304h0M49 298h0M209 239h0M85 316h0M267 262h0M90 307h0M197 257h0M120 257h0M177 233h0M23 271h0M111 297h0M278 249h0M295 325h0M117 293h0M203 241h0M328 295h0M324 229h0M104 330h0M118 258h0M109 317h0M117 227h0M57 329h0M128 283h0M287 336h0M172 298h0M123 277h0M34 307h0M192 297h0M290 317h0M334 305h0M57 253h0M146 260h0M65 264h0M238 331h0M232 290h0M77 338h0M266 300h0M174 283h0M48 249h0M30 339h0M137 295h0M262 271h0M333 338h0M271 277h0M29 304h0M214 337h0M212 263h0M256 318h0M133 283h0M94 229h0M283 221h0M87 265h0M313 247h0M121 308h0M172 329h0M185 246h0M307 290h0M167 318h0M127 237h0M88 244h0M275 316h0M210 253h0M224 231h0" fill="none" stroke="#1818e6" stroke-width="15" stroke-linecap="round" opacity="0.4"/>
</g></g>
<g filter="url(#b05)"><g transform="translate(160.00,524.00) scale(0.19853)">
<ellipse cx="285" cy="38" rx="8" ry="8" fill="#2038f0"/>
<ellipse cx="148" cy="195" rx="7" ry="8" fill="#2040f0"/>
<path d="M230 167h0M114 210h0M111 214h0M334 197h0M156 178h0M318 90h0M266 88h0M102 194h0" fill="none" stroke="#1c1cb0" stroke-width="9" stroke-linecap="round" opacity="0.6"/>
<ellipse cx="245" cy="83" rx="13" ry="8" fill="#fff0a0"/>
<ellipse cx="250" cy="80" rx="6" ry="4" fill="#ffffff"/>
<ellipse cx="40" cy="98" rx="11" ry="4" fill="#f04078"/>
<ellipse cx="65" cy="135" rx="9" ry="7" fill="#f040b0"/>
<ellipse cx="325" cy="125" rx="5" ry="9" fill="#e030b0"/>
<ellipse cx="300" cy="172" rx="5" ry="8" fill="#e030b0"/>
<ellipse cx="152" cy="228" rx="4" ry="7" fill="#e030b0"/>
<ellipse cx="120" cy="190" rx="4" ry="4" fill="#c030a0"/>
</g></g>
</g>
<clipPath id="c34"><rect x="229.4" y="527.2" width="63.65" height="63.3"/></clipPath>
<g clip-path="url(#c34)">
<rect x="229.4" y="527.2" width="63.65" height="63.3" fill="#020000"/>
<g filter="url(#b05)"><g transform="translate(160.00,524.00) scale(0.19853)">
<ellipse cx="575" cy="88" rx="13" ry="9" fill="#f0d018"/>
<ellipse cx="580" cy="84" rx="7" ry="5" fill="#a0e020"/>
<ellipse cx="568" cy="92" rx="6" ry="5" fill="#ff9018"/>
<ellipse cx="370" cy="100" rx="10" ry="4" fill="#e82818"/>
<ellipse cx="392" cy="136" rx="10" ry="7" fill="#f03018"/>
<ellipse cx="655" cy="127" rx="5" ry="9" fill="#e82818"/>
<ellipse cx="630" cy="177" rx="5" ry="8" fill="#e82818"/>
<ellipse cx="480" cy="228" rx="4" ry="8" fill="#e82818"/>
<ellipse cx="448" cy="195" rx="4" ry="5" fill="#902010"/>
</g></g>
</g>
<line x1="282.1" y1="587.6" x2="291" y2="587.6" stroke="#fff" stroke-width="1.5"/>
<clipPath id="c35"><rect x="321.9" y="462.2" width="64.0" height="63.6"/></clipPath>
<g clip-path="url(#c35)">
<rect x="321.9" y="462.2" width="64.0" height="63.6" fill="#05041a"/>
<g filter="url(#b2)" opacity="0.95"><g transform="translate(318.00,458.00) scale(0.19853)">
<polygon points="22,20 340,20 340,238 250,232 150,236 22,242" fill="#0a0a98"/>
</g></g>
<g filter="url(#cellb)" opacity="0.88"><g transform="translate(318.00,458.00) scale(0.19853)">
<polygon points="22,20 340,20 340,238 250,232 150,236 22,242" fill="#1a1af0"/>
</g></g>
<g filter="url(#b1)"><g transform="translate(318.00,458.00) scale(0.19853)">
<path d="M154 84h0M291 119h0M190 142h0M130 162h0M308 36h0M200 79h0M231 158h0M37 45h0M190 211h0M276 203h0M66 98h0M205 101h0M95 225h0M224 108h0M173 175h0M263 193h0M128 235h0M265 80h0M77 115h0M105 215h0M25 202h0M73 200h0M160 49h0M335 113h0M333 92h0M98 143h0M84 148h0M247 162h0M24 168h0M107 121h0M295 212h0M64 40h0M262 116h0M247 164h0M337 211h0M338 220h0M203 110h0M74 206h0M178 128h0M115 93h0M182 163h0M121 53h0M211 230h0M79 197h0M193 27h0M78 180h0M282 49h0M239 217h0M98 204h0M71 51h0M275 217h0M244 131h0M231 145h0M215 226h0M173 80h0M92 137h0M264 106h0M106 56h0M251 22h0M136 56h0M252 184h0M240 41h0M107 81h0M311 228h0M270 148h0M155 151h0M197 103h0M87 33h0M105 55h0M253 199h0M73 216h0M266 101h0M257 128h0M230 186h0M315 148h0M91 164h0M232 131h0M326 189h0M178 166h0M79 31h0M101 156h0M329 188h0M227 41h0M286 31h0M86 145h0M274 33h0M265 163h0M231 147h0M330 207h0M33 223h0" fill="none" stroke="#1a1af0" stroke-width="15" stroke-linecap="round" opacity="0.4"/>
</g></g>
<g filter="url(#b2)"><g transform="translate(318.00,458.00) scale(0.19853)">
<ellipse cx="180" cy="262" rx="170" ry="30" fill="#70102a" opacity="0.55"/>
<ellipse cx="230" cy="250" rx="90" ry="26" fill="#70102a" opacity="0.45"/>
</g></g>
<g filter="url(#b1)"><g transform="translate(318.00,458.00) scale(0.19853)">
<ellipse cx="130" cy="242" rx="12" ry="10" fill="#d83880" opacity="0.9"/>
<ellipse cx="192" cy="246" rx="12" ry="11" fill="#d83880" opacity="0.9"/>
<ellipse cx="200" cy="272" rx="12" ry="10" fill="#d83880" opacity="0.9"/>
<ellipse cx="262" cy="256" rx="13" ry="10" fill="#d83880" opacity="0.9"/>
<ellipse cx="120" cy="296" rx="14" ry="8" fill="#d83880" opacity="0.9"/>
<ellipse cx="60" cy="262" rx="11" ry="8" fill="#d83880" opacity="0.9"/>
<ellipse cx="300" cy="262" rx="12" ry="8" fill="#d83880" opacity="0.9"/>
<ellipse cx="30" cy="332" rx="10" ry="8" fill="#d83880" opacity="0.9"/>
<ellipse cx="232" cy="268" rx="10" ry="8" fill="#d83880" opacity="0.9"/>
<ellipse cx="165" cy="262" rx="9" ry="8" fill="#d83880" opacity="0.9"/>
<ellipse cx="280" cy="240" rx="8" ry="7" fill="#d83880" opacity="0.9"/>
<ellipse cx="325" cy="270" rx="8" ry="6" fill="#d83880" opacity="0.9"/>
<ellipse cx="90" cy="250" rx="8" ry="7" fill="#d83880" opacity="0.9"/>
<ellipse cx="215" cy="290" rx="10" ry="7" fill="#d83880" opacity="0.9"/>
</g></g>
<g filter="url(#b05)"><g transform="translate(318.00,458.00) scale(0.19853)">
<polyline points="100,300 150,288 190,280" fill="none" stroke="#d83880" stroke-width="8" stroke-linecap="round" stroke-linejoin="round"/>
<polyline points="22,330 60,300" fill="none" stroke="#d83880" stroke-width="6" stroke-linecap="round" stroke-linejoin="round" opacity="0.8"/>
<ellipse cx="130" cy="240" rx="7" ry="6" fill="#f04890"/>
<ellipse cx="190" cy="246" rx="7" ry="6" fill="#f04890"/>
<ellipse cx="200" cy="271" rx="7" ry="6" fill="#f04890"/>
<ellipse cx="262" cy="256" rx="8" ry="6" fill="#f04890"/>
<ellipse cx="120" cy="296" rx="8" ry="5" fill="#f04890"/>
<ellipse cx="60" cy="262" rx="6" ry="5" fill="#f04890"/>
<ellipse cx="300" cy="262" rx="7" ry="5" fill="#f04890"/>
<ellipse cx="232" cy="268" rx="5" ry="5" fill="#f04890"/>
<ellipse cx="246" cy="226" rx="8" ry="9" fill="none" stroke="#f04890" stroke-width="4"/>
<ellipse cx="104" cy="268" rx="14" ry="6" fill="#38d8b0" transform="rotate(-20 104 268)"/>
<ellipse cx="152" cy="286" rx="15" ry="5" fill="#38d8b0" transform="rotate(-12 152 286)"/>
</g></g>
</g>
<clipPath id="c36"><rect x="387.3" y="462.2" width="63.8" height="63.6"/></clipPath>
<g clip-path="url(#c36)">
<rect x="387.3" y="462.2" width="63.8" height="63.6" fill="#040000"/>
<g filter="url(#b4)"><g transform="translate(318.00,458.00) scale(0.19853)">
<ellipse cx="508" cy="250" rx="220" ry="130" fill="#220400" opacity="0.8"/>
</g></g>
<g filter="url(#b2)"><g transform="translate(318.00,458.00) scale(0.19853)">
<ellipse cx="506" cy="262" rx="170" ry="30" fill="#701008" opacity="0.7"/>
<ellipse cx="556" cy="250" rx="90" ry="26" fill="#701008" opacity="0.55"/>
</g></g>
<g filter="url(#b1)"><g transform="translate(318.00,458.00) scale(0.19853)">
<ellipse cx="456" cy="242" rx="12" ry="10" fill="#d82818" opacity="0.9"/>
<ellipse cx="518" cy="246" rx="12" ry="11" fill="#d82818" opacity="0.9"/>
<ellipse cx="526" cy="272" rx="12" ry="10" fill="#d82818" opacity="0.9"/>
<ellipse cx="588" cy="256" rx="13" ry="10" fill="#d82818" opacity="0.9"/>
<ellipse cx="446" cy="296" rx="14" ry="8" fill="#d82818" opacity="0.9"/>
<ellipse cx="386" cy="262" rx="11" ry="8" fill="#d82818" opacity="0.9"/>
<ellipse cx="626" cy="262" rx="12" ry="8" fill="#d82818" opacity="0.9"/>
<ellipse cx="356" cy="332" rx="10" ry="8" fill="#d82818" opacity="0.9"/>
<ellipse cx="558" cy="268" rx="10" ry="8" fill="#d82818" opacity="0.9"/>
<ellipse cx="491" cy="262" rx="9" ry="8" fill="#d82818" opacity="0.9"/>
<ellipse cx="606" cy="240" rx="8" ry="7" fill="#d82818" opacity="0.9"/>
<ellipse cx="651" cy="270" rx="8" ry="6" fill="#d82818" opacity="0.9"/>
<ellipse cx="416" cy="250" rx="8" ry="7" fill="#d82818" opacity="0.9"/>
<ellipse cx="541" cy="290" rx="10" ry="7" fill="#d82818" opacity="0.9"/>
</g></g>
<g filter="url(#b05)"><g transform="translate(318.00,458.00) scale(0.19853)">
<polyline points="426,300 476,288 516,280" fill="none" stroke="#d82818" stroke-width="8" stroke-linecap="round" stroke-linejoin="round"/>
<polyline points="348,330 386,300" fill="none" stroke="#d82818" stroke-width="6" stroke-linecap="round" stroke-linejoin="round" opacity="0.8"/>
<ellipse cx="456" cy="240" rx="7" ry="6" fill="#f03020"/>
<ellipse cx="516" cy="246" rx="7" ry="6" fill="#f03020"/>
<ellipse cx="526" cy="271" rx="7" ry="6" fill="#f03020"/>
<ellipse cx="588" cy="256" rx="8" ry="6" fill="#f03020"/>
<ellipse cx="446" cy="296" rx="8" ry="5" fill="#f03020"/>
<ellipse cx="386" cy="262" rx="6" ry="5" fill="#f03020"/>
<ellipse cx="626" cy="262" rx="7" ry="5" fill="#f03020"/>
<ellipse cx="558" cy="268" rx="5" ry="5" fill="#f03020"/>
<ellipse cx="572" cy="226" rx="8" ry="9" fill="none" stroke="#f03020" stroke-width="4"/>
<ellipse cx="430" cy="268" rx="14" ry="6" fill="#30d830" transform="rotate(-20 430 268)"/>
<ellipse cx="478" cy="286" rx="15" ry="5" fill="#30d830" transform="rotate(-12 478 286)"/>
<polyline points="476,120 486,220" fill="none" stroke="#701008" stroke-width="2" stroke-linecap="round" stroke-linejoin="round" opacity="0.7"/>
<polyline points="626,90 616,200" fill="none" stroke="#701008" stroke-width="2" stroke-linecap="round" stroke-linejoin="round" opacity="0.7"/>
<polyline points="406,150 421,230" fill="none" stroke="#701008" stroke-width="2" stroke-linecap="round" stroke-linejoin="round" opacity="0.7"/>
<polyline points="556,110 562,200" fill="none" stroke="#701008" stroke-width="2" stroke-linecap="round" stroke-linejoin="round" opacity="0.7"/>
</g></g>
<g filter="url(#b03)"><g transform="translate(318.00,458.00) scale(0.19853)">
<polyline points="458,212 438,238" fill="none" stroke="#fff" stroke-width="5" stroke-linecap="round" stroke-linejoin="round"/>
<polygon points="433,244 449,237 436,227" fill="#fff"/>
<polyline points="512,238 492,264" fill="none" stroke="#fff" stroke-width="5" stroke-linecap="round" stroke-linejoin="round"/>
<polygon points="487,270 503,263 490,253" fill="#fff"/>
</g></g>
</g>
<clipPath id="c37"><rect x="321.9" y="527.2" width="64.0" height="63.3"/></clipPath>
<g clip-path="url(#c37)">
<rect x="321.9" y="527.2" width="64.0" height="63.3" fill="#05041a"/>
<g filter="url(#b2)" opacity="0.95"><g transform="translate(318.00,524.00) scale(0.19853)">
<polygon points="22,15 340,15 340,292 22,296" fill="#080888"/>
</g></g>
<g filter="url(#cellb)" opacity="0.88"><g transform="translate(318.00,524.00) scale(0.19853)">
<polygon points="22,15 340,15 340,292 22,296" fill="#1616d8"/>
</g></g>
<g filter="url(#b1)"><g transform="translate(318.00,524.00) scale(0.19853)">
<path d="M45 137h0M100 140h0M103 257h0M200 224h0M317 154h0M171 51h0M271 35h0M138 62h0M254 144h0M183 163h0M290 290h0M140 262h0M248 211h0M333 73h0M123 151h0M119 97h0M85 274h0M331 261h0M274 129h0M121 128h0M27 48h0M173 132h0M230 173h0M54 253h0M157 149h0M140 118h0M314 286h0M80 273h0M280 246h0M112 267h0M207 144h0M33 160h0M78 96h0M297 111h0M281 118h0M58 127h0M75 58h0M236 211h0M80 220h0M192 43h0M54 212h0M312 247h0M213 34h0M258 33h0M270 40h0M331 150h0M91 43h0M106 213h0M108 37h0M261 62h0M76 75h0M68 84h0M45 19h0M60 125h0M315 250h0M197 61h0M318 90h0M188 173h0M155 79h0M308 45h0M130 209h0M111 21h0M48 219h0M188 117h0M290 197h0M85 73h0M305 129h0M198 117h0M321 186h0M284 129h0M239 36h0M61 99h0M114 283h0M94 171h0M299 166h0M307 214h0M261 55h0M119 259h0M143 229h0M224 291h0M195 285h0M285 213h0M327 205h0M165 245h0M247 173h0M258 166h0M306 164h0M308 141h0M280 25h0M323 53h0M150 91h0M281 205h0M158 38h0M174 259h0M297 105h0M335 96h0M323 46h0M34 187h0M122 187h0M180 71h0M310 21h0M117 175h0M219 106h0M110 66h0M284 125h0M88 263h0M271 262h0M199 293h0M152 268h0M328 183h0" fill="none" stroke="#1616d8" stroke-width="15" stroke-linecap="round" opacity="0.4"/>
</g></g>
<g filter="url(#b2)"><g transform="translate(318.00,524.00) scale(0.19853)">
<ellipse cx="70" cy="285" rx="50" ry="18" fill="#50102a" opacity="0.8"/>
<ellipse cx="300" cy="292" rx="40" ry="16" fill="#50102a" opacity="0.8"/>
<ellipse cx="180" cy="280" rx="40" ry="14" fill="#50102a" opacity="0.6"/>
</g></g>
<g filter="url(#b05)"><g transform="translate(318.00,524.00) scale(0.19853)">
<ellipse cx="58" cy="272" rx="9" ry="6" fill="#f04080"/>
<ellipse cx="75" cy="290" rx="7" ry="8" fill="#f04080"/>
<ellipse cx="45" cy="268" rx="5" ry="4" fill="#f04080"/>
<ellipse cx="185" cy="270" rx="6" ry="7" fill="#f04080"/>
<ellipse cx="300" cy="292" rx="9" ry="6" fill="#f04080"/>
<ellipse cx="292" cy="282" rx="5" ry="5" fill="#f04080"/>
<ellipse cx="312" cy="300" rx="4" ry="4" fill="#f04080"/>
<ellipse cx="140" cy="292" rx="4" ry="6" fill="#f04080"/>
<ellipse cx="90" cy="300" rx="4" ry="4" fill="#f04080"/>
<ellipse cx="270" cy="300" rx="5" ry="4" fill="#f04080"/>
<ellipse cx="35" cy="295" rx="4" ry="4" fill="#f04080"/>
<ellipse cx="204" cy="286" rx="11" ry="7" fill="#30c8d8"/>
</g></g>
</g>
<clipPath id="c38"><rect x="387.3" y="527.2" width="63.8" height="63.3"/></clipPath>
<g clip-path="url(#c38)">
<rect x="387.3" y="527.2" width="63.8" height="63.3" fill="#030000"/>
<g filter="url(#b4)"><g transform="translate(318.00,524.00) scale(0.19853)">
<ellipse cx="508" cy="260" rx="200" ry="110" fill="#0c0100" opacity="0.8"/>
</g></g>
<g filter="url(#b2)"><g transform="translate(318.00,524.00) scale(0.19853)">
<ellipse cx="396" cy="285" rx="50" ry="18" fill="#500a04" opacity="0.8"/>
<ellipse cx="626" cy="292" rx="40" ry="16" fill="#500a04" opacity="0.8"/>
<ellipse cx="506" cy="280" rx="40" ry="14" fill="#500a04" opacity="0.6"/>
</g></g>
<g filter="url(#b05)"><g transform="translate(318.00,524.00) scale(0.19853)">
<ellipse cx="384" cy="272" rx="9" ry="6" fill="#f03020"/>
<ellipse cx="401" cy="290" rx="7" ry="8" fill="#f03020"/>
<ellipse cx="371" cy="268" rx="5" ry="4" fill="#f03020"/>
<ellipse cx="511" cy="270" rx="6" ry="7" fill="#f03020"/>
<ellipse cx="626" cy="292" rx="9" ry="6" fill="#f03020"/>
<ellipse cx="618" cy="282" rx="5" ry="5" fill="#f03020"/>
<ellipse cx="638" cy="300" rx="4" ry="4" fill="#f03020"/>
<ellipse cx="466" cy="292" rx="4" ry="6" fill="#f03020"/>
<ellipse cx="416" cy="300" rx="4" ry="4" fill="#f03020"/>
<ellipse cx="596" cy="300" rx="5" ry="4" fill="#f03020"/>
<ellipse cx="361" cy="295" rx="4" ry="4" fill="#f03020"/>
<ellipse cx="530" cy="286" rx="11" ry="7" fill="#28c830"/>
<ellipse cx="362" cy="205" rx="7" ry="8" fill="#0c5010"/>
</g></g>
</g>
<line x1="440.7" y1="587.6" x2="449.4" y2="587.6" stroke="#fff" stroke-width="1.5"/>
<text x="10.4" y="470.0" font-size="8.2"><tspan fill="#ea3208" stroke="#ea3208" stroke-width="0.3">Ki67 </tspan><tspan fill="#25b514" stroke="#25b514" stroke-width="0.3">BrdU</tspan></text>
<text x="10.4" y="477.0" font-size="8.2"><tspan fill="#1a1acc" stroke="#1a1acc" stroke-width="0.3">DAPI</tspan></text>
<text x="75.80000000000001" y="470.0" font-size="8.2"><tspan fill="#ea3208" stroke="#ea3208" stroke-width="0.3">Ki67 </tspan><tspan fill="#25b514" stroke="#25b514" stroke-width="0.3">BrdU</tspan></text>
<text x="165.8" y="470.0" font-size="8.2"><tspan fill="#ea3208" stroke="#ea3208" stroke-width="0.3">Sox2 </tspan><tspan fill="#25b514" stroke="#25b514" stroke-width="0.3">BrdU</tspan></text>
<text x="165.8" y="477.0" font-size="8.2"><tspan fill="#1a1acc" stroke="#1a1acc" stroke-width="0.3">DAPI</tspan></text>
<text x="231.20000000000002" y="470.0" font-size="8.2"><tspan fill="#ea3208" stroke="#ea3208" stroke-width="0.3">Sox2 </tspan><tspan fill="#25b514" stroke="#25b514" stroke-width="0.3">BrdU</tspan></text>
<text x="323.7" y="470.0" font-size="8.2"><tspan fill="#ea3208" stroke="#ea3208" stroke-width="0.3">Dcx </tspan><tspan fill="#25b514" stroke="#25b514" stroke-width="0.3">BrdU</tspan></text>
<text x="323.7" y="477.0" font-size="8.2"><tspan fill="#1a1acc" stroke="#1a1acc" stroke-width="0.3">DAPI</tspan></text>
<text x="389.1" y="470.0" font-size="8.2"><tspan fill="#ea3208" stroke="#ea3208" stroke-width="0.3">Dcx </tspan><tspan fill="#25b514" stroke="#25b514" stroke-width="0.3">BrdU</tspan></text>
<text transform="translate(2.2,10.8) scale(0.9,1)" font-size="15" font-weight="bold" fill="#000">A</text>
<text transform="translate(286,10.8) scale(0.95,1)" font-size="15" font-weight="bold" fill="#000">B</text>
<text transform="translate(524.8,10.8) scale(0.95,1)" font-size="15" font-weight="bold" fill="#000">C</text>
<text transform="translate(2,208.4) scale(0.95,1)" font-size="15" font-weight="bold" fill="#000">D</text>
<text transform="translate(467.5,208.4) scale(0.95,1)" font-size="15" font-weight="bold" fill="#000">E</text>
<text transform="translate(2,444) scale(0.95,1)" font-size="15" font-weight="bold" fill="#000">F</text>
<text transform="translate(466,444) scale(0.95,1)" font-size="15" font-weight="bold" fill="#000">G</text>
<text transform="translate(2,639) scale(0.95,1)" font-size="15" font-weight="bold" fill="#000">H</text>
<text transform="translate(181,639) scale(0.95,1)" font-size="15" font-weight="bold" fill="#000">I</text>
<text transform="translate(321,639) scale(0.95,1)" font-size="15" font-weight="bold" fill="#000">J</text>
<text transform="translate(427,639) scale(0.95,1)" font-size="15" font-weight="bold" fill="#000">K</text>
<text transform="translate(539.3,638.8) scale(0.95,1)" font-size="15" font-weight="bold" fill="#000">L</text>
<line x1="551.6" y1="39.75" x2="551.6" y2="152.75" stroke="#2e2e2e" stroke-width="1.55"/>
<line x1="550.85" y1="152.0" x2="677.5" y2="152.0" stroke="#2e2e2e" stroke-width="1.55"/>
<line x1="548.3000000000001" y1="152.0" x2="551.6" y2="152.0" stroke="#2e2e2e" stroke-width="1.55"/>
<text x="546.8000000000001" y="155.65" font-size="10.3" text-anchor="end" fill="#1a1a1a">0</text>
<line x1="548.3000000000001" y1="124.13" x2="551.6" y2="124.13" stroke="#2e2e2e" stroke-width="1.55"/>
<text x="546.8000000000001" y="127.78" font-size="10.3" text-anchor="end" fill="#1a1a1a">2000</text>
<line x1="548.3000000000001" y1="96.25999999999999" x2="551.6" y2="96.25999999999999" stroke="#2e2e2e" stroke-width="1.55"/>
<text x="546.8000000000001" y="99.91" font-size="10.3" text-anchor="end" fill="#1a1a1a">4000</text>
<line x1="548.3000000000001" y1="68.38999999999999" x2="551.6" y2="68.38999999999999" stroke="#2e2e2e" stroke-width="1.55"/>
<text x="546.8000000000001" y="72.03999999999999" font-size="10.3" text-anchor="end" fill="#1a1a1a">6000</text>
<line x1="548.3000000000001" y1="40.519999999999996" x2="551.6" y2="40.519999999999996" stroke="#2e2e2e" stroke-width="1.55"/>
<text x="546.8000000000001" y="44.169999999999995" font-size="10.3" text-anchor="end" fill="#1a1a1a">8000</text>
<line x1="572.6" y1="152.0" x2="572.6" y2="155.0" stroke="#2e2e2e" stroke-width="1.55"/>
<text x="572.6" y="166.6" font-size="10.3" text-anchor="middle" fill="#1a1a1a">7</text>
<line x1="614.2" y1="152.0" x2="614.2" y2="155.0" stroke="#2e2e2e" stroke-width="1.55"/>
<text x="614.2" y="166.6" font-size="10.3" text-anchor="middle" fill="#1a1a1a">14</text>
<line x1="656.6" y1="152.0" x2="656.6" y2="155.0" stroke="#2e2e2e" stroke-width="1.55"/>
<text x="656.6" y="166.6" font-size="10.3" text-anchor="middle" fill="#1a1a1a">28</text>
<text x="622.5" y="181.5" font-size="10.5" text-anchor="middle" fill="#1a1a1a">Days after Tamoxifen</text>
<text x="516.5" y="94" font-size="10.5" text-anchor="middle" fill="#1a1a1a" transform="rotate(-90 516.5 94)">tdTomato<tspan dy="-3" font-size="6">+</tspan><tspan dy="3" font-size="1">&#8203;</tspan> cells / DG (mm<tspan dy="-3.5" font-size="6">2</tspan><tspan dy="3.5" font-size="1">&#8203;</tspan>)</text>
<circle cx="572.6" cy="120.6" r="2.1" fill="#b4b0af"/>
<circle cx="572.6" cy="138.1" r="2.1" fill="#b4b0af"/>
<circle cx="572.6" cy="139.5" r="2.1" fill="#b4b0af"/>
<circle cx="572.6" cy="142.2" r="2.1" fill="#b4b0af"/>
<circle cx="572.6" cy="145.0" r="2.1" fill="#b4b0af"/>
<circle cx="572.6" cy="147.8" r="2.1" fill="#b4b0af"/>
<circle cx="614.2" cy="97.0" r="2.1" fill="#b4b0af"/>
<circle cx="614.2" cy="106.7" r="2.1" fill="#b4b0af"/>
<circle cx="614.2" cy="110.9" r="2.1" fill="#b4b0af"/>
<circle cx="614.2" cy="114.4" r="2.1" fill="#b4b0af"/>
<circle cx="614.2" cy="117.2" r="2.1" fill="#b4b0af"/>
<circle cx="614.2" cy="119.9" r="2.1" fill="#b4b0af"/>
<circle cx="614.2" cy="123.4" r="2.1" fill="#b4b0af"/>
<circle cx="614.2" cy="126.2" r="2.1" fill="#b4b0af"/>
<circle cx="656.6" cy="45.4" r="2.1" fill="#b4b0af"/>
<circle cx="656.6" cy="55.2" r="2.1" fill="#b4b0af"/>
<circle cx="656.6" cy="57.9" r="2.1" fill="#b4b0af"/>
<circle cx="656.6" cy="60.7" r="2.1" fill="#b4b0af"/>
<circle cx="656.6" cy="64.9" r="2.1" fill="#b4b0af"/>
<circle cx="656.6" cy="67.7" r="2.1" fill="#b4b0af"/>
<circle cx="656.6" cy="70.5" r="2.1" fill="#b4b0af"/>
<circle cx="656.6" cy="73.3" r="2.1" fill="#b4b0af"/>
<circle cx="656.6" cy="75.4" r="2.1" fill="#b4b0af"/>
<circle cx="656.6" cy="93.5" r="2.1" fill="#b4b0af"/>
<polyline points="572.6,137.2 614,112.4 656.4,66.5" fill="none" stroke="#b4b0af" stroke-width="1.8" stroke-linejoin="round"/>
<rect x="570.6" y="129.8" width="4" height="4" fill="#4ca53a"/>
<rect x="570.6" y="138.9" width="4" height="4" fill="#4ca53a"/>
<rect x="570.6" y="143.0" width="4" height="4" fill="#4ca53a"/>
<rect x="570.6" y="145.1" width="4" height="4" fill="#4ca53a"/>
<rect x="570.6" y="147.2" width="4" height="4" fill="#4ca53a"/>
<rect x="612.2" y="136.1" width="4" height="4" fill="#4ca53a"/>
<rect x="612.2" y="138.2" width="4" height="4" fill="#4ca53a"/>
<rect x="612.2" y="140.2" width="4" height="4" fill="#4ca53a"/>
<rect x="612.2" y="141.6" width="4" height="4" fill="#4ca53a"/>
<rect x="612.2" y="143.0" width="4" height="4" fill="#4ca53a"/>
<rect x="612.2" y="144.4" width="4" height="4" fill="#4ca53a"/>
<rect x="654.6" y="125.6" width="4" height="4" fill="#4ca53a"/>
<rect x="654.6" y="127.0" width="4" height="4" fill="#4ca53a"/>
<rect x="654.6" y="128.4" width="4" height="4" fill="#4ca53a"/>
<rect x="654.6" y="129.8" width="4" height="4" fill="#4ca53a"/>
<rect x="654.6" y="131.2" width="4" height="4" fill="#4ca53a"/>
<rect x="654.6" y="140.2" width="4" height="4" fill="#4ca53a"/>
<polyline points="572.6,145.3 614,140.6 656.4,131.8" fill="none" stroke="#4ca53a" stroke-width="1.8" stroke-linejoin="round"/>
<line x1="558.5" y1="46.5" x2="568.5" y2="46.5" stroke="#b4b0af" stroke-width="1.8"/>
<circle cx="563.5" cy="46.5" r="2.2" fill="#b4b0af"/>
<text x="571" y="50.3" font-size="10.5" text-anchor="start" fill="#1a1a1a">WT</text>
<line x1="558.5" y1="59.8" x2="568.5" y2="59.8" stroke="#4ca53a" stroke-width="1.8"/>
<rect x="561.3" y="57.6" width="4.4" height="4.4" fill="#4ca53a"/>
<text x="571" y="63.6" font-size="10.5" text-anchor="start" fill="#1a1a1a">iKO</text>
<text x="572.6" y="120.3" font-size="10.5" text-anchor="middle" fill="#111" font-weight="bold">*</text>
<text x="614.2" y="96.5" font-size="10.5" text-anchor="middle" fill="#111" font-weight="bold">***</text>
<text x="656.6" y="44.8" font-size="10.5" text-anchor="middle" fill="#111" font-weight="bold">***</text>
<text x="29" y="207" font-size="10.5" fill="#1a1a1a"><tspan font-style="italic">Slc22a17 </tspan><tspan dy="-3.4" font-size="6.3">flox/flox</tspan><tspan dy="3.4">;</tspan><tspan font-style="italic">Nestin</tspan>-CreER<tspan dy="-3.4" font-size="6.6">T2</tspan></text>
<line x1="21.7" y1="245.3" x2="77.5" y2="245.3" stroke="#2e2e2e" stroke-width="0.9"/>
<line x1="84" y1="245.3" x2="171.7" y2="245.3" stroke="#2e2e2e" stroke-width="0.9"/>
<line x1="77" y1="247.8" x2="80" y2="242.8" stroke="#2e2e2e" stroke-width="0.8"/>
<line x1="80.5" y1="247.8" x2="83.5" y2="242.8" stroke="#2e2e2e" stroke-width="0.8"/>
<line x1="33.3" y1="245.3" x2="33.3" y2="243.10000000000002" stroke="#2e2e2e" stroke-width="0.8"/>
<line x1="58.5" y1="245.3" x2="58.5" y2="243.10000000000002" stroke="#2e2e2e" stroke-width="0.8"/>
<line x1="104" y1="245.3" x2="104" y2="243.10000000000002" stroke="#2e2e2e" stroke-width="0.8"/>
<line x1="128.6" y1="245.3" x2="128.6" y2="243.10000000000002" stroke="#2e2e2e" stroke-width="0.8"/>
<line x1="160" y1="245.3" x2="160" y2="243.10000000000002" stroke="#2e2e2e" stroke-width="0.8"/>
<line x1="36" y1="234" x2="36" y2="241.5" stroke="#2e2e2e" stroke-width="1.1"/>
<path d="M33.2,239 L36,244.4 L38.8,239 L36,240.6 Z" fill="#2e2e2e"/>
<line x1="45.2" y1="234" x2="45.2" y2="241.5" stroke="#2e2e2e" stroke-width="1.1"/>
<path d="M42.400000000000006,239 L45.2,244.4 L48.0,239 L45.2,240.6 Z" fill="#2e2e2e"/>
<line x1="54" y1="234" x2="54" y2="241.5" stroke="#2e2e2e" stroke-width="1.1"/>
<path d="M51.2,239 L54,244.4 L56.8,239 L54,240.6 Z" fill="#2e2e2e"/>
<line x1="106.9" y1="234" x2="106.9" y2="241.5" stroke="#2e2e2e" stroke-width="1.1"/>
<path d="M104.10000000000001,239 L106.9,244.4 L109.7,239 L106.9,240.6 Z" fill="#2e2e2e"/>
<line x1="115.6" y1="234" x2="115.6" y2="241.5" stroke="#2e2e2e" stroke-width="1.1"/>
<path d="M112.8,239 L115.6,244.4 L118.39999999999999,239 L115.6,240.6 Z" fill="#2e2e2e"/>
<line x1="124.4" y1="234" x2="124.4" y2="241.5" stroke="#2e2e2e" stroke-width="1.1"/>
<path d="M121.60000000000001,239 L124.4,244.4 L127.2,239 L124.4,240.6 Z" fill="#2e2e2e"/>
<line x1="160" y1="234" x2="160" y2="241.5" stroke="#2e2e2e" stroke-width="1.1"/>
<path d="M157.2,239 L160,244.4 L162.8,239 L160,240.6 Z" fill="#2e2e2e"/>
<text x="44" y="232.6" font-size="10.5" text-anchor="middle" fill="#1a1a1a">TAM</text>
<text x="116.5" y="232.6" font-size="10.5" text-anchor="middle" fill="#1a1a1a">BrdU</text>
<text x="161.5" y="232.6" font-size="10.5" text-anchor="middle" fill="#1a1a1a">Analysis</text>
<text x="33.3" y="257.3" font-size="10.5" text-anchor="middle" fill="#1a1a1a">P28</text>
<text x="58.7" y="257.3" font-size="10.5" text-anchor="middle" fill="#1a1a1a">P33</text>
<text x="102.8" y="257.3" font-size="10.5" text-anchor="middle" fill="#1a1a1a">P44</text>
<text x="126.4" y="257.3" font-size="10.5" text-anchor="middle" fill="#1a1a1a">P49</text>
<text x="161" y="257.3" font-size="10.5" text-anchor="middle" fill="#1a1a1a">P56</text>
<line x1="508.0" y1="276.05" x2="508.0" y2="389.75" stroke="#2e2e2e" stroke-width="1.55"/>
<line x1="507.25" y1="389.0" x2="677.8" y2="389.0" stroke="#2e2e2e" stroke-width="1.55"/>
<line x1="504.7" y1="389.0" x2="508.0" y2="389.0" stroke="#2e2e2e" stroke-width="1.55"/>
<text x="503.3" y="392.65" font-size="10.3" text-anchor="end" fill="#1a1a1a">0</text>
<line x1="504.7" y1="366.6" x2="508.0" y2="366.6" stroke="#2e2e2e" stroke-width="1.55"/>
<text x="503.3" y="370.25" font-size="10.3" text-anchor="end" fill="#1a1a1a">20</text>
<line x1="504.7" y1="344.2" x2="508.0" y2="344.2" stroke="#2e2e2e" stroke-width="1.55"/>
<text x="503.3" y="347.84999999999997" font-size="10.3" text-anchor="end" fill="#1a1a1a">40</text>
<line x1="504.7" y1="321.8" x2="508.0" y2="321.8" stroke="#2e2e2e" stroke-width="1.55"/>
<text x="503.3" y="325.45" font-size="10.3" text-anchor="end" fill="#1a1a1a">60</text>
<line x1="504.7" y1="299.4" x2="508.0" y2="299.4" stroke="#2e2e2e" stroke-width="1.55"/>
<text x="503.3" y="303.04999999999995" font-size="10.3" text-anchor="end" fill="#1a1a1a">80</text>
<line x1="504.7" y1="277.0" x2="508.0" y2="277.0" stroke="#2e2e2e" stroke-width="1.55"/>
<text x="503.3" y="280.65" font-size="10.3" text-anchor="end" fill="#1a1a1a">100</text>
<rect x="514.6" y="375.6" width="20.2" height="13.4" fill="#b4b0af" stroke="#333" stroke-width="1.15"/>
<rect x="538.2" y="382.3" width="20.0" height="6.7" fill="#4ca53a" stroke="#333" stroke-width="1.15"/>
<rect x="571" y="325.7" width="20.0" height="63.3" fill="#b4b0af" stroke="#333" stroke-width="1.15"/>
<rect x="594.4" y="341.4" width="20.0" height="47.6" fill="#4ca53a" stroke="#333" stroke-width="1.15"/>
<rect x="627.5" y="345.3" width="20.1" height="43.7" fill="#b4b0af" stroke="#333" stroke-width="1.15"/>
<rect x="650.8" y="359.9" width="20.0" height="29.1" fill="#4ca53a" stroke="#333" stroke-width="1.15"/>
<circle cx="521.8" cy="366.6" r="2.3" fill="#fff" stroke="#222" stroke-width="0.8"/>
<circle cx="525.2" cy="373.3" r="2.3" fill="#fff" stroke="#222" stroke-width="0.8"/>
<circle cx="523.3" cy="374.4" r="2.3" fill="#fff" stroke="#222" stroke-width="0.8"/>
<circle cx="525.8" cy="374.4" r="2.3" fill="#fff" stroke="#222" stroke-width="0.8"/>
<circle cx="526.1" cy="375.6" r="2.3" fill="#fff" stroke="#222" stroke-width="0.8"/>
<circle cx="519.9" cy="375.6" r="2.3" fill="#fff" stroke="#222" stroke-width="0.8"/>
<circle cx="519.3" cy="376.7" r="2.3" fill="#fff" stroke="#222" stroke-width="0.8"/>
<circle cx="528.4" cy="376.7" r="2.3" fill="#fff" stroke="#222" stroke-width="0.8"/>
<circle cx="522.1" cy="377.8" r="2.3" fill="#fff" stroke="#222" stroke-width="0.8"/>
<circle cx="521.8" cy="377.8" r="2.3" fill="#fff" stroke="#222" stroke-width="0.8"/>
<circle cx="530.2" cy="378.9" r="2.3" fill="#fff" stroke="#222" stroke-width="0.8"/>
<circle cx="524.4" cy="378.9" r="2.3" fill="#fff" stroke="#222" stroke-width="0.8"/>
<line x1="524.7" y1="374.44" x2="524.7" y2="376.68" stroke="#222" stroke-width="0.9"/>
<line x1="522.2" y1="374.44" x2="527.2" y2="374.44" stroke="#222" stroke-width="0.9"/>
<line x1="522.2" y1="376.68" x2="527.2" y2="376.68" stroke="#222" stroke-width="0.9"/>
<rect x="549.6" y="378.9" width="4.6" height="4.6" fill="#fff" stroke="#222" stroke-width="0.8"/>
<rect x="545.6" y="378.9" width="4.6" height="4.6" fill="#fff" stroke="#222" stroke-width="0.8"/>
<rect x="547.4" y="380.0" width="4.6" height="4.6" fill="#fff" stroke="#222" stroke-width="0.8"/>
<rect x="542.1" y="380.0" width="4.6" height="4.6" fill="#fff" stroke="#222" stroke-width="0.8"/>
<rect x="547.4" y="381.1" width="4.6" height="4.6" fill="#fff" stroke="#222" stroke-width="0.8"/>
<rect x="549.9" y="381.1" width="4.6" height="4.6" fill="#fff" stroke="#222" stroke-width="0.8"/>
<rect x="546.2" y="378.9" width="4.6" height="4.6" fill="#fff" stroke="#222" stroke-width="0.8"/>
<line x1="548.2" y1="381.60799999999995" x2="548.2" y2="382.952" stroke="#222" stroke-width="0.9"/>
<line x1="545.7" y1="381.60799999999995" x2="550.7" y2="381.60799999999995" stroke="#222" stroke-width="0.9"/>
<line x1="545.7" y1="382.952" x2="550.7" y2="382.952" stroke="#222" stroke-width="0.9"/>
<circle cx="583.7" cy="296.0" r="2.3" fill="#fff" stroke="#222" stroke-width="0.8"/>
<circle cx="582.9" cy="310.6" r="2.3" fill="#fff" stroke="#222" stroke-width="0.8"/>
<circle cx="576.2" cy="315.1" r="2.3" fill="#fff" stroke="#222" stroke-width="0.8"/>
<circle cx="583.8" cy="316.2" r="2.3" fill="#fff" stroke="#222" stroke-width="0.8"/>
<circle cx="582.0" cy="319.6" r="2.3" fill="#fff" stroke="#222" stroke-width="0.8"/>
<circle cx="578.8" cy="321.8" r="2.3" fill="#fff" stroke="#222" stroke-width="0.8"/>
<circle cx="575.8" cy="324.0" r="2.3" fill="#fff" stroke="#222" stroke-width="0.8"/>
<circle cx="585.0" cy="325.2" r="2.3" fill="#fff" stroke="#222" stroke-width="0.8"/>
<circle cx="580.7" cy="327.4" r="2.3" fill="#fff" stroke="#222" stroke-width="0.8"/>
<circle cx="583.4" cy="328.5" r="2.3" fill="#fff" stroke="#222" stroke-width="0.8"/>
<circle cx="585.2" cy="330.8" r="2.3" fill="#fff" stroke="#222" stroke-width="0.8"/>
<circle cx="583.4" cy="333.0" r="2.3" fill="#fff" stroke="#222" stroke-width="0.8"/>
<circle cx="585.6" cy="335.2" r="2.3" fill="#fff" stroke="#222" stroke-width="0.8"/>
<circle cx="579.8" cy="336.4" r="2.3" fill="#fff" stroke="#222" stroke-width="0.8"/>
<circle cx="584.3" cy="338.6" r="2.3" fill="#fff" stroke="#222" stroke-width="0.8"/>
<circle cx="580.4" cy="340.8" r="2.3" fill="#fff" stroke="#222" stroke-width="0.8"/>
<circle cx="585.8" cy="342.0" r="2.3" fill="#fff" stroke="#222" stroke-width="0.8"/>
<circle cx="585.2" cy="344.2" r="2.3" fill="#fff" stroke="#222" stroke-width="0.8"/>
<circle cx="576.6" cy="330.8" r="2.3" fill="#fff" stroke="#222" stroke-width="0.8"/>
<circle cx="577.0" cy="326.3" r="2.3" fill="#fff" stroke="#222" stroke-width="0.8"/>
<line x1="581.0" y1="322.92" x2="581.0" y2="328.52000000000004" stroke="#222" stroke-width="0.9"/>
<line x1="578.5" y1="322.92" x2="583.5" y2="322.92" stroke="#222" stroke-width="0.9"/>
<line x1="578.5" y1="328.52000000000004" x2="583.5" y2="328.52000000000004" stroke="#222" stroke-width="0.9"/>
<rect x="599.0" y="312.8" width="4.6" height="4.6" fill="#fff" stroke="#222" stroke-width="0.8"/>
<rect x="607.2" y="315.0" width="4.6" height="4.6" fill="#fff" stroke="#222" stroke-width="0.8"/>
<rect x="601.4" y="330.7" width="4.6" height="4.6" fill="#fff" stroke="#222" stroke-width="0.8"/>
<rect x="603.5" y="332.9" width="4.6" height="4.6" fill="#fff" stroke="#222" stroke-width="0.8"/>
<rect x="599.9" y="339.7" width="4.6" height="4.6" fill="#fff" stroke="#222" stroke-width="0.8"/>
<rect x="602.2" y="344.1" width="4.6" height="4.6" fill="#fff" stroke="#222" stroke-width="0.8"/>
<rect x="600.8" y="346.4" width="4.6" height="4.6" fill="#fff" stroke="#222" stroke-width="0.8"/>
<rect x="600.5" y="349.7" width="4.6" height="4.6" fill="#fff" stroke="#222" stroke-width="0.8"/>
<rect x="603.0" y="355.3" width="4.6" height="4.6" fill="#fff" stroke="#222" stroke-width="0.8"/>
<rect x="603.0" y="356.5" width="4.6" height="4.6" fill="#fff" stroke="#222" stroke-width="0.8"/>
<rect x="606.5" y="363.2" width="4.6" height="4.6" fill="#fff" stroke="#222" stroke-width="0.8"/>
<rect x="604.1" y="367.7" width="4.6" height="4.6" fill="#fff" stroke="#222" stroke-width="0.8"/>
<line x1="604.4" y1="336.91999999999996" x2="604.4" y2="345.88" stroke="#222" stroke-width="0.9"/>
<line x1="601.9" y1="336.91999999999996" x2="606.9" y2="336.91999999999996" stroke="#222" stroke-width="0.9"/>
<line x1="601.9" y1="345.88" x2="606.9" y2="345.88" stroke="#222" stroke-width="0.9"/>
<circle cx="642.3" cy="300.5" r="2.3" fill="#fff" stroke="#222" stroke-width="0.8"/>
<circle cx="641.5" cy="312.8" r="2.3" fill="#fff" stroke="#222" stroke-width="0.8"/>
<circle cx="643.0" cy="326.3" r="2.3" fill="#fff" stroke="#222" stroke-width="0.8"/>
<circle cx="639.4" cy="326.3" r="2.3" fill="#fff" stroke="#222" stroke-width="0.8"/>
<circle cx="633.8" cy="338.6" r="2.3" fill="#fff" stroke="#222" stroke-width="0.8"/>
<circle cx="641.5" cy="338.6" r="2.3" fill="#fff" stroke="#222" stroke-width="0.8"/>
<circle cx="642.7" cy="344.2" r="2.3" fill="#fff" stroke="#222" stroke-width="0.8"/>
<circle cx="642.0" cy="346.4" r="2.3" fill="#fff" stroke="#222" stroke-width="0.8"/>
<circle cx="638.3" cy="348.7" r="2.3" fill="#fff" stroke="#222" stroke-width="0.8"/>
<circle cx="639.9" cy="349.8" r="2.3" fill="#fff" stroke="#222" stroke-width="0.8"/>
<circle cx="634.4" cy="352.0" r="2.3" fill="#fff" stroke="#222" stroke-width="0.8"/>
<circle cx="641.2" cy="354.3" r="2.3" fill="#fff" stroke="#222" stroke-width="0.8"/>
<circle cx="638.4" cy="355.4" r="2.3" fill="#fff" stroke="#222" stroke-width="0.8"/>
<circle cx="635.2" cy="357.6" r="2.3" fill="#fff" stroke="#222" stroke-width="0.8"/>
<circle cx="632.7" cy="358.8" r="2.3" fill="#fff" stroke="#222" stroke-width="0.8"/>
<circle cx="641.4" cy="359.9" r="2.3" fill="#fff" stroke="#222" stroke-width="0.8"/>
<circle cx="642.9" cy="362.1" r="2.3" fill="#fff" stroke="#222" stroke-width="0.8"/>
<circle cx="633.0" cy="363.2" r="2.3" fill="#fff" stroke="#222" stroke-width="0.8"/>
<circle cx="640.9" cy="364.4" r="2.3" fill="#fff" stroke="#222" stroke-width="0.8"/>
<circle cx="636.6" cy="365.5" r="2.3" fill="#fff" stroke="#222" stroke-width="0.8"/>
<line x1="637.55" y1="341.96" x2="637.55" y2="348.68" stroke="#222" stroke-width="0.9"/>
<line x1="635.05" y1="341.96" x2="640.05" y2="341.96" stroke="#222" stroke-width="0.9"/>
<line x1="635.05" y1="348.68" x2="640.05" y2="348.68" stroke="#222" stroke-width="0.9"/>
<rect x="654.7" y="347.5" width="4.6" height="4.6" fill="#fff" stroke="#222" stroke-width="0.8"/>
<rect x="656.2" y="348.6" width="4.6" height="4.6" fill="#fff" stroke="#222" stroke-width="0.8"/>
<rect x="661.5" y="349.7" width="4.6" height="4.6" fill="#fff" stroke="#222" stroke-width="0.8"/>
<rect x="662.6" y="350.9" width="4.6" height="4.6" fill="#fff" stroke="#222" stroke-width="0.8"/>
<rect x="653.5" y="353.1" width="4.6" height="4.6" fill="#fff" stroke="#222" stroke-width="0.8"/>
<rect x="659.8" y="355.3" width="4.6" height="4.6" fill="#fff" stroke="#222" stroke-width="0.8"/>
<rect x="653.5" y="356.5" width="4.6" height="4.6" fill="#fff" stroke="#222" stroke-width="0.8"/>
<rect x="660.9" y="357.6" width="4.6" height="4.6" fill="#fff" stroke="#222" stroke-width="0.8"/>
<rect x="656.6" y="358.7" width="4.6" height="4.6" fill="#fff" stroke="#222" stroke-width="0.8"/>
<rect x="662.7" y="359.8" width="4.6" height="4.6" fill="#fff" stroke="#222" stroke-width="0.8"/>
<rect x="663.8" y="362.1" width="4.6" height="4.6" fill="#fff" stroke="#222" stroke-width="0.8"/>
<rect x="658.6" y="363.2" width="4.6" height="4.6" fill="#fff" stroke="#222" stroke-width="0.8"/>
<rect x="664.0" y="364.3" width="4.6" height="4.6" fill="#fff" stroke="#222" stroke-width="0.8"/>
<rect x="656.4" y="366.5" width="4.6" height="4.6" fill="#fff" stroke="#222" stroke-width="0.8"/>
<rect x="653.8" y="368.8" width="4.6" height="4.6" fill="#fff" stroke="#222" stroke-width="0.8"/>
<rect x="659.6" y="371.0" width="4.6" height="4.6" fill="#fff" stroke="#222" stroke-width="0.8"/>
<rect x="653.3" y="375.5" width="4.6" height="4.6" fill="#fff" stroke="#222" stroke-width="0.8"/>
<line x1="660.8" y1="357.864" x2="660.8" y2="361.896" stroke="#222" stroke-width="0.9"/>
<line x1="658.3" y1="357.864" x2="663.3" y2="357.864" stroke="#222" stroke-width="0.9"/>
<line x1="658.3" y1="361.896" x2="663.3" y2="361.896" stroke="#222" stroke-width="0.9"/>
<line x1="536.3" y1="389.0" x2="536.3" y2="392.0" stroke="#2e2e2e" stroke-width="1.55"/>
<text x="537.4" y="402.6" font-size="10.5" text-anchor="middle" fill="#1a1a1a">Ki67<tspan dy="-3" font-size="6.5">+</tspan><tspan dy="3" font-size="1">&#8203;</tspan></text>
<line x1="592.6" y1="389.0" x2="592.6" y2="392.0" stroke="#2e2e2e" stroke-width="1.55"/>
<text x="592.4" y="402.6" font-size="10.5" text-anchor="middle" fill="#1a1a1a">Sox2<tspan dy="-3" font-size="6.5">+</tspan><tspan dy="3" font-size="1">&#8203;</tspan></text>
<line x1="649" y1="389.0" x2="649" y2="392.0" stroke="#2e2e2e" stroke-width="1.55"/>
<text x="648" y="402.6" font-size="10.5" text-anchor="middle" fill="#1a1a1a">DCX<tspan dy="-3" font-size="6.5">+</tspan><tspan dy="3" font-size="1">&#8203;</tspan></text>
<rect x="513.2" y="263.8" width="9.5" height="8.2" fill="#b4b0af" stroke="#2a2a2a" stroke-width="1"/>
<text x="524.6" y="271.7" font-size="10.5" text-anchor="start" fill="#1a1a1a">WT</text>
<rect x="513.2" y="281.2" width="9.5" height="8.2" fill="#4ca53a" stroke="#2a2a2a" stroke-width="1"/>
<text x="524.6" y="289.09999999999997" font-size="10.5" text-anchor="start" fill="#1a1a1a">iKO</text>
<line x1="525" y1="358.7" x2="548.9" y2="358.7" stroke="#3a3a3a" stroke-width="1.3"/>
<text x="536.95" y="359.0" font-size="9.8" text-anchor="middle" fill="#111" font-weight="bold">***</text>
<line x1="581.5" y1="287" x2="604.5" y2="287" stroke="#3a3a3a" stroke-width="1.3"/>
<text x="593.0" y="287.3" font-size="9.8" text-anchor="middle" fill="#111" font-weight="bold">**</text>
<line x1="638" y1="290.9" x2="660.4" y2="290.9" stroke="#3a3a3a" stroke-width="1.3"/>
<text x="649.2" y="291.2" font-size="9.8" text-anchor="middle" fill="#111" font-weight="bold">**</text>
<text x="480.5" y="330" font-size="10.5" text-anchor="middle" fill="#1a1a1a" transform="rotate(-90 480.5 330)">Marker<tspan dy="-3" font-size="6">+</tspan><tspan dy="3" font-size="1">&#8203;</tspan> cells / DG (mm<tspan dy="-3.5" font-size="6">2</tspan><tspan dy="3.5" font-size="1">&#8203;</tspan>)</text>
<line x1="508.6" y1="469.35" x2="508.6" y2="582.95" stroke="#2e2e2e" stroke-width="1.55"/>
<line x1="507.85" y1="582.2" x2="677.8" y2="582.2" stroke="#2e2e2e" stroke-width="1.55"/>
<line x1="505.3" y1="582.2" x2="508.6" y2="582.2" stroke="#2e2e2e" stroke-width="1.55"/>
<text x="503.90000000000003" y="585.85" font-size="10.3" text-anchor="end" fill="#1a1a1a">0</text>
<line x1="505.3" y1="559.85" x2="508.6" y2="559.85" stroke="#2e2e2e" stroke-width="1.55"/>
<text x="503.90000000000003" y="563.5" font-size="10.3" text-anchor="end" fill="#1a1a1a">20</text>
<line x1="505.3" y1="537.5" x2="508.6" y2="537.5" stroke="#2e2e2e" stroke-width="1.55"/>
<text x="503.90000000000003" y="541.15" font-size="10.3" text-anchor="end" fill="#1a1a1a">40</text>
<line x1="505.3" y1="515.1500000000001" x2="508.6" y2="515.1500000000001" stroke="#2e2e2e" stroke-width="1.55"/>
<text x="503.90000000000003" y="518.8000000000001" font-size="10.3" text-anchor="end" fill="#1a1a1a">60</text>
<line x1="505.3" y1="492.80000000000007" x2="508.6" y2="492.80000000000007" stroke="#2e2e2e" stroke-width="1.55"/>
<text x="503.90000000000003" y="496.45000000000005" font-size="10.3" text-anchor="end" fill="#1a1a1a">80</text>
<line x1="505.3" y1="470.45000000000005" x2="508.6" y2="470.45000000000005" stroke="#2e2e2e" stroke-width="1.55"/>
<text x="503.90000000000003" y="474.1" font-size="10.3" text-anchor="end" fill="#1a1a1a">100</text>
<rect x="515.3" y="522.4" width="20.2" height="59.8" fill="#b4b0af" stroke="#333" stroke-width="1.15"/>
<rect x="538.9" y="545.9" width="20.0" height="36.3" fill="#4ca53a" stroke="#333" stroke-width="1.15"/>
<rect x="571.7" y="514.6" width="20.0" height="67.6" fill="#b4b0af" stroke="#333" stroke-width="1.15"/>
<rect x="595.1" y="551.5" width="20.0" height="30.7" fill="#4ca53a" stroke="#333" stroke-width="1.15"/>
<rect x="628.2" y="523.0" width="20.1" height="59.2" fill="#b4b0af" stroke="#333" stroke-width="1.15"/>
<rect x="651.5" y="544.8" width="20.0" height="37.4" fill="#4ca53a" stroke="#333" stroke-width="1.15"/>
<circle cx="527.0" cy="495.0" r="2.3" fill="#fff" stroke="#222" stroke-width="0.8"/>
<circle cx="528.5" cy="501.7" r="2.3" fill="#fff" stroke="#222" stroke-width="0.8"/>
<circle cx="529.2" cy="510.7" r="2.3" fill="#fff" stroke="#222" stroke-width="0.8"/>
<circle cx="531.2" cy="514.0" r="2.3" fill="#fff" stroke="#222" stroke-width="0.8"/>
<circle cx="528.5" cy="520.7" r="2.3" fill="#fff" stroke="#222" stroke-width="0.8"/>
<circle cx="530.9" cy="524.1" r="2.3" fill="#fff" stroke="#222" stroke-width="0.8"/>
<circle cx="519.3" cy="526.3" r="2.3" fill="#fff" stroke="#222" stroke-width="0.8"/>
<circle cx="525.0" cy="529.7" r="2.3" fill="#fff" stroke="#222" stroke-width="0.8"/>
<circle cx="531.2" cy="537.5" r="2.3" fill="#fff" stroke="#222" stroke-width="0.8"/>
<circle cx="527.3" cy="539.7" r="2.3" fill="#fff" stroke="#222" stroke-width="0.8"/>
<circle cx="530.6" cy="540.9" r="2.3" fill="#fff" stroke="#222" stroke-width="0.8"/>
<circle cx="520.4" cy="542.0" r="2.3" fill="#fff" stroke="#222" stroke-width="0.8"/>
<line x1="525.4" y1="517.3850000000001" x2="525.4" y2="527.4425" stroke="#222" stroke-width="0.9"/>
<line x1="522.4" y1="517.3850000000001" x2="528.4" y2="517.3850000000001" stroke="#222" stroke-width="0.9"/>
<line x1="522.4" y1="527.4425" x2="528.4" y2="527.4425" stroke="#222" stroke-width="0.9"/>
<rect x="546.2" y="533.0" width="4.6" height="4.6" fill="#fff" stroke="#222" stroke-width="0.8"/>
<rect x="543.3" y="540.8" width="4.6" height="4.6" fill="#fff" stroke="#222" stroke-width="0.8"/>
<rect x="547.2" y="541.9" width="4.6" height="4.6" fill="#fff" stroke="#222" stroke-width="0.8"/>
<rect x="547.6" y="543.0" width="4.6" height="4.6" fill="#fff" stroke="#222" stroke-width="0.8"/>
<rect x="540.3" y="544.1" width="4.6" height="4.6" fill="#fff" stroke="#222" stroke-width="0.8"/>
<rect x="542.9" y="545.3" width="4.6" height="4.6" fill="#fff" stroke="#222" stroke-width="0.8"/>
<rect x="543.7" y="546.4" width="4.6" height="4.6" fill="#fff" stroke="#222" stroke-width="0.8"/>
<rect x="552.0" y="549.7" width="4.6" height="4.6" fill="#fff" stroke="#222" stroke-width="0.8"/>
<rect x="550.1" y="550.8" width="4.6" height="4.6" fill="#fff" stroke="#222" stroke-width="0.8"/>
<line x1="548.9" y1="544.09325" x2="548.9" y2="547.66925" stroke="#222" stroke-width="0.9"/>
<line x1="545.9" y1="544.09325" x2="551.9" y2="544.09325" stroke="#222" stroke-width="0.9"/>
<line x1="545.9" y1="547.66925" x2="551.9" y2="547.66925" stroke="#222" stroke-width="0.9"/>
<circle cx="577.3" cy="502.9" r="2.3" fill="#fff" stroke="#222" stroke-width="0.8"/>
<circle cx="585.6" cy="504.0" r="2.3" fill="#fff" stroke="#222" stroke-width="0.8"/>
<circle cx="577.0" cy="506.2" r="2.3" fill="#fff" stroke="#222" stroke-width="0.8"/>
<circle cx="583.2" cy="512.9" r="2.3" fill="#fff" stroke="#222" stroke-width="0.8"/>
<circle cx="576.8" cy="515.2" r="2.3" fill="#fff" stroke="#222" stroke-width="0.8"/>
<circle cx="575.2" cy="517.4" r="2.3" fill="#fff" stroke="#222" stroke-width="0.8"/>
<circle cx="586.5" cy="520.7" r="2.3" fill="#fff" stroke="#222" stroke-width="0.8"/>
<circle cx="577.9" cy="528.6" r="2.3" fill="#fff" stroke="#222" stroke-width="0.8"/>
<circle cx="578.0" cy="530.8" r="2.3" fill="#fff" stroke="#222" stroke-width="0.8"/>
<line x1="581.7" y1="510.68000000000006" x2="581.7" y2="518.5025" stroke="#222" stroke-width="0.9"/>
<line x1="578.7" y1="510.68000000000006" x2="584.7" y2="510.68000000000006" stroke="#222" stroke-width="0.9"/>
<line x1="578.7" y1="518.5025" x2="584.7" y2="518.5025" stroke="#222" stroke-width="0.9"/>
<rect x="609.1" y="535.2" width="4.6" height="4.6" fill="#fff" stroke="#222" stroke-width="0.8"/>
<rect x="607.6" y="543.0" width="4.6" height="4.6" fill="#fff" stroke="#222" stroke-width="0.8"/>
<rect x="600.1" y="546.4" width="4.6" height="4.6" fill="#fff" stroke="#222" stroke-width="0.8"/>
<rect x="608.8" y="553.1" width="4.6" height="4.6" fill="#fff" stroke="#222" stroke-width="0.8"/>
<rect x="603.3" y="555.3" width="4.6" height="4.6" fill="#fff" stroke="#222" stroke-width="0.8"/>
<rect x="605.1" y="559.8" width="4.6" height="4.6" fill="#fff" stroke="#222" stroke-width="0.8"/>
<rect x="599.0" y="560.9" width="4.6" height="4.6" fill="#fff" stroke="#222" stroke-width="0.8"/>
<line x1="605.1" y1="547.5575" x2="605.1" y2="555.38" stroke="#222" stroke-width="0.9"/>
<line x1="602.1" y1="547.5575" x2="608.1" y2="547.5575" stroke="#222" stroke-width="0.9"/>
<line x1="602.1" y1="555.38" x2="608.1" y2="555.38" stroke="#222" stroke-width="0.9"/>
<circle cx="644.0" cy="512.9" r="2.3" fill="#fff" stroke="#222" stroke-width="0.8"/>
<circle cx="640.7" cy="518.5" r="2.3" fill="#fff" stroke="#222" stroke-width="0.8"/>
<circle cx="644.3" cy="524.1" r="2.3" fill="#fff" stroke="#222" stroke-width="0.8"/>
<circle cx="643.4" cy="528.6" r="2.3" fill="#fff" stroke="#222" stroke-width="0.8"/>
<circle cx="635.6" cy="529.7" r="2.3" fill="#fff" stroke="#222" stroke-width="0.8"/>
<line x1="638.25" y1="519.0612500000001" x2="638.25" y2="526.8837500000001" stroke="#222" stroke-width="0.9"/>
<line x1="635.25" y1="519.0612500000001" x2="641.25" y2="519.0612500000001" stroke="#222" stroke-width="0.9"/>
<line x1="635.25" y1="526.8837500000001" x2="641.25" y2="526.8837500000001" stroke="#222" stroke-width="0.9"/>
<rect x="657.4" y="530.7" width="4.6" height="4.6" fill="#fff" stroke="#222" stroke-width="0.8"/>
<rect x="654.9" y="533.0" width="4.6" height="4.6" fill="#fff" stroke="#222" stroke-width="0.8"/>
<rect x="654.6" y="535.2" width="4.6" height="4.6" fill="#fff" stroke="#222" stroke-width="0.8"/>
<rect x="653.5" y="538.6" width="4.6" height="4.6" fill="#fff" stroke="#222" stroke-width="0.8"/>
<rect x="656.6" y="539.7" width="4.6" height="4.6" fill="#fff" stroke="#222" stroke-width="0.8"/>
<rect x="660.5" y="540.8" width="4.6" height="4.6" fill="#fff" stroke="#222" stroke-width="0.8"/>
<rect x="652.7" y="543.0" width="4.6" height="4.6" fill="#fff" stroke="#222" stroke-width="0.8"/>
<rect x="661.5" y="546.4" width="4.6" height="4.6" fill="#fff" stroke="#222" stroke-width="0.8"/>
<rect x="657.1" y="549.7" width="4.6" height="4.6" fill="#fff" stroke="#222" stroke-width="0.8"/>
<rect x="656.7" y="553.1" width="4.6" height="4.6" fill="#fff" stroke="#222" stroke-width="0.8"/>
<rect x="663.3" y="554.2" width="4.6" height="4.6" fill="#fff" stroke="#222" stroke-width="0.8"/>
<line x1="661.5" y1="542.5287500000001" x2="661.5" y2="546.9987500000001" stroke="#222" stroke-width="0.9"/>
<line x1="658.5" y1="542.5287500000001" x2="664.5" y2="542.5287500000001" stroke="#222" stroke-width="0.9"/>
<line x1="658.5" y1="546.9987500000001" x2="664.5" y2="546.9987500000001" stroke="#222" stroke-width="0.9"/>
<text x="536.3" y="596.8" font-size="10.5" text-anchor="middle" fill="#1a1a1a">Ki67<tspan dy="-3" font-size="6.5">+</tspan><tspan dy="3" font-size="1">&#8203;</tspan>/BrdU<tspan dy="-3" font-size="6.5">+</tspan><tspan dy="3" font-size="1">&#8203;</tspan></text>
<text x="597.5" y="596.8" font-size="10.5" text-anchor="middle" fill="#1a1a1a">Sox2<tspan dy="-3" font-size="6.5">+</tspan><tspan dy="3" font-size="1">&#8203;</tspan>/BrdU<tspan dy="-3" font-size="6.5">+</tspan><tspan dy="3" font-size="1">&#8203;</tspan></text>
<text x="659" y="596.8" font-size="10.5" text-anchor="middle" fill="#1a1a1a">Dcx<tspan dy="-3" font-size="6.5">+</tspan><tspan dy="3" font-size="1">&#8203;</tspan>/BrdU<tspan dy="-3" font-size="6.5">+</tspan><tspan dy="3" font-size="1">&#8203;</tspan></text>
<line x1="537" y1="582.2" x2="537" y2="585.2" stroke="#2e2e2e" stroke-width="1.55"/>
<line x1="593.3" y1="582.2" x2="593.3" y2="585.2" stroke="#2e2e2e" stroke-width="1.55"/>
<line x1="649.7" y1="582.2" x2="649.7" y2="585.2" stroke="#2e2e2e" stroke-width="1.55"/>
<rect x="513.2" y="443.2" width="9.5" height="8.2" fill="#b4b0af" stroke="#2a2a2a" stroke-width="1"/>
<text x="524.6" y="451.09999999999997" font-size="10.5" text-anchor="start" fill="#1a1a1a">WT</text>
<rect x="513.2" y="459.8" width="9.5" height="8.2" fill="#4ca53a" stroke="#2a2a2a" stroke-width="1"/>
<text x="524.6" y="467.7" font-size="10.5" text-anchor="start" fill="#1a1a1a">iKO</text>
<line x1="522.4" y1="489.1" x2="549.4" y2="489.1" stroke="#3a3a3a" stroke-width="1.3"/>
<text x="535.9" y="489.40000000000003" font-size="9.8" text-anchor="middle" fill="#111" font-weight="bold">***</text>
<line x1="580.9" y1="494" x2="607.8" y2="494" stroke="#3a3a3a" stroke-width="1.3"/>
<text x="594.3499999999999" y="494.3" font-size="9.8" text-anchor="middle" fill="#111" font-weight="bold">***</text>
<line x1="638.4" y1="502.9" x2="661" y2="502.9" stroke="#3a3a3a" stroke-width="1.3"/>
<text x="649.7" y="503.2" font-size="9.8" text-anchor="middle" fill="#111" font-weight="bold">***</text>
<text x="469.5" y="531.8" font-size="10.5" text-anchor="middle" fill="#1a1a1a" transform="rotate(-90 469.5 531.8)">% Marker<tspan dy="-3" font-size="6">+</tspan><tspan dy="3" font-size="1">&#8203;</tspan>/BrdU<tspan dy="-3" font-size="6">+</tspan><tspan dy="3" font-size="1">&#8203;</tspan> cells</text>
<text x="481.5" y="531.8" font-size="10.5" text-anchor="middle" fill="#1a1a1a" transform="rotate(-90 481.5 531.8)">/ total BrdU<tspan dy="-3" font-size="6">+</tspan><tspan dy="3" font-size="1">&#8203;</tspan> cells</text>
<line x1="31.9" y1="661.65" x2="31.9" y2="774.8" stroke="#2e2e2e" stroke-width="1.55"/>
<line x1="31.15" y1="774.05" x2="159.6" y2="774.05" stroke="#2e2e2e" stroke-width="1.55"/>
<line x1="28.599999999999998" y1="774.05" x2="31.9" y2="774.05" stroke="#2e2e2e" stroke-width="1.55"/>
<text x="27.2" y="777.6999999999999" font-size="10.3" text-anchor="end" fill="#1a1a1a">0</text>
<line x1="28.599999999999998" y1="755.4799999999999" x2="31.9" y2="755.4799999999999" stroke="#2e2e2e" stroke-width="1.55"/>
<text x="27.2" y="759.1299999999999" font-size="10.3" text-anchor="end" fill="#1a1a1a">10</text>
<line x1="28.599999999999998" y1="736.91" x2="31.9" y2="736.91" stroke="#2e2e2e" stroke-width="1.55"/>
<text x="27.2" y="740.56" font-size="10.3" text-anchor="end" fill="#1a1a1a">20</text>
<line x1="28.599999999999998" y1="718.3399999999999" x2="31.9" y2="718.3399999999999" stroke="#2e2e2e" stroke-width="1.55"/>
<text x="27.2" y="721.9899999999999" font-size="10.3" text-anchor="end" fill="#1a1a1a">30</text>
<line x1="28.599999999999998" y1="699.77" x2="31.9" y2="699.77" stroke="#2e2e2e" stroke-width="1.55"/>
<text x="27.2" y="703.42" font-size="10.3" text-anchor="end" fill="#1a1a1a">40</text>
<line x1="28.599999999999998" y1="681.1999999999999" x2="31.9" y2="681.1999999999999" stroke="#2e2e2e" stroke-width="1.55"/>
<text x="27.2" y="684.8499999999999" font-size="10.3" text-anchor="end" fill="#1a1a1a">50</text>
<line x1="28.599999999999998" y1="662.63" x2="31.9" y2="662.63" stroke="#2e2e2e" stroke-width="1.55"/>
<text x="27.2" y="666.28" font-size="10.3" text-anchor="end" fill="#1a1a1a">60</text>
<line x1="31.9" y1="774.05" x2="31.9" y2="777.05" stroke="#2e2e2e" stroke-width="1.55"/>
<text x="31.9" y="788.65" font-size="10.3" text-anchor="middle" fill="#1a1a1a">1</text>
<line x1="57.23" y1="774.05" x2="57.23" y2="777.05" stroke="#2e2e2e" stroke-width="1.55"/>
<text x="57.23" y="788.65" font-size="10.3" text-anchor="middle" fill="#1a1a1a">2</text>
<line x1="82.56" y1="774.05" x2="82.56" y2="777.05" stroke="#2e2e2e" stroke-width="1.55"/>
<text x="82.56" y="788.65" font-size="10.3" text-anchor="middle" fill="#1a1a1a">3</text>
<line x1="107.88999999999999" y1="774.05" x2="107.88999999999999" y2="777.05" stroke="#2e2e2e" stroke-width="1.55"/>
<text x="107.88999999999999" y="788.65" font-size="10.3" text-anchor="middle" fill="#1a1a1a">4</text>
<line x1="133.22" y1="774.05" x2="133.22" y2="777.05" stroke="#2e2e2e" stroke-width="1.55"/>
<text x="133.22" y="788.65" font-size="10.3" text-anchor="middle" fill="#1a1a1a">5</text>
<line x1="158.54999999999998" y1="774.05" x2="158.54999999999998" y2="777.05" stroke="#2e2e2e" stroke-width="1.55"/>
<text x="158.54999999999998" y="788.65" font-size="10.3" text-anchor="middle" fill="#1a1a1a">6</text>
<text x="95.6" y="803.2" font-size="10.5" text-anchor="middle" fill="#1a1a1a">Days</text>
<text x="8.2" y="719.4" font-size="10.5" text-anchor="middle" fill="#1a1a1a" transform="rotate(-90 8.2 719.4)">Latency (sec)</text>
<polyline points="31.9,668.2 57.2,685 82.6,720.9 107.9,727.7 133.2,739.9 158.5,745.2" fill="none" stroke="#b4b0af" stroke-width="1.9" stroke-linejoin="round"/>
<line x1="31.9" y1="665.2" x2="31.9" y2="671.2" stroke="#b4b0af" stroke-width="1.1"/>
<line x1="29.9" y1="665.2" x2="33.9" y2="665.2" stroke="#b4b0af" stroke-width="1.1"/>
<line x1="29.9" y1="671.2" x2="33.9" y2="671.2" stroke="#b4b0af" stroke-width="1.1"/>
<circle cx="31.9" cy="668.2" r="2.4" fill="#b4b0af"/>
<line x1="57.23" y1="680" x2="57.23" y2="690" stroke="#b4b0af" stroke-width="1.1"/>
<line x1="55.23" y1="680" x2="59.23" y2="680" stroke="#b4b0af" stroke-width="1.1"/>
<line x1="55.23" y1="690" x2="59.23" y2="690" stroke="#b4b0af" stroke-width="1.1"/>
<circle cx="57.2" cy="685" r="2.4" fill="#b4b0af"/>
<line x1="82.56" y1="715.4" x2="82.56" y2="726.4" stroke="#b4b0af" stroke-width="1.1"/>
<line x1="80.56" y1="715.4" x2="84.56" y2="715.4" stroke="#b4b0af" stroke-width="1.1"/>
<line x1="80.56" y1="726.4" x2="84.56" y2="726.4" stroke="#b4b0af" stroke-width="1.1"/>
<circle cx="82.6" cy="720.9" r="2.4" fill="#b4b0af"/>
<line x1="107.88999999999999" y1="722.2" x2="107.88999999999999" y2="733.2" stroke="#b4b0af" stroke-width="1.1"/>
<line x1="105.88999999999999" y1="722.2" x2="109.88999999999999" y2="722.2" stroke="#b4b0af" stroke-width="1.1"/>
<line x1="105.88999999999999" y1="733.2" x2="109.88999999999999" y2="733.2" stroke="#b4b0af" stroke-width="1.1"/>
<circle cx="107.9" cy="727.7" r="2.4" fill="#b4b0af"/>
<line x1="133.22" y1="736.4" x2="133.22" y2="743.4" stroke="#b4b0af" stroke-width="1.1"/>
<line x1="131.22" y1="736.4" x2="135.22" y2="736.4" stroke="#b4b0af" stroke-width="1.1"/>
<line x1="131.22" y1="743.4" x2="135.22" y2="743.4" stroke="#b4b0af" stroke-width="1.1"/>
<circle cx="133.2" cy="739.9" r="2.4" fill="#b4b0af"/>
<line x1="158.54999999999998" y1="742.2" x2="158.54999999999998" y2="748.2" stroke="#b4b0af" stroke-width="1.1"/>
<line x1="156.54999999999998" y1="742.2" x2="160.54999999999998" y2="742.2" stroke="#b4b0af" stroke-width="1.1"/>
<line x1="156.54999999999998" y1="748.2" x2="160.54999999999998" y2="748.2" stroke="#b4b0af" stroke-width="1.1"/>
<circle cx="158.5" cy="745.2" r="2.4" fill="#b4b0af"/>
<polyline points="31.9,675.5 57.2,686.8 82.6,700.7 107.9,703.3 133.2,721.5 158.5,727" fill="none" stroke="#4ca53a" stroke-width="1.9" stroke-linejoin="round"/>
<line x1="31.9" y1="672.0" x2="31.9" y2="679.0" stroke="#4ca53a" stroke-width="1.1"/>
<line x1="29.9" y1="672.0" x2="33.9" y2="672.0" stroke="#4ca53a" stroke-width="1.1"/>
<line x1="29.9" y1="679.0" x2="33.9" y2="679.0" stroke="#4ca53a" stroke-width="1.1"/>
<rect x="29.6" y="673.2" width="4.6" height="4.6" fill="#4ca53a"/>
<line x1="57.23" y1="682.3" x2="57.23" y2="691.3" stroke="#4ca53a" stroke-width="1.1"/>
<line x1="55.23" y1="682.3" x2="59.23" y2="682.3" stroke="#4ca53a" stroke-width="1.1"/>
<line x1="55.23" y1="691.3" x2="59.23" y2="691.3" stroke="#4ca53a" stroke-width="1.1"/>
<rect x="54.9" y="684.5" width="4.6" height="4.6" fill="#4ca53a"/>
<line x1="82.56" y1="695.7" x2="82.56" y2="705.7" stroke="#4ca53a" stroke-width="1.1"/>
<line x1="80.56" y1="695.7" x2="84.56" y2="695.7" stroke="#4ca53a" stroke-width="1.1"/>
<line x1="80.56" y1="705.7" x2="84.56" y2="705.7" stroke="#4ca53a" stroke-width="1.1"/>
<rect x="80.3" y="698.4000000000001" width="4.6" height="4.6" fill="#4ca53a"/>
<line x1="107.88999999999999" y1="698.3" x2="107.88999999999999" y2="708.3" stroke="#4ca53a" stroke-width="1.1"/>
<line x1="105.88999999999999" y1="698.3" x2="109.88999999999999" y2="698.3" stroke="#4ca53a" stroke-width="1.1"/>
<line x1="105.88999999999999" y1="708.3" x2="109.88999999999999" y2="708.3" stroke="#4ca53a" stroke-width="1.1"/>
<rect x="105.6" y="701.0" width="4.6" height="4.6" fill="#4ca53a"/>
<line x1="133.22" y1="716.5" x2="133.22" y2="726.5" stroke="#4ca53a" stroke-width="1.1"/>
<line x1="131.22" y1="716.5" x2="135.22" y2="716.5" stroke="#4ca53a" stroke-width="1.1"/>
<line x1="131.22" y1="726.5" x2="135.22" y2="726.5" stroke="#4ca53a" stroke-width="1.1"/>
<rect x="130.9" y="719.2" width="4.6" height="4.6" fill="#4ca53a"/>
<line x1="158.54999999999998" y1="723" x2="158.54999999999998" y2="731" stroke="#4ca53a" stroke-width="1.1"/>
<line x1="156.54999999999998" y1="723" x2="160.54999999999998" y2="723" stroke="#4ca53a" stroke-width="1.1"/>
<line x1="156.54999999999998" y1="731" x2="160.54999999999998" y2="731" stroke="#4ca53a" stroke-width="1.1"/>
<rect x="156.2" y="724.7" width="4.6" height="4.6" fill="#4ca53a"/>
<line x1="36" y1="748.4" x2="46" y2="748.4" stroke="#b4b0af" stroke-width="1.9"/>
<circle cx="41" cy="748.4" r="2.4" fill="#b4b0af"/>
<text x="49" y="752.2" font-size="10.5" text-anchor="start" fill="#1a1a1a">WT</text>
<line x1="36" y1="762.3" x2="46" y2="762.3" stroke="#4ca53a" stroke-width="1.9"/>
<rect x="38.7" y="760" width="4.6" height="4.6" fill="#4ca53a"/>
<text x="49" y="766.1" font-size="10.5" text-anchor="start" fill="#1a1a1a">iKO</text>
<line x1="165.8" y1="727" x2="165.8" y2="745.7" stroke="#4a4a4a" stroke-width="1.6"/>
<text x="165.6" y="736.2" font-size="9.8" text-anchor="middle" fill="#111" font-weight="bold" transform="rotate(90 165.6 736.2)">***</text>
<text x="236.5" y="641.2" font-size="10.5" text-anchor="middle" fill="#1a1a1a">WT</text>
<text x="235.5" y="728.4" font-size="10.5" text-anchor="middle" fill="#1a1a1a">iKO</text>
<clipPath id="mz677"><circle cx="235.4" cy="677.5" r="30.7"/></clipPath><g clip-path="url(#mz677)">
<rect x="203.70000000000002" y="645.8" width="30.49999999999997" height="31.40000000000009" fill="#a2a2a2"/>
<rect x="234.2" y="645.8" width="32.900000000000034" height="31.40000000000009" fill="#858585"/>
<rect x="234.2" y="677.2" width="32.900000000000034" height="32.0" fill="#6d6d6d"/>
<rect x="203.70000000000002" y="677.2" width="30.49999999999997" height="32.0" fill="#d2d2d2"/>
</g>
<g transform="translate(195,625) scale(0.21739)"><path d="M130,155 L140,190 L175,240 L210,290 L225,315 L215,330 L205,320 L195,335 L185,320 L175,335 L165,320 L175,300 L150,310 L125,300 L110,270 L100,240 L105,215 L130,208 L160,215 L185,240 L200,270 L215,300 L235,320 L245,325 L240,310 L225,300 L215,280 L230,250 L245,215 L250,205 L235,215 L225,250 L240,262 L270,258 L262,245 L245,240 L210,255 L180,235 L150,190 L135,160 L150,155 L175,200 L200,240 L220,285 L200,300 L180,310 L150,295 L120,300 L112,280 L130,270 L160,285 L185,300 L190,330 L200,345 L215,335" fill="none" stroke="#e2352b" stroke-width="2.6" stroke-linejoin="round" opacity="0.9"/></g>
<circle cx="246.5" cy="688.5" r="2" fill="none" stroke="#8a8a98" stroke-width="0.5"/>
<clipPath id="mz762"><circle cx="235.4" cy="762.4" r="30.3"/></clipPath><g clip-path="url(#mz762)">
<rect x="204.1" y="731.1" width="30.099999999999994" height="30.5" fill="#a2a2a2"/>
<rect x="234.2" y="731.1" width="32.5" height="30.5" fill="#858585"/>
<rect x="234.2" y="761.6" width="32.5" height="32.09999999999991" fill="#6d6d6d"/>
<rect x="204.1" y="761.6" width="30.099999999999994" height="32.09999999999991" fill="#d2d2d2"/>
</g>
<g transform="translate(195,625) scale(0.21739)"><path d="M60,620 L50,625 L75,640 L95,690 L130,700 L150,680 L120,640 L95,610 L100,580 L130,550 L160,540 L200,545 L235,570 L245,610 L225,650 L200,690 L170,700 L140,660 L110,620 L120,590 L160,575 L200,590 L220,620 L200,650 L180,680 L150,640 L130,610 L150,590 L190,600 L205,625 L190,660 L160,690 L130,690 L100,650 L80,610 L70,580 L85,555 L110,540 L150,532 L190,538 L215,555 L240,580 L235,600 L215,585 L180,565 L140,560 L105,580 L90,610 L60,622 L100,625 L130,650 L150,690 L140,705 L110,680 L90,640" fill="none" stroke="#e2352b" stroke-width="2.6" stroke-linejoin="round" opacity="0.9"/></g>
<circle cx="245.5" cy="774" r="2" fill="none" stroke="#8a8a98" stroke-width="0.5"/>
<line x1="351.3" y1="664.15" x2="351.3" y2="776.55" stroke="#2e2e2e" stroke-width="1.55"/>
<line x1="350.55" y1="775.8" x2="405.7" y2="775.8" stroke="#2e2e2e" stroke-width="1.55"/>
<line x1="348.0" y1="775.8" x2="351.3" y2="775.8" stroke="#2e2e2e" stroke-width="1.55"/>
<text x="346.6" y="779.4499999999999" font-size="10.3" text-anchor="end" fill="#1a1a1a">0</text>
<line x1="348.0" y1="748.0999999999999" x2="351.3" y2="748.0999999999999" stroke="#2e2e2e" stroke-width="1.55"/>
<text x="346.6" y="751.7499999999999" font-size="10.3" text-anchor="end" fill="#1a1a1a">10</text>
<line x1="348.0" y1="720.4" x2="351.3" y2="720.4" stroke="#2e2e2e" stroke-width="1.55"/>
<text x="346.6" y="724.05" font-size="10.3" text-anchor="end" fill="#1a1a1a">20</text>
<line x1="348.0" y1="692.6999999999999" x2="351.3" y2="692.6999999999999" stroke="#2e2e2e" stroke-width="1.55"/>
<text x="346.6" y="696.3499999999999" font-size="10.3" text-anchor="end" fill="#1a1a1a">30</text>
<line x1="348.0" y1="665.0" x2="351.3" y2="665.0" stroke="#2e2e2e" stroke-width="1.55"/>
<text x="346.6" y="668.65" font-size="10.3" text-anchor="end" fill="#1a1a1a">40</text>
<rect x="358.5" y="743.3" width="17.3" height="32.5" fill="#b4b0af" stroke="#333" stroke-width="1.15"/>
<rect x="381.4" y="755.9" width="17.4" height="19.9" fill="#4ca53a" stroke="#333" stroke-width="1.15"/>
<circle cx="366.5" cy="678.8" r="2.3" fill="#fff" stroke="#222" stroke-width="0.8"/>
<circle cx="367.9" cy="698.2" r="2.3" fill="#fff" stroke="#222" stroke-width="0.8"/>
<circle cx="372.7" cy="723.2" r="2.3" fill="#fff" stroke="#222" stroke-width="0.8"/>
<circle cx="366.7" cy="724.3" r="2.3" fill="#fff" stroke="#222" stroke-width="0.8"/>
<circle cx="367.3" cy="730.1" r="2.3" fill="#fff" stroke="#222" stroke-width="0.8"/>
<circle cx="368.3" cy="734.2" r="2.3" fill="#fff" stroke="#222" stroke-width="0.8"/>
<circle cx="363.1" cy="735.6" r="2.3" fill="#fff" stroke="#222" stroke-width="0.8"/>
<circle cx="367.3" cy="737.0" r="2.3" fill="#fff" stroke="#222" stroke-width="0.8"/>
<circle cx="368.8" cy="737.0" r="2.3" fill="#fff" stroke="#222" stroke-width="0.8"/>
<circle cx="371.0" cy="739.8" r="2.3" fill="#fff" stroke="#222" stroke-width="0.8"/>
<circle cx="361.9" cy="739.8" r="2.3" fill="#fff" stroke="#222" stroke-width="0.8"/>
<circle cx="364.6" cy="741.2" r="2.3" fill="#fff" stroke="#222" stroke-width="0.8"/>
<circle cx="361.8" cy="742.6" r="2.3" fill="#fff" stroke="#222" stroke-width="0.8"/>
<circle cx="371.2" cy="743.9" r="2.3" fill="#fff" stroke="#222" stroke-width="0.8"/>
<circle cx="369.7" cy="745.3" r="2.3" fill="#fff" stroke="#222" stroke-width="0.8"/>
<circle cx="361.2" cy="746.7" r="2.3" fill="#fff" stroke="#222" stroke-width="0.8"/>
<circle cx="373.4" cy="748.1" r="2.3" fill="#fff" stroke="#222" stroke-width="0.8"/>
<circle cx="373.2" cy="749.5" r="2.3" fill="#fff" stroke="#222" stroke-width="0.8"/>
<circle cx="369.2" cy="750.9" r="2.3" fill="#fff" stroke="#222" stroke-width="0.8"/>
<circle cx="368.7" cy="753.6" r="2.3" fill="#fff" stroke="#222" stroke-width="0.8"/>
<circle cx="362.7" cy="753.6" r="2.3" fill="#fff" stroke="#222" stroke-width="0.8"/>
<circle cx="360.8" cy="755.0" r="2.3" fill="#fff" stroke="#222" stroke-width="0.8"/>
<circle cx="367.5" cy="756.4" r="2.3" fill="#fff" stroke="#222" stroke-width="0.8"/>
<circle cx="361.4" cy="757.8" r="2.3" fill="#fff" stroke="#222" stroke-width="0.8"/>
<circle cx="363.1" cy="759.2" r="2.3" fill="#fff" stroke="#222" stroke-width="0.8"/>
<circle cx="363.8" cy="759.2" r="2.3" fill="#fff" stroke="#222" stroke-width="0.8"/>
<circle cx="361.0" cy="760.6" r="2.3" fill="#fff" stroke="#222" stroke-width="0.8"/>
<circle cx="366.7" cy="760.6" r="2.3" fill="#fff" stroke="#222" stroke-width="0.8"/>
<line x1="367.15" y1="739.9285" x2="367.15" y2="746.5764999999999" stroke="#222" stroke-width="0.9"/>
<line x1="364.15" y1="739.9285" x2="370.15" y2="739.9285" stroke="#222" stroke-width="0.9"/>
<line x1="364.15" y1="746.5764999999999" x2="370.15" y2="746.5764999999999" stroke="#222" stroke-width="0.9"/>
<rect x="387.0" y="743.0" width="4.6" height="4.6" fill="#fff" stroke="#222" stroke-width="0.8"/>
<rect x="392.3" y="744.4" width="4.6" height="4.6" fill="#fff" stroke="#222" stroke-width="0.8"/>
<rect x="388.0" y="744.4" width="4.6" height="4.6" fill="#fff" stroke="#222" stroke-width="0.8"/>
<rect x="389.6" y="745.8" width="4.6" height="4.6" fill="#fff" stroke="#222" stroke-width="0.8"/>
<rect x="387.8" y="747.2" width="4.6" height="4.6" fill="#fff" stroke="#222" stroke-width="0.8"/>
<rect x="389.9" y="748.6" width="4.6" height="4.6" fill="#fff" stroke="#222" stroke-width="0.8"/>
<rect x="387.2" y="750.0" width="4.6" height="4.6" fill="#fff" stroke="#222" stroke-width="0.8"/>
<rect x="384.9" y="751.3" width="4.6" height="4.6" fill="#fff" stroke="#222" stroke-width="0.8"/>
<rect x="394.3" y="751.3" width="4.6" height="4.6" fill="#fff" stroke="#222" stroke-width="0.8"/>
<rect x="394.2" y="752.7" width="4.6" height="4.6" fill="#fff" stroke="#222" stroke-width="0.8"/>
<rect x="392.2" y="754.1" width="4.6" height="4.6" fill="#fff" stroke="#222" stroke-width="0.8"/>
<rect x="390.5" y="754.1" width="4.6" height="4.6" fill="#fff" stroke="#222" stroke-width="0.8"/>
<rect x="385.4" y="755.5" width="4.6" height="4.6" fill="#fff" stroke="#222" stroke-width="0.8"/>
<rect x="384.3" y="756.9" width="4.6" height="4.6" fill="#fff" stroke="#222" stroke-width="0.8"/>
<rect x="385.1" y="756.9" width="4.6" height="4.6" fill="#fff" stroke="#222" stroke-width="0.8"/>
<rect x="382.2" y="758.3" width="4.6" height="4.6" fill="#fff" stroke="#222" stroke-width="0.8"/>
<rect x="391.3" y="759.6" width="4.6" height="4.6" fill="#fff" stroke="#222" stroke-width="0.8"/>
<rect x="386.5" y="759.6" width="4.6" height="4.6" fill="#fff" stroke="#222" stroke-width="0.8"/>
<rect x="392.3" y="761.0" width="4.6" height="4.6" fill="#fff" stroke="#222" stroke-width="0.8"/>
<rect x="386.3" y="762.4" width="4.6" height="4.6" fill="#fff" stroke="#222" stroke-width="0.8"/>
<rect x="393.8" y="763.8" width="4.6" height="4.6" fill="#fff" stroke="#222" stroke-width="0.8"/>
<rect x="392.3" y="766.6" width="4.6" height="4.6" fill="#fff" stroke="#222" stroke-width="0.8"/>
<line x1="390.1" y1="754.194" x2="390.1" y2="757.518" stroke="#222" stroke-width="0.9"/>
<line x1="387.1" y1="754.194" x2="393.1" y2="754.194" stroke="#222" stroke-width="0.9"/>
<line x1="387.1" y1="757.518" x2="393.1" y2="757.518" stroke="#222" stroke-width="0.9"/>
<line x1="367.1" y1="775.8" x2="367.1" y2="778.8" stroke="#2e2e2e" stroke-width="1.55"/>
<line x1="390.2" y1="775.8" x2="390.2" y2="778.8" stroke="#2e2e2e" stroke-width="1.55"/>
<text x="365.8" y="790.7" font-size="10.5" text-anchor="middle" fill="#1a1a1a">WT</text>
<text x="393.8" y="790.7" font-size="10.5" text-anchor="middle" fill="#1a1a1a">iKO</text>
<line x1="365" y1="669.6" x2="392.6" y2="669.6" stroke="#3a3a3a" stroke-width="1.3"/>
<text x="378.8" y="669.9000000000001" font-size="9.8" text-anchor="middle" fill="#111" font-weight="bold">**</text>
<text x="315.3" y="721.3" font-size="10.5" text-anchor="middle" fill="#1a1a1a" transform="rotate(-90 315.3 721.3)">Time spent in</text>
<text x="325.6" y="719" font-size="10.5" text-anchor="middle" fill="#1a1a1a" transform="rotate(-90 325.6 719)">target quadrant (sec)</text>
<line x1="447.1" y1="663.25" x2="447.1" y2="776.55" stroke="#2e2e2e" stroke-width="1.55"/>
<line x1="446.35" y1="775.8" x2="502.6" y2="775.8" stroke="#2e2e2e" stroke-width="1.55"/>
<line x1="443.8" y1="775.8" x2="447.1" y2="775.8" stroke="#2e2e2e" stroke-width="1.55"/>
<text x="442.40000000000003" y="779.4499999999999" font-size="10.3" text-anchor="end" fill="#1a1a1a">0</text>
<line x1="443.8" y1="753.43" x2="447.1" y2="753.43" stroke="#2e2e2e" stroke-width="1.55"/>
<text x="442.40000000000003" y="757.0799999999999" font-size="10.3" text-anchor="end" fill="#1a1a1a">2</text>
<line x1="443.8" y1="731.06" x2="447.1" y2="731.06" stroke="#2e2e2e" stroke-width="1.55"/>
<text x="442.40000000000003" y="734.7099999999999" font-size="10.3" text-anchor="end" fill="#1a1a1a">4</text>
<line x1="443.8" y1="708.6899999999999" x2="447.1" y2="708.6899999999999" stroke="#2e2e2e" stroke-width="1.55"/>
<text x="442.40000000000003" y="712.3399999999999" font-size="10.3" text-anchor="end" fill="#1a1a1a">6</text>
<line x1="443.8" y1="686.3199999999999" x2="447.1" y2="686.3199999999999" stroke="#2e2e2e" stroke-width="1.55"/>
<text x="442.40000000000003" y="689.9699999999999" font-size="10.3" text-anchor="end" fill="#1a1a1a">8</text>
<line x1="443.8" y1="663.9499999999999" x2="447.1" y2="663.9499999999999" stroke="#2e2e2e" stroke-width="1.55"/>
<text x="442.40000000000003" y="667.5999999999999" font-size="10.3" text-anchor="end" fill="#1a1a1a">10</text>
<rect x="451.9" y="727.9" width="19.0" height="47.9" fill="#b4b0af" stroke="#333" stroke-width="1.15"/>
<rect x="480.2" y="747.8" width="19.1" height="28.0" fill="#4ca53a" stroke="#333" stroke-width="1.15"/>
<line x1="461.4" y1="711.1506999999999" x2="461.4" y2="744.7057" stroke="#222" stroke-width="1.2"/>
<line x1="455.65" y1="711.1506999999999" x2="467.15" y2="711.1506999999999" stroke="#222" stroke-width="1.2"/>
<line x1="455.65" y1="744.7057" x2="467.15" y2="744.7057" stroke="#222" stroke-width="1.2"/>
<line x1="489.7" y1="734.4155" x2="489.7" y2="765.7334999999999" stroke="#222" stroke-width="1.2"/>
<line x1="485.2" y1="734.4155" x2="494.2" y2="734.4155" stroke="#222" stroke-width="1.2"/>
<line x1="485.2" y1="765.7334999999999" x2="494.2" y2="765.7334999999999" stroke="#222" stroke-width="1.2"/>
<circle cx="461.4" cy="686.3" r="2.1" fill="#fff" stroke="#222" stroke-width="0.8"/>
<circle cx="458.5" cy="697.5" r="2.1" fill="#fff" stroke="#222" stroke-width="0.8"/>
<circle cx="461.4" cy="697.5" r="2.1" fill="#fff" stroke="#222" stroke-width="0.8"/>
<circle cx="464.3" cy="697.5" r="2.1" fill="#fff" stroke="#222" stroke-width="0.8"/>
<circle cx="458.5" cy="708.7" r="2.1" fill="#fff" stroke="#222" stroke-width="0.8"/>
<circle cx="461.4" cy="708.7" r="2.1" fill="#fff" stroke="#222" stroke-width="0.8"/>
<circle cx="464.3" cy="708.7" r="2.1" fill="#fff" stroke="#222" stroke-width="0.8"/>
<circle cx="457.0" cy="719.9" r="2.1" fill="#fff" stroke="#222" stroke-width="0.8"/>
<circle cx="459.9" cy="719.9" r="2.1" fill="#fff" stroke="#222" stroke-width="0.8"/>
<circle cx="462.8" cy="719.9" r="2.1" fill="#fff" stroke="#222" stroke-width="0.8"/>
<circle cx="465.8" cy="719.9" r="2.1" fill="#fff" stroke="#222" stroke-width="0.8"/>
<circle cx="452.7" cy="731.1" r="2.1" fill="#fff" stroke="#222" stroke-width="0.8"/>
<circle cx="455.6" cy="731.1" r="2.1" fill="#fff" stroke="#222" stroke-width="0.8"/>
<circle cx="458.5" cy="731.1" r="2.1" fill="#fff" stroke="#222" stroke-width="0.8"/>
<circle cx="461.4" cy="731.1" r="2.1" fill="#fff" stroke="#222" stroke-width="0.8"/>
<circle cx="464.3" cy="731.1" r="2.1" fill="#fff" stroke="#222" stroke-width="0.8"/>
<circle cx="467.2" cy="731.1" r="2.1" fill="#fff" stroke="#222" stroke-width="0.8"/>
<circle cx="470.1" cy="731.1" r="2.1" fill="#fff" stroke="#222" stroke-width="0.8"/>
<circle cx="452.7" cy="742.2" r="2.1" fill="#fff" stroke="#222" stroke-width="0.8"/>
<circle cx="455.6" cy="742.2" r="2.1" fill="#fff" stroke="#222" stroke-width="0.8"/>
<circle cx="458.5" cy="742.2" r="2.1" fill="#fff" stroke="#222" stroke-width="0.8"/>
<circle cx="461.4" cy="742.2" r="2.1" fill="#fff" stroke="#222" stroke-width="0.8"/>
<circle cx="464.3" cy="742.2" r="2.1" fill="#fff" stroke="#222" stroke-width="0.8"/>
<circle cx="467.2" cy="742.2" r="2.1" fill="#fff" stroke="#222" stroke-width="0.8"/>
<circle cx="470.1" cy="742.2" r="2.1" fill="#fff" stroke="#222" stroke-width="0.8"/>
<circle cx="459.9" cy="753.4" r="2.1" fill="#fff" stroke="#222" stroke-width="0.8"/>
<circle cx="462.8" cy="753.4" r="2.1" fill="#fff" stroke="#222" stroke-width="0.8"/>
<rect x="487.6" y="717.8" width="4.2" height="4.2" fill="#fff" stroke="#222" stroke-width="0.8"/>
<rect x="484.0" y="729.0" width="4.2" height="4.2" fill="#fff" stroke="#222" stroke-width="0.8"/>
<rect x="487.6" y="729.0" width="4.2" height="4.2" fill="#fff" stroke="#222" stroke-width="0.8"/>
<rect x="491.2" y="729.0" width="4.2" height="4.2" fill="#fff" stroke="#222" stroke-width="0.8"/>
<rect x="480.4" y="740.1" width="4.2" height="4.2" fill="#fff" stroke="#222" stroke-width="0.8"/>
<rect x="484.0" y="740.1" width="4.2" height="4.2" fill="#fff" stroke="#222" stroke-width="0.8"/>
<rect x="487.6" y="740.1" width="4.2" height="4.2" fill="#fff" stroke="#222" stroke-width="0.8"/>
<rect x="491.2" y="740.1" width="4.2" height="4.2" fill="#fff" stroke="#222" stroke-width="0.8"/>
<rect x="494.8" y="740.1" width="4.2" height="4.2" fill="#fff" stroke="#222" stroke-width="0.8"/>
<rect x="482.2" y="751.3" width="4.2" height="4.2" fill="#fff" stroke="#222" stroke-width="0.8"/>
<rect x="485.8" y="751.3" width="4.2" height="4.2" fill="#fff" stroke="#222" stroke-width="0.8"/>
<rect x="489.4" y="751.3" width="4.2" height="4.2" fill="#fff" stroke="#222" stroke-width="0.8"/>
<rect x="493.0" y="751.3" width="4.2" height="4.2" fill="#fff" stroke="#222" stroke-width="0.8"/>
<rect x="487.6" y="762.5" width="4.2" height="4.2" fill="#fff" stroke="#222" stroke-width="0.8"/>
<rect x="484.0" y="773.7" width="4.2" height="4.2" fill="#fff" stroke="#222" stroke-width="0.8"/>
<rect x="487.6" y="773.7" width="4.2" height="4.2" fill="#fff" stroke="#222" stroke-width="0.8"/>
<rect x="491.2" y="773.7" width="4.2" height="4.2" fill="#fff" stroke="#222" stroke-width="0.8"/>
<line x1="461.6" y1="775.8" x2="461.6" y2="778.8" stroke="#2e2e2e" stroke-width="1.55"/>
<line x1="489.7" y1="775.8" x2="489.7" y2="778.8" stroke="#2e2e2e" stroke-width="1.55"/>
<text x="460.7" y="790.7" font-size="10.5" text-anchor="middle" fill="#1a1a1a">WT</text>
<text x="489.6" y="790.7" font-size="10.5" text-anchor="middle" fill="#1a1a1a">iKO</text>
<line x1="462.5" y1="679.3" x2="490" y2="679.3" stroke="#3a3a3a" stroke-width="1.3"/>
<text x="476.25" y="679.6" font-size="9.8" text-anchor="middle" fill="#111" font-weight="bold">***</text>
<text x="427.4" y="718.5" font-size="10.5" text-anchor="middle" fill="#1a1a1a" transform="rotate(-90 427.4 718.5)">Platform crossing</text>
<line x1="554.9" y1="663.15" x2="554.9" y2="776.55" stroke="#2e2e2e" stroke-width="1.55"/>
<line x1="554.15" y1="775.8" x2="667.5" y2="775.8" stroke="#2e2e2e" stroke-width="1.55"/>
<line x1="551.6" y1="775.8" x2="554.9" y2="775.8" stroke="#2e2e2e" stroke-width="1.55"/>
<text x="550.1999999999999" y="779.4499999999999" font-size="10.3" text-anchor="end" fill="#1a1a1a">0</text>
<line x1="551.6" y1="753.4" x2="554.9" y2="753.4" stroke="#2e2e2e" stroke-width="1.55"/>
<text x="550.1999999999999" y="757.05" font-size="10.3" text-anchor="end" fill="#1a1a1a">10</text>
<line x1="551.6" y1="731.0" x2="554.9" y2="731.0" stroke="#2e2e2e" stroke-width="1.55"/>
<text x="550.1999999999999" y="734.65" font-size="10.3" text-anchor="end" fill="#1a1a1a">20</text>
<line x1="551.6" y1="708.5999999999999" x2="554.9" y2="708.5999999999999" stroke="#2e2e2e" stroke-width="1.55"/>
<text x="550.1999999999999" y="712.2499999999999" font-size="10.3" text-anchor="end" fill="#1a1a1a">30</text>
<line x1="551.6" y1="686.1999999999999" x2="554.9" y2="686.1999999999999" stroke="#2e2e2e" stroke-width="1.55"/>
<text x="550.1999999999999" y="689.8499999999999" font-size="10.3" text-anchor="end" fill="#1a1a1a">40</text>
<line x1="551.6" y1="663.8" x2="554.9" y2="663.8" stroke="#2e2e2e" stroke-width="1.55"/>
<text x="550.1999999999999" y="667.4499999999999" font-size="10.3" text-anchor="end" fill="#1a1a1a">50</text>
<rect x="564.7" y="685.3" width="15.9" height="90.5" fill="#b4b0af" stroke="#333" stroke-width="1.15"/>
<rect x="586.2" y="701.2" width="15.9" height="74.6" fill="#4ca53a" stroke="#333" stroke-width="1.15"/>
<rect x="621.2" y="693.1" width="16.4" height="82.7" fill="#b4b0af" stroke="#333" stroke-width="1.15"/>
<rect x="642.5" y="720.0" width="16.1" height="55.8" fill="#4ca53a" stroke="#333" stroke-width="1.15"/>
<circle cx="569.8" cy="670.2" r="2.1" fill="#fff" stroke="#222" stroke-width="0.8"/>
<circle cx="575.2" cy="673.3" r="2.1" fill="#fff" stroke="#222" stroke-width="0.8"/>
<circle cx="572.9" cy="681.2" r="2.1" fill="#fff" stroke="#222" stroke-width="0.8"/>
<circle cx="572.9" cy="691.2" r="2.1" fill="#fff" stroke="#222" stroke-width="0.8"/>
<circle cx="572.9" cy="706.9" r="2.1" fill="#fff" stroke="#222" stroke-width="0.8"/>
<circle cx="629.6" cy="675.6" r="2.1" fill="#fff" stroke="#222" stroke-width="0.8"/>
<circle cx="629.6" cy="682.6" r="2.1" fill="#fff" stroke="#222" stroke-width="0.8"/>
<circle cx="625.9" cy="693.1" r="2.1" fill="#fff" stroke="#222" stroke-width="0.8"/>
<circle cx="632.0" cy="695.9" r="2.1" fill="#fff" stroke="#222" stroke-width="0.8"/>
<circle cx="629.4" cy="715.1" r="2.1" fill="#fff" stroke="#222" stroke-width="0.8"/>
<rect x="591.8" y="679.8" width="4.2" height="4.2" fill="#fff" stroke="#222" stroke-width="0.8"/>
<rect x="589.5" y="696.2" width="4.2" height="4.2" fill="#fff" stroke="#222" stroke-width="0.8"/>
<rect x="594.8" y="696.2" width="4.2" height="4.2" fill="#fff" stroke="#222" stroke-width="0.8"/>
<rect x="591.8" y="702.5" width="4.2" height="4.2" fill="#fff" stroke="#222" stroke-width="0.8"/>
<rect x="591.8" y="717.2" width="4.2" height="4.2" fill="#fff" stroke="#222" stroke-width="0.8"/>
<rect x="645.5" y="700.8" width="4.2" height="4.2" fill="#fff" stroke="#222" stroke-width="0.8"/>
<rect x="651.4" y="700.8" width="4.2" height="4.2" fill="#fff" stroke="#222" stroke-width="0.8"/>
<rect x="648.3" y="720.7" width="4.2" height="4.2" fill="#fff" stroke="#222" stroke-width="0.8"/>
<rect x="648.3" y="723.5" width="4.2" height="4.2" fill="#fff" stroke="#222" stroke-width="0.8"/>
<rect x="648.3" y="744.7" width="4.2" height="4.2" fill="#fff" stroke="#222" stroke-width="0.8"/>
<line x1="572.8860079420696" y1="678.3975706610605" x2="572.8860079420696" y2="692.4129876197151" stroke="#222" stroke-width="1.2"/>
<line x1="569.1860079420695" y1="678.3975706610605" x2="576.5860079420696" y2="678.3975706610605" stroke="#222" stroke-width="1.2"/>
<line x1="569.1860079420695" y1="692.4129876197151" x2="576.5860079420696" y2="692.4129876197151" stroke="#222" stroke-width="1.2"/>
<line x1="594.1427236626956" y1="694.7488904461575" x2="594.1427236626956" y2="707.5963559915907" stroke="#222" stroke-width="1.2"/>
<line x1="590.4427236626956" y1="694.7488904461575" x2="597.8427236626957" y2="694.7488904461575" stroke="#222" stroke-width="1.2"/>
<line x1="590.4427236626956" y1="707.5963559915907" x2="597.8427236626957" y2="707.5963559915907" stroke="#222" stroke-width="1.2"/>
<line x1="629.4148563419761" y1="685.4052791403877" x2="629.4148563419761" y2="699.4206960990423" stroke="#222" stroke-width="1.2"/>
<line x1="625.7148563419761" y1="685.4052791403877" x2="633.1148563419762" y2="685.4052791403877" stroke="#222" stroke-width="1.2"/>
<line x1="625.7148563419761" y1="699.4206960990423" x2="633.1148563419762" y2="699.4206960990423" stroke="#222" stroke-width="1.2"/>
<line x1="650.4379817799579" y1="711.1002102312543" x2="650.4379817799579" y2="727.4515300163513" stroke="#222" stroke-width="1.2"/>
<line x1="646.7379817799579" y1="711.1002102312543" x2="654.137981779958" y2="711.1002102312543" stroke="#222" stroke-width="1.2"/>
<line x1="646.7379817799579" y1="727.4515300163513" x2="654.137981779958" y2="727.4515300163513" stroke="#222" stroke-width="1.2"/>
<text x="585.3" y="789.6" font-size="10.5" text-anchor="middle" fill="#1a1a1a">Training</text>
<text x="642.1" y="789.6" font-size="10.5" text-anchor="middle" fill="#1a1a1a">Test</text>
<rect x="559.8" y="632.9" width="9.4" height="7.6" fill="#b4b0af" stroke="#2a2a2a" stroke-width="1"/>
<text x="571.6" y="640.2" font-size="10.5" text-anchor="start" fill="#1a1a1a">WT</text>
<rect x="559.8" y="649.2" width="9.4" height="7.6" fill="#4ca53a" stroke="#2a2a2a" stroke-width="1"/>
<text x="571.6" y="656.5000000000001" font-size="10.5" text-anchor="start" fill="#1a1a1a">iKO</text>
<line x1="627.8" y1="665.5" x2="653" y2="665.5" stroke="#3a3a3a" stroke-width="1.3"/>
<text x="640.4" y="665.8000000000001" font-size="9.8" text-anchor="middle" fill="#111" font-weight="bold">*</text>
<text x="534.6" y="724.5" font-size="10.5" text-anchor="middle" fill="#1a1a1a" transform="rotate(-90 534.6 724.5)">Freezing (% time)</text>
</svg>
</body></html>
